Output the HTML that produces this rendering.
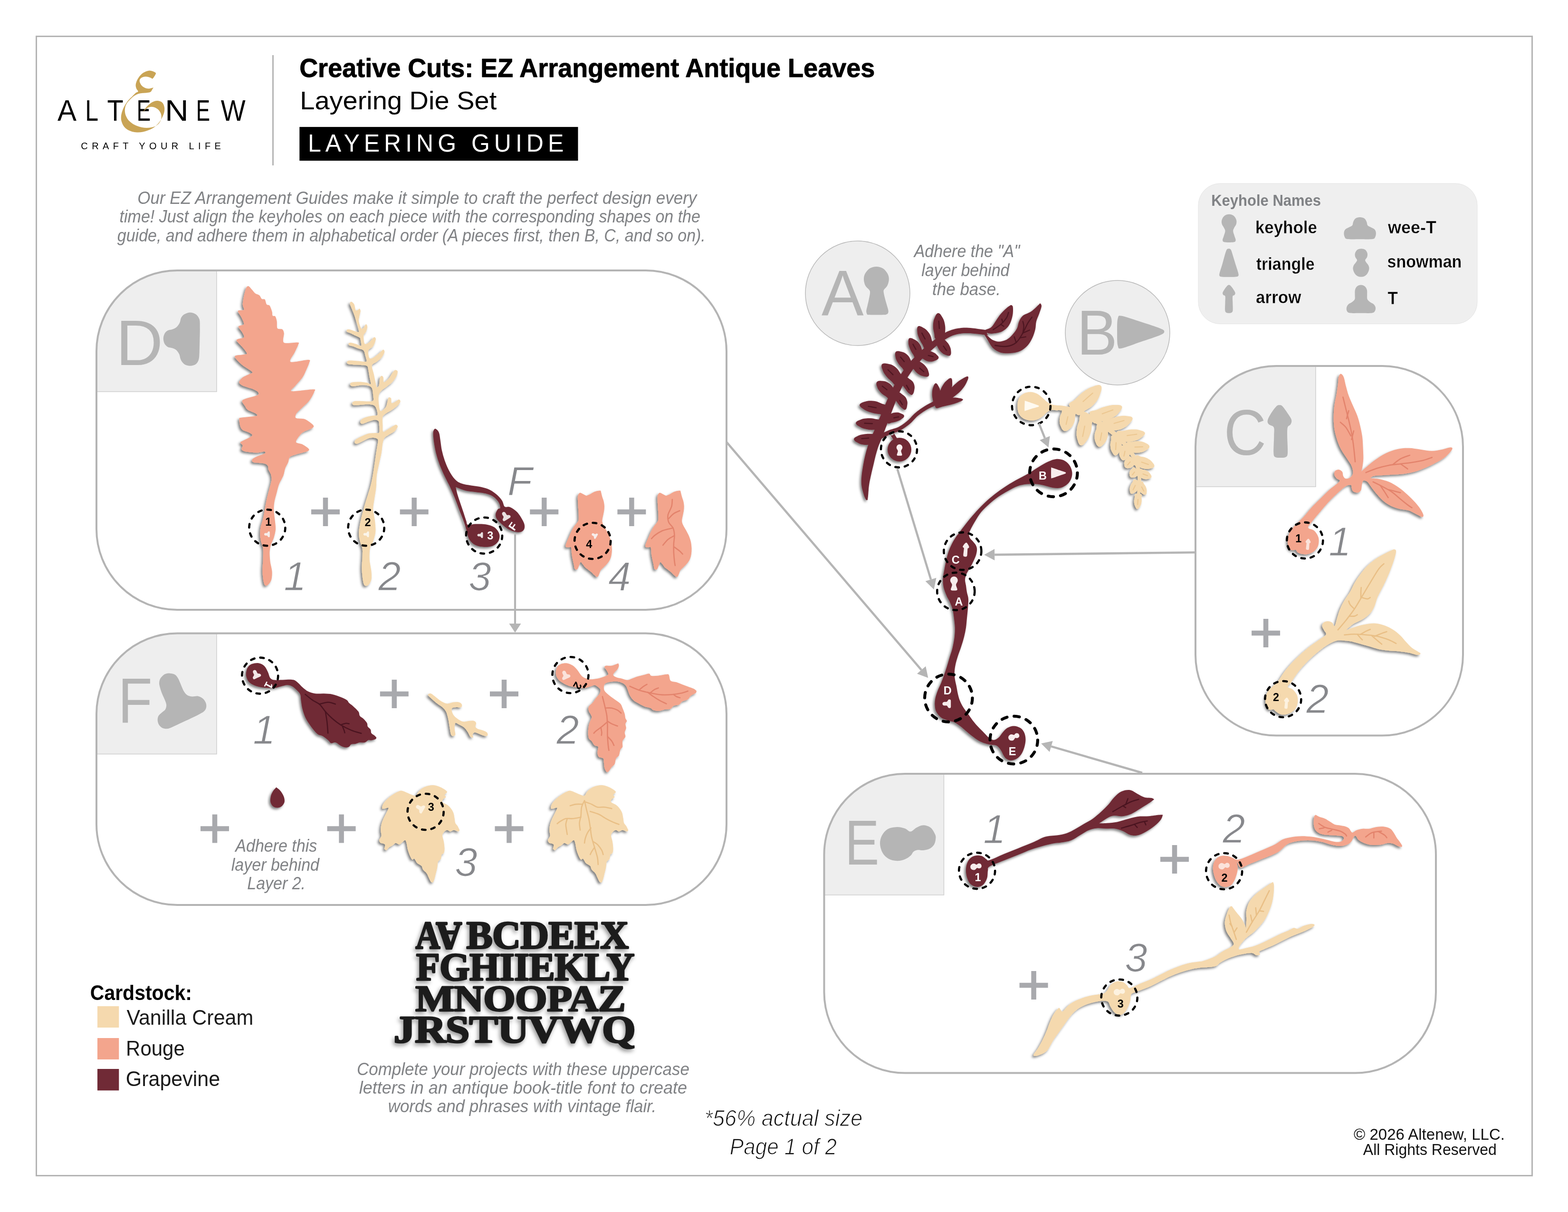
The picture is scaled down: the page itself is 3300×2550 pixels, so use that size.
<!DOCTYPE html>
<html lang="en"><head><meta charset="utf-8"><title>Creative Cuts: EZ Arrangement Antique Leaves - Layering Guide</title>
<style>
html,body{margin:0;padding:0;background:#fff;}
body{width:3300px;height:2550px;overflow:hidden;font-family:"Liberation Sans",sans-serif;}
svg{display:block;position:absolute;left:0;top:0;will-change:transform;}
text{font-family:"Liberation Sans",sans-serif;}
.ss{font-family:"Liberation Sans",sans-serif;}
.sf{font-family:"Liberation Serif",serif;}
.it{font-style:italic;}
.b{font-weight:bold;}
.gv{fill:#702a36;}
.rg{fill:#f3a58d;}
.vc{fill:#f5d9ae;}
.sh{filter:url(#ds);}
.dash{fill:none;stroke:#000;stroke-width:4.6;stroke-dasharray:7.6 12.3;stroke-linecap:round;}
.plus{stroke:#a9aaae;stroke-width:9;fill:none;}
.num{fill:#8b8c90;font-style:italic;font-size:100px;}
.note{fill:#808285;font-style:italic;}
.arr{stroke:#b5b5b5;stroke-width:3.5;fill:none;}
.arh{fill:#b5b5b5;}
.vr{fill:none;stroke:#e3836c;stroke-width:2.6;stroke-linecap:round;stroke-linejoin:round;}
.vv{fill:none;stroke:#e9bf86;stroke-width:2.6;stroke-linecap:round;stroke-linejoin:round;}
.vg{fill:none;stroke:#4a1420;stroke-width:2.5;stroke-linecap:round;stroke-linejoin:round;}
.kh{fill:#b5b5b5;}
</style></head><body>
<svg width="3300" height="2550" viewBox="0 0 3300 2550">
<defs>
<filter id="ds" x="-20%" y="-20%" width="140%" height="140%"><feDropShadow dx="-3.2" dy="3.4" stdDeviation="2.8" flood-color="#000" flood-opacity="0.5"/></filter>
<filter id="ds2" x="-20%" y="-20%" width="140%" height="140%"><feDropShadow dx="-3" dy="5" stdDeviation="4" flood-color="#000" flood-opacity="0.4"/></filter>
</defs>
<!-- page frame -->
<rect x="76.5" y="76.5" width="3148" height="2397" fill="none" stroke="#b4b4b4" stroke-width="3"/>
<line x1="574.5" y1="116" x2="574.5" y2="348" stroke="#b4b4b4" stroke-width="3"/>
<!-- panels -->
<clipPath id="cpD"><rect x="203" y="569" width="1326" height="714" rx="170" ry="170"/></clipPath>
<clipPath id="cpF"><rect x="203" y="1332.5" width="1326" height="571.5" rx="170" ry="170"/></clipPath>
<clipPath id="cpC"><rect x="2516" y="770" width="563" height="777.5" rx="170" ry="170"/></clipPath>
<clipPath id="cpE"><rect x="1734.5" y="1628" width="1287.5" height="629.5" rx="170" ry="170"/></clipPath>
<g fill="#eeeeee" stroke="#cfcfcf" stroke-width="1.5">
<rect x="203" y="569" width="253" height="255" clip-path="url(#cpD)"/>
<rect x="203" y="1332.5" width="253" height="254" clip-path="url(#cpF)"/>
<rect x="2516" y="770" width="253" height="254" clip-path="url(#cpC)"/>
<rect x="1734.5" y="1628" width="252" height="255" clip-path="url(#cpE)"/>
</g>
<g fill="none" stroke="#b4b4b4" stroke-width="4">
<rect x="203" y="569" width="1326" height="714" rx="170" ry="170"/>
<rect x="203" y="1332.5" width="1326" height="571.5" rx="170" ry="170"/>
<rect x="2516" y="770" width="563" height="777.5" rx="170" ry="170"/>
<rect x="1734.5" y="1628" width="1287.5" height="629.5" rx="170" ry="170"/>
</g>
<!-- letter circles -->
<circle cx="1805" cy="617" r="110" fill="#eeeeee" stroke="#b9b9b9" stroke-width="1.5"/>
<circle cx="2352" cy="700" r="110" fill="#eeeeee" stroke="#b9b9b9" stroke-width="1.5"/>
<!-- legend box -->
<rect x="2522" y="386" width="587" height="295.5" rx="46" ry="46" fill="#efefef" stroke="#e4e4e4" stroke-width="1"/>
<!-- header / logo / body text -->
<g aria-label="ALTENEW"><title>ALTENEW</title>
<text class="ss" transform="translate(120.9 253.9) scale(0.6 0.63)" font-size="100" font-weight="normal" font-style="normal" fill="#000">A</text>
<text class="ss" transform="translate(179.36 253.9) scale(0.5 0.63)" font-size="100" font-weight="normal" font-style="normal" fill="#000">L</text>
<text class="ss" transform="translate(225.48 253.9) scale(0.56 0.63)" font-size="100" font-weight="normal" font-style="normal" fill="#000">T</text>
<text class="ss" transform="translate(287.87 253.9) scale(0.44 0.63)" font-size="100" font-weight="normal" font-style="normal" fill="#000">E</text>
<text class="ss" transform="translate(347.11 253.9) scale(0.69 0.63)" font-size="100" font-weight="normal" font-style="normal" fill="#000">N</text>
<text class="ss" transform="translate(412.74 253.9) scale(0.44 0.63)" font-size="100" font-weight="normal" font-style="normal" fill="#000">E</text>
<text class="ss" transform="translate(464.85 253.9) scale(0.55 0.63)" font-size="100" font-weight="normal" font-style="normal" fill="#000">W</text>
</g>
<path d="M327.9 153.7C327.3 152.6 325.1 151.5 322.9 150.6C320.7 149.8 317.5 148.6 314.8 148.6C312.1 148.6 309.5 149.6 306.8 150.6C304.1 151.7 301.2 153.1 298.7 155.2C296.2 157.3 293.6 160.4 291.7 163.2C289.7 166.1 288.1 169.4 287.1 172.3C286.1 175.2 285.5 177.8 285.6 180.4C285.7 182.9 286.8 185.4 287.6 187.4C288.5 189.4 291 191.1 290.7 192.4C290.3 193.8 287.6 193.8 285.6 195.5C283.6 197.1 281.1 200 278.6 202.5C276.1 205 273 207.5 270.5 210.6C268 213.6 265.5 217.3 263.5 220.6C261.4 224 259.8 227.4 258.4 230.7C257.1 234.1 256 237.4 255.4 240.8C254.8 244.1 254.6 247.7 254.9 250.9C255.2 254 256.2 257.1 257.4 259.9C258.7 262.8 260.3 265.6 262.5 268C264.6 270.3 267.5 272.4 270.5 274C273.5 275.6 277.2 276.8 280.6 277.5C283.9 278.3 287.3 278.5 290.7 278.5C294 278.5 297.4 278.2 300.7 277.5C304.1 276.9 307.4 275.8 310.8 274.5C314.2 273.3 317.9 271.8 320.9 270C323.9 268.2 326.4 266.3 328.9 263.9C331.5 261.6 333.8 258.9 336 255.9C338.2 252.9 340.4 249.2 342 245.8C343.6 242.5 344.9 238.9 345.6 235.7C346.2 232.6 346.4 229.5 346.1 226.7C345.7 223.8 344.7 220.7 343.5 218.6C342.4 216.5 340.9 215.2 339 214.1C337.1 213 334.3 212.2 332 212.1C329.6 211.9 327.3 212.3 324.9 213.1C322.6 213.8 320 215.2 317.9 216.6C315.7 218 313.7 220 311.8 221.6C310 223.3 308.3 224.8 306.8 226.7C305.3 228.5 303.9 231 302.7 232.7C301.6 234.5 299.7 237.3 299.7 237.3C299.7 237.3 302.9 233.5 304.8 231.7C306.6 230 308.6 227.9 310.8 226.7C313 225.5 315.5 224.8 317.9 224.7C320.2 224.5 322.6 224.8 324.9 225.7C327.3 226.5 329.9 228 332 229.7C334 231.4 335.7 233.6 337 235.7C338.3 237.9 339.2 240.3 339.5 242.8C339.9 245.3 339.8 248.2 339 250.9C338.3 253.5 336.8 256.6 335 258.9C333.1 261.3 330.6 263.4 327.9 265C325.2 266.5 322.1 267.3 318.9 268C315.7 268.6 312.1 269 308.8 269C305.4 269 302.1 268.6 298.7 268C295.4 267.3 292 266.3 288.6 265C285.3 263.6 281.6 261.9 278.6 259.9C275.5 257.9 272.7 255.4 270.5 252.9C268.3 250.3 266.7 247.7 265.5 244.8C264.2 242 263.3 238.9 263 235.7C262.6 232.6 262.7 228.9 263.5 225.7C264.2 222.5 265.6 219.5 267.5 216.6C269.3 213.8 272 211.1 274.5 208.6C277.1 206 279.9 203.4 282.6 201.5C285.3 199.7 288 198.4 290.7 197.5C293.3 196.6 296 196.3 298.7 196C301.4 195.6 304.3 195.7 306.8 195.5C309.3 195.2 312 195 313.8 194.5C315.7 194 316.7 193.6 317.9 192.4C319 191.3 320 188.8 320.9 187.4C321.8 186 323.1 184.2 323.1 184.2C323.1 184.2 321.4 184.5 319.9 184.9C318.3 185.3 316 186.3 313.8 186.4C311.6 186.5 309.1 186.2 306.8 185.4C304.4 184.6 301.6 182.9 299.7 181.4C297.9 179.9 296.7 178.2 295.7 176.3C294.7 174.5 293.7 172.1 293.7 170.3C293.7 168.4 294.5 166.6 295.7 165.2C296.9 163.9 298.7 162.9 300.7 162.2C302.7 161.6 305.4 161.1 307.8 161.2C310.1 161.3 312.7 162 314.8 162.7C317 163.5 320.9 165.8 320.9 165.8C320.9 165.8 322.9 163.7 323.9 162.2C324.9 160.8 326.3 158.6 326.9 157.2C327.6 155.8 328.6 154.8 327.9 153.7Z" fill="#c9a455"/>
<text class="ss" transform="translate(170.32 313.8) scale(0.2 0.21)" font-size="100" font-weight="normal" font-style="normal" fill="#000" letter-spacing="42">CRAFT YOUR LIFE</text>
<text class="ss" transform="translate(630.13 162) scale(0.54 0.56)" font-size="100" font-weight="bold" font-style="normal" fill="#000" stroke="#000" stroke-width="1.6" stroke-linejoin="round">Creative Cuts: EZ Arrangement Antique Leaves</text>
<text class="ss" transform="translate(631.24 229.9) scale(0.56 0.54)" font-size="100" font-weight="normal" font-style="normal" fill="#000">Layering Die Set</text>
<rect x="630.3" y="267.1" width="586.2" height="71" fill="#000"/>
<text class="ss" transform="translate(647.96 318.8) scale(0.5 0.51)" font-size="100" font-weight="normal" font-style="normal" fill="#fff" letter-spacing="18">LAYERING GUIDE</text>
<text class="ss" transform="translate(289.27 429) scale(0.35 0.37)" font-size="100" font-weight="normal" font-style="italic" fill="#808285">Our EZ Arrangement Guides make it simple to craft the perfect design every</text>
<text class="ss" transform="translate(251.58 468.3) scale(0.34 0.37)" font-size="100" font-weight="normal" font-style="italic" fill="#808285">time! Just align the keyholes on each piece with the corresponding shapes on the</text>
<text class="ss" transform="translate(246.8 507.7) scale(0.34 0.37)" font-size="100" font-weight="normal" font-style="italic" fill="#808285">guide, and adhere them in alphabetical order (A pieces first, then B, C, and so on).</text>
<text class="ss" transform="translate(1923.7 541.4) scale(0.34 0.37)" font-size="100" font-weight="normal" font-style="italic" fill="#808285">Adhere the &quot;A&quot;</text>
<text class="ss" transform="translate(1939.31 580.7) scale(0.34 0.37)" font-size="100" font-weight="normal" font-style="italic" fill="#808285">layer behind</text>
<text class="ss" transform="translate(1962.04 620.5) scale(0.35 0.37)" font-size="100" font-weight="normal" font-style="italic" fill="#808285">the base.</text>
<text class="ss" transform="translate(495.32 1792.2) scale(0.34 0.37)" font-size="100" font-weight="normal" font-style="italic" fill="#808285">Adhere this</text>
<text class="ss" transform="translate(486.81 1832) scale(0.34 0.37)" font-size="100" font-weight="normal" font-style="italic" fill="#808285">layer behind</text>
<text class="ss" transform="translate(520.27 1871.2) scale(0.34 0.37)" font-size="100" font-weight="normal" font-style="italic" fill="#808285">Layer 2.</text>
<text class="ss" transform="translate(750.93 2262) scale(0.35 0.37)" font-size="100" font-weight="normal" font-style="italic" fill="#808285">Complete your projects with these uppercase</text>
<text class="ss" transform="translate(755.79 2300.5) scale(0.36 0.37)" font-size="100" font-weight="normal" font-style="italic" fill="#808285">letters in an antique book-title font to create</text>
<text class="ss" transform="translate(816.65 2339.5) scale(0.35 0.37)" font-size="100" font-weight="normal" font-style="italic" fill="#808285">words and phrases with vintage flair.</text>
<text class="ss" transform="translate(1482.58 2368.9) scale(0.45 0.48)" font-size="100" font-weight="normal" font-style="italic" fill="#111" stroke="#fff" stroke-width="2.6">*56% actual size</text>
<text class="ss" transform="translate(1535.87 2429.3) scale(0.44 0.48)" font-size="100" font-weight="normal" font-style="italic" fill="#111" stroke="#fff" stroke-width="2.6">Page 1 of 2</text>
<text class="ss" transform="translate(2849.03 2397.6) scale(0.33 0.33)" font-size="100" font-weight="normal" font-style="normal" fill="#111">© 2026 Altenew, LLC.</text>
<text class="ss" transform="translate(2868.8 2430.3) scale(0.32 0.33)" font-size="100" font-weight="normal" font-style="normal" fill="#111">All Rights Reserved</text>
<text class="ss" transform="translate(189.78 2103.9) scale(0.41 0.45)" font-size="100" font-weight="bold" font-style="normal" fill="#000">Cardstock:</text>
<text class="ss" transform="translate(266.47 2155.8) scale(0.43 0.45)" font-size="100" font-weight="normal" font-style="normal" fill="#1a1a1a">Vanilla Cream</text>
<text class="ss" transform="translate(265.06 2221.3) scale(0.42 0.45)" font-size="100" font-weight="normal" font-style="normal" fill="#1a1a1a">Rouge</text>
<text class="ss" transform="translate(264.73 2285.2) scale(0.43 0.45)" font-size="100" font-weight="normal" font-style="normal" fill="#1a1a1a">Grapevine</text>
<rect x="205" y="2117" width="45.3" height="45" class="vc"/><rect x="205" y="2184" width="45.3" height="45" class="rg"/><rect x="205" y="2249" width="45.3" height="45.3" class="gv"/>
<g filter="url(#ds2)"><text class="sf" transform="translate(874.55 1995.42) scale(0.72 0.82)" font-size="100" font-weight="bold" font-style="normal" fill="#1e1e1e" letter-spacing="-1" stroke="#1e1e1e" stroke-width="4" stroke-linejoin="round" >A</text><g transform="rotate(180 945 1968.9)"><text class="sf" transform="translate(918.04 1995.42) scale(0.75 0.82)" font-size="100" font-weight="bold" font-style="normal" fill="#1e1e1e" stroke="#1e1e1e" stroke-width="5" stroke-linejoin="round">A</text></g><text class="sf" transform="translate(981.5 1995.42) scale(0.83 0.82)" font-size="100" font-weight="bold" font-style="normal" fill="#1e1e1e" letter-spacing="-1" stroke="#1e1e1e" stroke-width="4" stroke-linejoin="round" >BCDEEX</text><text class="sf" transform="translate(875.75 2061.89) scale(0.82 0.82)" font-size="100" font-weight="bold" font-style="normal" fill="#1e1e1e" letter-spacing="-1" stroke="#1e1e1e" stroke-width="4" stroke-linejoin="round" >FGHIIEKLY</text><text class="sf" transform="translate(874.14 2126.85) scale(0.87 0.79)" font-size="100" font-weight="bold" font-style="normal" fill="#1e1e1e" letter-spacing="-1" stroke="#1e1e1e" stroke-width="4" stroke-linejoin="round" >MNOOPAZ</text><text class="sf" transform="translate(828.44 2193.32) scale(0.91 0.81)" font-size="100" font-weight="bold" font-style="normal" fill="#1e1e1e" letter-spacing="-1" stroke="#1e1e1e" stroke-width="4" stroke-linejoin="round" >JRSTUVWQ</text></g>
<!-- panel D pieces -->
<path class="rg sh" d="M523.4 602.2C525.3 602.9 528.9 607.9 531 610.2C533 612.5 535 615.6 537.2 617.3C539.5 619 544 619.8 546.1 621.5C548.1 623.3 549.4 627.9 551.1 629.1C552.8 630.3 555.9 628.2 557.4 629.9C558.9 631.6 559.7 638.5 561.2 640.4C562.7 642.4 565.8 640.7 567.5 642.9C569.2 645.2 571.6 652.3 572.5 655.5C573.4 658.7 572.7 662.8 573.8 664.3C574.8 665.9 578 663.9 579.3 665.6C580.6 667.3 581.9 671.9 582.6 675.7C583.3 679.5 582.1 688.2 583.8 690.8C585.5 693.4 591.8 691.3 593.9 692.8C596 694.3 597.1 696.6 597.7 700.9C598.3 705.1 593.3 718 597.7 721C602 723.9 622.1 719.9 626.6 720.5C631.2 721.1 628.9 721.7 627.9 724.8C627 727.9 622.8 735.7 620.4 741.1C617.9 746.6 607.2 758.9 611.5 761.3C615.9 763.7 643.5 756.6 649.3 757C655.2 757.4 651.3 760.5 650.6 763.8C649.8 767.1 646.4 774.4 644.3 778.9C642.2 783.4 640.1 789.1 636.7 794C633.3 798.9 625 807.3 621.6 811.6C618.2 816 608.4 821.8 614.1 823C619.7 824.1 652.3 819 659.4 819.2C666.5 819.4 662.5 820.8 661.4 824.2C660.3 827.6 655.5 836.9 651.8 841.8C648.1 846.8 640.9 852.8 636.7 857C632.6 861.1 626.2 866.1 624.1 869.5C622.1 872.9 620.2 877.7 622.9 879.6C625.5 881.5 636.3 879.9 641.8 882.1C647.2 884.4 657.1 891.9 659.4 894.7C661.7 897.6 659.5 899.1 656.9 901C654.2 902.9 645.5 905.2 641.8 907.3C638 909.4 634.5 911.5 631.7 914.9C628.9 918.3 622.1 926.9 622.9 930C623.6 933 632.8 932.9 636.7 935C640.7 937.1 647.6 941.7 649.3 943.8C651 945.9 651.5 947.2 648.1 948.9C644.7 950.6 632.3 953.3 626.6 955.1C621 957 613.3 958.8 610.3 961.4C607.3 964.1 608 969.2 606.5 972.8C605 976.4 601.7 981.2 600.2 985.4C598.7 989.5 598.3 995.6 596.4 1000.5C594.5 1005.4 589.7 1012.8 587.6 1018.1C585.5 1023.4 584.1 1030.1 582.6 1035.7C581.1 1041.4 578.5 1050.2 577.5 1055.9C576.6 1061.5 576.1 1067.4 576.3 1073.5C576.5 1079.5 578.2 1090.1 578.8 1096.1C579.4 1102.2 580.4 1108.5 580.1 1113.8C579.7 1119.1 577.8 1126.5 576.3 1131.4C574.8 1136.3 571.3 1142 570 1146.5C568.7 1151 567.7 1156.3 567.5 1161.6C567.3 1166.9 568 1175.7 568.7 1181.7C569.5 1187.8 572.1 1196.2 572.5 1201.9C572.9 1207.6 572.4 1215.4 571.2 1219.5C570.1 1223.7 566.8 1227.7 564.9 1229.6C563.1 1231.5 560.2 1232.9 558.7 1232.1C557.1 1231.3 555.8 1229.1 554.9 1224.5C553.9 1220 552.5 1209.1 552.4 1201.9C552.2 1194.7 553.4 1183.9 553.6 1176.7C553.8 1169.5 554.2 1159.3 553.6 1154.1C553.1 1148.8 550.8 1145.6 549.8 1141.5C548.9 1137.3 547.5 1131.3 547.3 1126.4C547.1 1121.4 547.6 1114 548.6 1108.7C549.5 1103.4 552.3 1096.8 553.6 1091.1C554.9 1085.4 556.3 1077 557.4 1071C558.5 1064.9 559.9 1056.9 561.2 1050.8C562.5 1044.8 564.7 1036.7 566.2 1030.7C567.7 1024.6 570.7 1015.4 571.2 1010.5C571.8 1005.6 570.9 1001.3 570 998C569 994.6 565.9 990.5 564.9 987.9C564 985.2 565 982.2 563.7 980.3C562.4 978.4 560.7 976.4 556.1 975.3C551.6 974.2 537.2 974.1 533.5 972.8C529.7 971.5 529.8 968.4 531 966.5C532.1 964.6 537.1 962.1 541 960.2C545 958.3 555.1 955.4 557.4 953.9C559.7 952.4 558.6 950.3 556.1 950.1C553.7 949.9 547.1 952.6 541 952.6C535 952.6 520.8 951.2 515.8 950.1C510.9 949 509 947 508.3 945.1C507.5 943.2 511.2 939.6 510.8 937.5C510.4 935.4 506.1 932.6 505.8 931.2C505.4 929.9 505.3 930.4 508.3 928.7C511.3 927 522.5 922 525.9 919.9C529.3 917.8 531.3 916.4 531 914.9C530.6 913.4 526.4 911.3 523.4 909.8C520.4 908.3 513.5 906.7 510.8 904.8C508.2 902.9 506.9 900.6 505.8 897.2C504.6 893.8 503.3 884.9 503.3 882.1C503.3 879.4 502.7 879.9 505.8 879.1C508.8 878.4 518.1 877.8 523.4 877.1C528.7 876.4 538.9 875.7 541 874.6C543.1 873.4 540.3 871.4 537.2 869.5C534.2 867.7 524.1 864.3 520.9 862C517.7 859.7 517.5 857.1 515.8 854.4C514.1 851.8 509.5 846.6 509.5 844.4C509.5 842.1 511.1 841.2 515.8 839.3C520.6 837.4 536.9 833.9 541 831.8C545.2 829.7 544.7 827.4 543.5 825.5C542.4 823.6 538.4 821.3 533.5 819.2C528.6 817.1 515.3 813.9 510.8 811.6C506.3 809.4 503.3 806.7 503.3 804.1C503.3 801.4 507.8 796.5 510.8 794C513.8 791.6 520.4 789.4 523.4 787.7C526.4 786 532.8 785.5 531 782.7C529.1 779.8 516.1 773.2 510.8 768.8C505.5 764.5 498 756.8 495.7 753.7C493.4 750.6 493.4 749.3 495.7 748.2C498 747.1 507.2 746.9 510.8 746.2C514.4 745.5 519.6 745.9 519.6 743.7C519.6 741.4 514 735 510.8 731.1C507.6 727.1 499.7 719.9 498.2 717.2C496.7 714.6 498.5 714.6 500.7 713.4C503 712.3 511.8 711.6 513.3 709.7C514.8 707.8 512.5 704.1 510.8 700.9C509.1 697.6 502.9 690.6 502 688.3C501 685.9 502.8 686.2 504.5 685.2C506.2 684.3 512.8 684.5 513.3 682C513.9 679.4 510.2 672.1 508.3 668.1C506.4 664.2 501.5 657.8 500.7 655.5C500 653.3 501.4 653.6 503.3 653C505.1 652.4 512.2 653.6 513.3 651.8C514.5 649.9 510.8 644.8 510.8 640.4C510.8 636.1 512.2 628.1 513.3 622.8C514.5 617.5 516.8 608.3 518.4 605.2C519.9 602.1 521.5 601.4 523.4 602.2Z"/>
<path class="vc sh" d="M740 634.9C741.4 635.3 744.2 637.7 745.5 640.4C746.8 643.1 747.5 651.3 748.8 653C750 654.7 752.7 652.3 753.8 651.8C755 651.2 755.6 648.9 756.3 649.2C757.1 649.6 758.9 651.8 758.9 654.3C758.9 656.7 756.9 662.4 756.3 665.6C755.8 668.8 754.5 671.9 755.1 675.7C755.6 679.5 758.6 688.7 760.1 690.8C761.6 692.9 763.8 690.7 765.2 689.5C766.5 688.4 768 684.2 768.9 683.2C769.9 682.2 770.8 682 771.5 682.7C772.1 683.5 773.4 685.9 773.2 688.3C773 690.6 771.4 695.7 770.2 698.3C769 701 765.5 702.1 765.2 705.9C764.8 709.7 765.8 721.4 767.7 723.5C769.6 725.6 775.1 721.6 777.7 719.7C780.4 717.8 783.6 712.4 785.3 710.9C787 709.4 788.2 709.1 789.1 709.7C789.9 710.2 791.4 711.9 790.8 714.7C790.3 717.5 787.6 725.1 785.3 728.5C783 731.9 776.4 733.6 775.2 737.4C774.1 741.1 775.9 751.6 777.7 753.7C779.6 755.8 784.4 753.1 787.8 751.2C791.2 749.3 797.6 743.5 800.4 741.1C803.2 738.8 805.4 735.6 806.7 735.6C808 735.6 809.8 738.6 809.2 741.1C808.7 743.7 805.4 749.4 802.9 752.5C800.5 755.5 795.9 758.8 792.9 761.3C789.8 763.7 783.7 765.1 782.8 768.8C781.8 772.6 785.5 781.5 786.6 786.5C787.6 791.4 788.9 797.4 789.8 801.6C790.8 805.7 791.7 812.6 792.9 814.2C794 815.7 796.4 814.3 797.4 811.6C798.3 809 798.5 799.5 799.2 796.5C799.8 793.5 800.9 792.3 801.7 791.5C802.4 790.7 803.4 790.6 804.2 791C804.9 791.4 806.1 792 806.7 794C807.3 796 806.3 803.7 808 804.1C809.7 804.5 815 799.9 818 796.5C821.1 793.1 825.9 784.1 828.1 781.4C830.3 778.7 831.3 778.4 832.6 778.4C834 778.4 836.7 779.5 836.9 781.4C837.2 783.4 836.1 788.1 834.4 791.5C832.7 794.9 828.8 800.7 825.6 804.1C822.4 807.5 816.4 811.5 813 814.2C809.6 816.8 805.2 819.4 802.9 821.7C800.7 824 798.8 826.2 797.9 829.3C796.9 832.3 796.3 836.6 796.6 841.8C797 847.1 798.1 862.2 800.4 864.5C802.7 866.8 809.5 860 811.7 857C814 853.9 814.6 847.5 815.5 844.4C816.5 841.3 816.9 837.3 818 836.3C819.2 835.4 822.1 836.3 823.1 838.1C824 839.8 822.8 847.2 824.3 848.1C825.8 849.1 830.9 845.5 833.2 844.4C835.4 843.2 838 840.6 839.4 840.6C840.9 840.6 842.9 842.7 842.7 844.4C842.5 846.1 840.8 849.3 838.2 851.9C835.6 854.6 829.4 859.3 825.6 862C821.8 864.6 816 867.3 813 869.5C810 871.8 806.6 873.3 805.4 877.1C804.3 880.9 805.3 890 805.4 894.7C805.6 899.4 804.8 907.4 806.7 908.6C808.6 909.7 814.8 904.2 818 902.3C821.3 900.4 825.8 897.3 828.1 896C830.5 894.7 832.3 893.2 833.7 893.5C835 893.7 837.4 895.7 836.9 897.7C836.5 899.8 833.5 904.7 830.6 907.3C827.8 909.9 821.3 912.8 818 914.9C814.8 916.9 811.1 918.5 809.2 921.2C807.3 923.8 806.4 927.8 805.4 932.5C804.5 937.2 804.1 946.2 802.9 952.6C801.8 959.1 799.4 968.1 797.9 975.3C796.4 982.5 793.8 992.9 792.9 1000.5C791.9 1008 792.4 1018.1 791.6 1025.6C790.8 1033.2 788.8 1044 787.8 1050.8C786.9 1057.6 785.1 1064.2 785.3 1071C785.5 1077.8 788.3 1089 789.1 1096.1C789.8 1103.3 790.9 1112.4 790.3 1118.8C789.8 1125.2 787 1134 785.3 1138.9C783.6 1143.9 780.1 1145.9 779 1151.5C777.9 1157.2 777.4 1169.2 777.7 1176.7C778.1 1184.3 781 1195.5 781.5 1201.9C782.1 1208.3 782.5 1215.2 781.5 1219.5C780.6 1223.9 777.3 1229 775.2 1230.8C773.2 1232.7 769.4 1233.4 767.7 1232.1C766 1230.8 764.8 1227.3 763.9 1222C763 1216.7 761.6 1204.4 761.4 1196.9C761.2 1189.3 762.4 1178.1 762.6 1171.7C762.8 1165.3 763.4 1159 762.6 1154.1C761.9 1149.1 758.7 1143.9 757.6 1138.9C756.5 1134 754.9 1127.7 755.1 1121.3C755.3 1114.9 757.3 1103.7 758.9 1096.1C760.4 1088.6 763.1 1078.5 765.2 1071C767.2 1063.4 770.4 1053.3 772.7 1045.8C775 1038.2 778.4 1028.2 780.3 1020.6C782.2 1013.1 784 1003 785.3 995.4C786.6 987.9 788.1 976.7 789.1 970.3C790 963.8 790.8 957.5 791.6 952.6C792.4 947.7 793.5 941.7 794.1 937.5C794.7 933.4 796.3 927.4 795.4 924.9C794.4 922.5 790.8 921.5 787.8 921.2C784.8 920.8 779 921.3 775.2 922.4C771.5 923.6 766.2 927 762.6 928.7C759 930.4 753.8 933.4 751.3 933.7C748.8 934.1 746.6 932.6 746.3 931.2C745.9 929.9 746.7 926.8 748.8 924.9C750.9 923 756.2 920.5 760.1 918.6C764.1 916.8 770.7 913.5 775.2 912.3C779.8 911.2 786.9 911.5 790.3 911.1C793.7 910.7 796.8 912.3 797.9 909.8C799 907.4 798.1 898.3 797.9 894.7C797.7 891.1 798.1 887.6 796.6 885.9C795.1 884.2 791 883.2 787.8 883.4C784.6 883.6 779 885.9 775.2 887.2C771.5 888.4 765.2 891.5 762.6 891.7C760.1 891.9 758.3 889.9 758.1 888.4C757.9 887 759.2 883.8 761.4 882.1C763.6 880.4 769.1 878.2 772.7 877.1C776.3 876 782.1 875.1 785.3 874.6C788.5 874 793 875.2 794.1 873.3C795.2 871.4 793.8 865 792.9 862C791.9 859 790.5 854.9 787.8 853.2C785.2 851.5 779.8 850.8 775.2 850.7C770.7 850.5 762.1 851.7 757.6 851.9C753.1 852.2 747.5 852.9 745 852.4C742.6 852 741.2 850.1 741.2 848.9C741.2 847.7 742.2 845.1 745 844.4C747.8 843.6 755.6 843.9 760.1 843.9C764.7 843.9 771.5 844.5 775.2 844.4C779 844.3 783.8 845 785.3 843.1C786.8 841.2 785.7 835.7 785.3 831.8C784.9 827.8 784.3 819.7 782.8 816.7C781.3 813.6 778.6 812.6 775.2 811.6C771.8 810.7 765 810.2 760.1 810.4C755.2 810.6 746 813 742.5 812.9C739 812.8 737.3 810.8 737 809.6C736.6 808.4 736.9 805.7 740 804.8C743.1 803.9 752.7 803.5 757.6 803.6C762.5 803.7 769.3 804.7 772.7 805.3C776.1 806 779.5 809.6 780.3 807.9C781 806.2 778.5 798.4 777.7 794C777 789.7 776 782.5 775.2 778.9C774.5 775.3 774.6 771.7 772.7 770.1C770.8 768.5 766.4 768.7 762.6 768.3C758.9 768 751.9 767.9 747.5 767.6C743.2 767.3 736.3 767.1 733.7 766.3C731 765.6 729.9 763.7 729.9 762.5C729.9 761.4 730.7 759.3 733.7 758.8C736.7 758.3 745.3 759 750 759.3C754.8 759.6 761.9 760.7 765.2 760.8C768.4 760.9 770.9 761.8 771.5 760C772 758.2 769.9 752.1 768.9 748.7C768 745.3 767.2 739.6 765.2 737.4C763.1 735.1 758.5 734.9 755.1 733.6C751.7 732.3 745.5 729.6 742.5 728.5C739.5 727.5 736.3 727.5 734.9 726.5C733.6 725.6 733.1 723.1 733.7 722.3C734.2 721.4 736.3 720.7 738.7 721C741.2 721.3 746.8 723.1 750 724C753.3 725 758.8 728.5 760.1 727.3C761.4 726.1 759.2 718.4 758.9 716C758.5 713.5 758.9 712.2 757.6 710.9C756.3 709.6 753.1 708.7 750 707.1C747 705.6 740.4 702.2 737.5 700.9C734.5 699.5 731.5 699.4 730.4 698.3C729.3 697.3 729 694.6 729.9 693.8C730.8 693 733.6 692.8 736.2 693.3C738.8 693.8 744.7 696.3 747.5 697.1C750.4 697.8 754.3 700 755.1 698.3C755.8 696.6 753.5 689.5 752.6 685.7C751.6 682 750.1 677.3 748.8 673.2C747.5 669 745.3 662.2 743.8 658.1C742.2 653.9 739.8 648.5 738.7 645.5C737.6 642.4 736 639.5 736.2 637.9C736.4 636.3 738.6 634.5 740 634.9Z"/>

<path class="gv sh" d="M916.9 902.3C918.6 903.2 922.2 905.8 923.8 909.9C925.5 913.9 925.8 920.2 926.8 926.5C927.8 932.8 928.4 940.6 929.9 947.6C931.4 954.7 933.4 961.7 935.9 968.8C938.4 975.8 941.4 983.4 945 989.9C948.5 996.5 952.8 1003.5 957.1 1008C961.3 1012.6 964.9 1014.8 970.7 1017.1C976.5 1019.4 984.8 1020.4 991.8 1021.6C998.9 1022.9 1006.4 1023.2 1013 1024.7C1019.5 1026.2 1025.6 1027.9 1031.1 1030.7C1036.6 1033.5 1041.9 1037.5 1046.2 1041.3C1050.5 1045.1 1054.1 1049.2 1056.8 1053.4C1059.5 1057.5 1059.5 1063.8 1062.2 1066.1C1065 1068.3 1069 1065 1073.4 1067C1077.8 1068.9 1084 1072.8 1088.5 1077.5C1093 1082.3 1098 1090.6 1100.6 1095.7C1103.2 1100.7 1104.2 1104.2 1104.2 1107.7C1104.2 1111.3 1103 1114.8 1100.6 1116.8C1098.2 1118.8 1094.6 1120.1 1090 1119.8C1085.5 1119.6 1078.7 1117.8 1073.4 1115.3C1068.1 1112.8 1062.8 1108.5 1058.3 1104.7C1053.8 1101 1048.7 1096.4 1046.2 1092.6C1043.7 1088.9 1042.9 1085.6 1043.2 1082.1C1043.4 1078.5 1046.1 1073.8 1047.7 1071.5C1049.3 1069.2 1052.6 1071 1052.9 1068.5C1053.1 1066 1051.8 1060.4 1049.2 1056.4C1046.6 1052.4 1041.7 1047.3 1037.1 1044.3C1032.6 1041.3 1028.1 1039.8 1022 1038.3C1016 1036.7 1007.9 1036.2 1000.9 1035.2C993.8 1034.2 986 1033.7 979.7 1032.2C973.4 1030.7 966.5 1027.4 963.1 1026.2C959.7 1024.9 959.2 1024.7 959.2 1024.7C959.2 1024.7 961.4 1035.5 963.1 1041.3C964.8 1047.1 967.1 1053.4 969.1 1059.4C971.2 1065.5 973.2 1071.5 975.2 1077.5C977.2 1083.6 979.6 1091.2 981.2 1095.7C982.8 1100.1 981.6 1103 984.9 1104.1C988.1 1105.3 994.7 1102.8 1000.9 1102.6C1007.1 1102.5 1015.5 1102.1 1022 1103.2C1028.6 1104.3 1035.4 1106 1040.2 1109.3C1044.9 1112.5 1049.2 1118.1 1050.7 1122.9C1052.3 1127.6 1051.5 1133.7 1049.2 1138C1047 1142.2 1042.2 1146.4 1037.1 1148.5C1032.1 1150.7 1025.1 1150.9 1019 1150.7C1013 1150.4 1005.9 1149.4 1000.9 1147C995.8 1144.7 991.7 1140.5 988.8 1136.5C985.9 1132.4 984.6 1126.7 983.4 1122.9C982.1 1119 982.7 1118.2 981.2 1113.2C979.7 1108.2 976.8 1099.6 974.3 1092.6C971.8 1085.7 969 1079 966.1 1071.5C963.3 1063.9 960.1 1054.9 957.1 1047.3C954 1039.8 951.5 1033.7 948 1026.2C944.5 1018.6 939.7 1010.1 935.9 1002C932.1 993.9 928.4 985.9 925.3 977.8C922.3 969.8 919.8 961.7 917.8 953.7C915.8 945.6 914.2 936.5 913.2 929.5C912.2 922.4 911.7 915.5 911.7 911.4C911.7 907.2 912.4 905.9 913.2 904.4C914.1 902.9 915.1 901.4 916.9 902.3Z"/>
<path transform="translate(1010.5 1125.9) rotate(-90) scale(0.2)" fill="#e9e1e1" d="M-0.3 -29.6C2.4 -29.6 5.7 -28.4 7.9 -26.6C10 -24.8 11.6 -22.1 12.4 -19C13.2 -16 12.5 -11.7 12.7 -8.5C12.8 -5.2 12.2 -1.9 13.3 0.6C14.4 3.1 17.1 4.9 19.3 6.6C21.6 8.4 25 9.3 26.9 11.2C28.8 13.1 30.2 15.8 30.5 18.1C30.9 20.5 30.3 23.5 29 25.4C27.8 27.2 27.9 28.6 23 29.3C18.1 30 7.5 29.6 -0.3 29.6C-8.1 29.6 -18.7 30 -23.6 29.3C-28.5 28.6 -28.5 27.2 -29.6 25.4C-30.8 23.5 -31 20.5 -30.5 18.1C-30.1 15.8 -28.8 13.1 -26.9 11.2C-25 9.3 -21.6 8.4 -19.3 6.6C-17.1 4.9 -14.4 3.1 -13.3 0.6C-12.2 -1.9 -13.1 -5.2 -13 -8.5C-12.9 -11.7 -13.4 -16 -12.7 -19C-11.9 -22.1 -10.5 -24.8 -8.5 -26.6C-6.4 -28.4 -3 -29.6 -0.3 -29.6Z"/>
<path transform="translate(1063.1 1085.1) rotate(-32) scale(0.3)" fill="#e9e1e1" d="M-0.3 -29.6C2.4 -29.6 5.7 -28.4 7.9 -26.6C10 -24.8 11.6 -22.1 12.4 -19C13.2 -16 12.5 -11.7 12.7 -8.5C12.8 -5.2 12.2 -1.9 13.3 0.6C14.4 3.1 17.1 4.9 19.3 6.6C21.6 8.4 25 9.3 26.9 11.2C28.8 13.1 30.2 15.8 30.5 18.1C30.9 20.5 30.3 23.5 29 25.4C27.8 27.2 27.9 28.6 23 29.3C18.1 30 7.5 29.6 -0.3 29.6C-8.1 29.6 -18.7 30 -23.6 29.3C-28.5 28.6 -28.5 27.2 -29.6 25.4C-30.8 23.5 -31 20.5 -30.5 18.1C-30.1 15.8 -28.8 13.1 -26.9 11.2C-25 9.3 -21.6 8.4 -19.3 6.6C-17.1 4.9 -14.4 3.1 -13.3 0.6C-12.2 -1.9 -13.1 -5.2 -13 -8.5C-12.9 -11.7 -13.4 -16 -12.7 -19C-11.9 -22.1 -10.5 -24.8 -8.5 -26.6C-6.4 -28.4 -3 -29.6 -0.3 -29.6Z"/>
<text x="1031.7" y="1135.2" font-size="23.5" font-weight="bold" fill="#fff" text-anchor="middle">3</text>
<text x="1086.4" y="1112.2" font-size="23.5" font-weight="bold" fill="#fff" text-anchor="middle" transform="rotate(-55 1086.4 1112.2)">F</text>
<circle class="dash" cx="1019" cy="1126.8" r="38" stroke-width="4.6"/>
<path class="rg sh" d="M1219.1 1037.8C1220.1 1036.6 1220.6 1036.6 1222.1 1037C1223.6 1037.4 1226.1 1039 1228.2 1040C1230.2 1041 1234.2 1043.1 1234.2 1043.1C1234.2 1043.1 1239 1041.4 1241.8 1040C1244.5 1038.6 1247.8 1036 1250.8 1034.7C1253.8 1033.5 1257.6 1032.9 1259.9 1032.5C1262.2 1032.1 1264.4 1032.5 1264.4 1032.5C1264.4 1032.5 1264.7 1034.1 1265.2 1036.3C1265.7 1038.4 1266.6 1042.3 1267.4 1045.3C1268.3 1048.3 1269.7 1051.1 1270.5 1054.4C1271.2 1057.7 1271.9 1061.4 1272 1065C1272.1 1068.5 1271.7 1072 1271.2 1075.5C1270.7 1079.1 1269.6 1082.6 1269 1086.1C1268.3 1089.6 1267.2 1093.4 1267.4 1096.7C1267.7 1100 1269 1102.5 1270.5 1105.7C1272 1109 1274.5 1112.5 1276.5 1116.3C1278.5 1120.1 1280.9 1124.4 1282.6 1128.4C1284.2 1132.4 1285.5 1136.2 1286.3 1140.5C1287.2 1144.8 1287.7 1149.8 1287.8 1154.1C1288 1158.4 1287.7 1162.4 1287.1 1166.2C1286.5 1169.9 1285.6 1173.5 1284.1 1176.7C1282.6 1180 1280.3 1183 1278 1185.8C1275.8 1188.6 1272.7 1191.1 1270.5 1193.4C1268.2 1195.6 1265.9 1197.1 1264.4 1199.4C1262.9 1201.7 1262.4 1204.7 1261.4 1207C1260.4 1209.2 1259.4 1211.9 1258.4 1213C1257.4 1214.1 1255.4 1213.8 1255.4 1213.8C1255.4 1213.8 1252.6 1211.6 1250.8 1210C1249.1 1208.3 1247 1206 1244.8 1203.9C1242.5 1201.9 1239.5 1199.7 1237.2 1197.9C1235 1196.1 1232.9 1195.1 1231.2 1193.4C1229.4 1191.6 1228.2 1189.1 1226.6 1187.3C1225.1 1185.6 1223.4 1182.5 1222.1 1182.8C1220.9 1183 1220.1 1186.6 1219.1 1188.8C1218.1 1191.1 1217.1 1194.7 1216.1 1196.4C1215.1 1198 1213 1198.7 1213 1198.7C1213 1198.7 1210.2 1198 1209.3 1196.4C1208.4 1194.7 1208.4 1191.9 1207.8 1188.8C1207.1 1185.8 1206.2 1182 1205.5 1178.3C1204.7 1174.5 1203.7 1169.9 1203.2 1166.2C1202.7 1162.4 1202.9 1158.1 1202.5 1155.6C1202.1 1153.1 1202.2 1151.7 1201 1151.1C1199.7 1150.4 1196.6 1151.8 1194.9 1151.8C1193.3 1151.8 1191.1 1151.1 1191.1 1151.1C1191.1 1151.1 1190 1149.3 1190.4 1147.3C1190.8 1145.3 1192.1 1142.1 1193.4 1139C1194.7 1135.8 1196.4 1131.9 1197.9 1128.4C1199.5 1124.9 1200.7 1121.4 1202.5 1117.8C1204.2 1114.3 1206.5 1110.3 1208.5 1107.3C1210.5 1104.2 1213 1102 1214.6 1099.7C1216.1 1097.4 1217.1 1096.7 1217.6 1093.7C1218.1 1090.6 1217.7 1085.9 1217.6 1081.6C1217.5 1077.3 1217.1 1072.5 1216.8 1068C1216.6 1063.4 1216.2 1058.4 1216.1 1054.4C1215.9 1050.4 1215.6 1046.6 1216.1 1043.8C1216.6 1041 1218.1 1038.9 1219.1 1037.8Z"/>
<path class="rg sh" d="M1386.8 1037.8C1387.8 1036.6 1388.3 1036.6 1389.8 1037C1391.3 1037.4 1393.9 1039 1395.9 1040C1397.9 1041 1401.9 1043.1 1401.9 1043.1C1401.9 1043.1 1406.7 1041.4 1409.5 1040C1412.2 1038.6 1415.5 1036 1418.5 1034.7C1421.6 1033.5 1425.3 1032.9 1427.6 1032.5C1429.9 1032.1 1432.1 1032.5 1432.1 1032.5C1432.1 1032.5 1432.4 1034.1 1432.9 1036.3C1433.4 1038.4 1434.3 1042.3 1435.2 1045.3C1436 1048.3 1437.4 1051.1 1438.2 1054.4C1438.9 1057.7 1439.6 1061.4 1439.7 1065C1439.8 1068.5 1439.4 1072 1438.9 1075.5C1438.4 1079.1 1437.3 1082.6 1436.7 1086.1C1436 1089.6 1434.9 1093.4 1435.2 1096.7C1435.4 1100 1436.7 1102.5 1438.2 1105.7C1439.7 1109 1442.2 1112.5 1444.2 1116.3C1446.2 1120.1 1448.6 1124.4 1450.3 1128.4C1451.9 1132.4 1453.2 1136.2 1454.1 1140.5C1454.9 1144.8 1455.4 1149.8 1455.6 1154.1C1455.7 1158.4 1455.4 1162.4 1454.8 1166.2C1454.2 1169.9 1453.3 1173.5 1451.8 1176.7C1450.3 1180 1448 1183 1445.7 1185.8C1443.5 1188.6 1440.5 1191.1 1438.2 1193.4C1435.9 1195.6 1433.7 1197.1 1432.1 1199.4C1430.6 1201.7 1430.1 1204.7 1429.1 1207C1428.1 1209.2 1427.1 1211.9 1426.1 1213C1425.1 1214.1 1423.1 1213.8 1423.1 1213.8C1423.1 1213.8 1420.3 1211.6 1418.5 1210C1416.8 1208.3 1414.8 1206 1412.5 1203.9C1410.2 1201.9 1407.2 1199.7 1404.9 1197.9C1402.7 1196.1 1400.7 1195.1 1398.9 1193.4C1397.1 1191.6 1395.9 1189.1 1394.4 1187.3C1392.9 1185.6 1391.1 1182.5 1389.8 1182.8C1388.6 1183 1387.8 1186.6 1386.8 1188.8C1385.8 1191.1 1384.8 1194.7 1383.8 1196.4C1382.8 1198 1380.8 1198.7 1380.8 1198.7C1380.8 1198.7 1377.9 1198 1377 1196.4C1376.1 1194.7 1376.1 1191.9 1375.5 1188.8C1374.9 1185.8 1374 1182 1373.2 1178.3C1372.5 1174.5 1371.5 1169.9 1370.9 1166.2C1370.4 1162.4 1370.6 1158.1 1370.2 1155.6C1369.8 1153.1 1369.9 1151.7 1368.7 1151.1C1367.4 1150.4 1364.3 1151.8 1362.6 1151.8C1361 1151.8 1358.9 1151.1 1358.9 1151.1C1358.9 1151.1 1357.7 1149.3 1358.1 1147.3C1358.5 1145.3 1359.9 1142.1 1361.1 1139C1362.4 1135.8 1364.1 1131.9 1365.7 1128.4C1367.2 1124.9 1368.4 1121.4 1370.2 1117.8C1372 1114.3 1374.2 1110.3 1376.2 1107.3C1378.3 1104.2 1380.8 1102 1382.3 1099.7C1383.8 1097.4 1384.8 1096.7 1385.3 1093.7C1385.8 1090.6 1385.4 1085.9 1385.3 1081.6C1385.2 1077.3 1384.8 1072.5 1384.5 1068C1384.3 1063.4 1383.9 1058.4 1383.8 1054.4C1383.7 1050.4 1383.3 1046.6 1383.8 1043.8C1384.3 1041 1385.8 1038.9 1386.8 1037.8Z"/>
<path transform="translate(1250.8 1126.1) rotate(-60) scale(0.2)" fill="#f7eeeb" d="M-0.3 -29.6C2.4 -29.6 5.7 -28.4 7.9 -26.6C10 -24.8 11.6 -22.1 12.4 -19C13.2 -16 12.5 -11.7 12.7 -8.5C12.8 -5.2 12.2 -1.9 13.3 0.6C14.4 3.1 17.1 4.9 19.3 6.6C21.6 8.4 25 9.3 26.9 11.2C28.8 13.1 30.2 15.8 30.5 18.1C30.9 20.5 30.3 23.5 29 25.4C27.8 27.2 27.9 28.6 23 29.3C18.1 30 7.5 29.6 -0.3 29.6C-8.1 29.6 -18.7 30 -23.6 29.3C-28.5 28.6 -28.5 27.2 -29.6 25.4C-30.8 23.5 -31 20.5 -30.5 18.1C-30.1 15.8 -28.8 13.1 -26.9 11.2C-25 9.3 -21.6 8.4 -19.3 6.6C-17.1 4.9 -14.4 3.1 -13.3 0.6C-12.2 -1.9 -13.1 -5.2 -13 -8.5C-12.9 -11.7 -13.4 -16 -12.7 -19C-11.9 -22.1 -10.5 -24.8 -8.5 -26.6C-6.4 -28.4 -3 -29.6 -0.3 -29.6Z"/>
<text x="1239.9" y="1153.4" font-size="23.5" font-weight="bold" fill="#000" text-anchor="middle">4</text>
<circle class="dash" cx="1247.2" cy="1138" r="38" stroke-width="4.6"/>
<path class="vr" d="M1414.9 1050.9C1414.6 1053.4 1414.9 1060 1413.4 1065.5C1411.9 1070.9 1406.8 1078 1405.8 1083.6C1404.8 1089.1 1405.6 1094.2 1407.3 1098.7C1409.1 1103.2 1414.4 1106.2 1416.4 1110.8C1418.4 1115.3 1419.2 1120.3 1419.4 1125.9C1419.7 1131.4 1418.2 1138 1417.9 1144C1417.7 1150 1417.7 1156.1 1417.9 1162.1C1418.2 1168.2 1418.9 1175.6 1419.4 1180.3C1419.9 1184.9 1420.7 1188.3 1420.9 1189.9"/>
<path class="vr" d="M1407.3 1091.1C1409.1 1089.4 1414 1083.3 1417.9 1080.6C1421.8 1077.8 1428.5 1075.5 1430.6 1074.5"/>
<path class="vr" d="M1416.4 1110.8C1414.6 1111.2 1409.6 1112.2 1405.8 1113.2C1402 1114.2 1398.3 1114.7 1393.7 1116.8C1389.2 1118.9 1382.4 1123.1 1378.6 1125.9C1374.8 1128.6 1372.3 1132.2 1371.1 1133.4"/>
<path class="vr" d="M1418.5 1127.4C1416.4 1128.6 1409.7 1131.7 1405.8 1134.9C1401.9 1138.2 1397 1145 1395.2 1147"/>
<path class="vr" d="M1418.8 1150.7C1420.7 1152.1 1427 1156.6 1430 1159.1C1433 1161.6 1435.5 1164.7 1436.6 1165.8"/>
<path d="M655 1077H715M685 1047V1107" stroke="#a8a9ad" stroke-width="10.5" fill="none"/>
<path d="M841.7 1077H901.7M871.7 1047V1107" stroke="#a8a9ad" stroke-width="10.5" fill="none"/>
<path d="M1115.3 1077H1175.3M1145.3 1047V1107" stroke="#a8a9ad" stroke-width="10.5" fill="none"/>
<path d="M1299.4 1077H1359.4M1329.4 1047V1107" stroke="#a8a9ad" stroke-width="10.5" fill="none"/>
<text x="621" y="1241.5" font-size="85" font-style="italic" fill="#87888c" text-anchor="middle" stroke="#fff" stroke-width="1.2">1</text>
<text x="820" y="1241.5" font-size="85" font-style="italic" fill="#87888c" text-anchor="middle" stroke="#fff" stroke-width="1.2">2</text>
<text x="1010" y="1241.5" font-size="85" font-style="italic" fill="#87888c" text-anchor="middle" stroke="#fff" stroke-width="1.2">3</text>
<text x="1304" y="1241.5" font-size="85" font-style="italic" fill="#87888c" text-anchor="middle" stroke="#fff" stroke-width="1.2">4</text>
<text x="1094" y="1041.5" font-size="85" font-style="italic" fill="#87888c" text-anchor="middle" stroke="#fff" stroke-width="1.2">F</text>
<line x1="1084" y1="1124" x2="1084" y2="1312" stroke="#b5b5b5" stroke-width="4.2"/><path d="M1084 1331L1096.5 1312L1071.5 1312Z" fill="#b5b5b5"/>
<path transform="translate(561.9 1124.1) rotate(-90) scale(0.2)" fill="#f7eeeb" d="M-0.3 -29.6C2.4 -29.6 5.7 -28.4 7.9 -26.6C10 -24.8 11.6 -22.1 12.4 -19C13.2 -16 12.5 -11.7 12.7 -8.5C12.8 -5.2 12.2 -1.9 13.3 0.6C14.4 3.1 17.1 4.9 19.3 6.6C21.6 8.4 25 9.3 26.9 11.2C28.8 13.1 30.2 15.8 30.5 18.1C30.9 20.5 30.3 23.5 29 25.4C27.8 27.2 27.9 28.6 23 29.3C18.1 30 7.5 29.6 -0.3 29.6C-8.1 29.6 -18.7 30 -23.6 29.3C-28.5 28.6 -28.5 27.2 -29.6 25.4C-30.8 23.5 -31 20.5 -30.5 18.1C-30.1 15.8 -28.8 13.1 -26.9 11.2C-25 9.3 -21.6 8.4 -19.3 6.6C-17.1 4.9 -14.4 3.1 -13.3 0.6C-12.2 -1.9 -13.1 -5.2 -13 -8.5C-12.9 -11.7 -13.4 -16 -12.7 -19C-11.9 -22.1 -10.5 -24.8 -8.5 -26.6C-6.4 -28.4 -3 -29.6 -0.3 -29.6Z"/>
<path transform="translate(770.7 1124.1) rotate(-90) scale(0.2)" fill="#fbf5ea" d="M-0.3 -29.6C2.4 -29.6 5.7 -28.4 7.9 -26.6C10 -24.8 11.6 -22.1 12.4 -19C13.2 -16 12.5 -11.7 12.7 -8.5C12.8 -5.2 12.2 -1.9 13.3 0.6C14.4 3.1 17.1 4.9 19.3 6.6C21.6 8.4 25 9.3 26.9 11.2C28.8 13.1 30.2 15.8 30.5 18.1C30.9 20.5 30.3 23.5 29 25.4C27.8 27.2 27.9 28.6 23 29.3C18.1 30 7.5 29.6 -0.3 29.6C-8.1 29.6 -18.7 30 -23.6 29.3C-28.5 28.6 -28.5 27.2 -29.6 25.4C-30.8 23.5 -31 20.5 -30.5 18.1C-30.1 15.8 -28.8 13.1 -26.9 11.2C-25 9.3 -21.6 8.4 -19.3 6.6C-17.1 4.9 -14.4 3.1 -13.3 0.6C-12.2 -1.9 -13.1 -5.2 -13 -8.5C-12.9 -11.7 -13.4 -16 -12.7 -19C-11.9 -22.1 -10.5 -24.8 -8.5 -26.6C-6.4 -28.4 -3 -29.6 -0.3 -29.6Z"/>
<text x="564.9" y="1106.1" font-size="23.5" font-weight="bold" fill="#000" text-anchor="middle">1</text>
<text x="774" y="1107.4" font-size="23.5" font-weight="bold" fill="#000" text-anchor="middle">2</text>
<circle class="dash" cx="562.4" cy="1110.2" r="38" stroke-width="4.6"/>
<circle class="dash" cx="770.7" cy="1110.2" r="38" stroke-width="4.6"/>
<!-- panel F pieces -->
<path class="gv sh" d="M518 1421.6C517.3 1417.5 518.3 1412.8 519.2 1409.5C520 1406.2 521.2 1404.1 523.1 1401.9C525 1399.8 527.1 1397.9 530.7 1396.8C534.2 1395.7 540 1394.5 544.3 1395.3C548.5 1396 553.1 1398.2 556.3 1401.3C559.6 1404.5 561.9 1409.9 563.9 1414C565.9 1418.2 566.4 1423.3 568.4 1426.1C570.4 1428.9 572.2 1429.9 576 1430.6C579.8 1431.4 586.1 1430.8 591.1 1430.6C596.1 1430.5 601.7 1429.7 606.2 1429.7C610.7 1429.7 614.8 1429.5 618.3 1430.6C621.8 1431.8 624.3 1434.2 627.4 1436.7C630.4 1439.2 632.9 1442.7 636.4 1445.7C640 1448.8 644 1452.5 648.5 1454.8C653 1457.1 658.1 1458.6 663.6 1459.3C669.2 1460.1 675.7 1459.1 681.8 1459.3C687.8 1459.6 693.8 1459.6 699.9 1460.9C705.9 1462.1 713 1464.9 718 1466.9C723.1 1468.9 727.3 1470.9 730.1 1472.9C732.9 1475 732.6 1477 734.6 1479C736.7 1481 738.9 1482 742.2 1485C745.5 1488 751.8 1493.6 754.3 1497.1C756.8 1500.6 755.5 1503.7 757.3 1506.2C759.1 1508.7 762.3 1509.7 764.9 1512.2C767.4 1514.7 770.9 1518.5 772.4 1521.3C773.9 1524 772.7 1526.6 773.9 1528.8C775.2 1531.1 778.7 1532.6 780 1534.9C781.2 1537.1 780.2 1540.4 781.5 1542.4C782.7 1544.4 785.8 1545.5 787.5 1547C789.3 1548.5 792.1 1551.5 792.1 1551.5C792.1 1551.5 792.3 1554.1 790.5 1555.1C788.8 1556.1 784 1557.2 781.5 1557.5C779 1557.8 777.7 1556.2 775.4 1556.9C773.2 1557.7 770.9 1561.2 767.9 1562.1C764.9 1562.9 760.6 1561.6 757.3 1562.1C754 1562.6 751.3 1564.4 748.2 1565.1C745.2 1565.7 741.4 1565 739.2 1566C736.9 1567 736.7 1570 734.6 1571.1C732.6 1572.2 729.9 1572.9 727.1 1572.6C724.3 1572.4 721.5 1571.4 718 1569.6C714.5 1567.9 709.5 1563.1 705.9 1562.1C702.4 1561.1 699.4 1564.3 696.9 1563.6C694.3 1562.8 693.8 1560.1 690.8 1557.5C687.8 1555 682.3 1550.5 678.7 1548.5C675.2 1546.5 672.7 1547.5 669.7 1545.5C666.6 1543.4 663.6 1539.9 660.6 1536.4C657.6 1532.9 654.6 1528.8 651.5 1524.3C648.5 1519.8 645 1514.7 642.5 1509.2C640 1503.7 637.9 1497.1 636.4 1491.1C634.9 1485 634.2 1478 633.4 1472.9C632.7 1467.9 633.4 1464.4 631.9 1460.9C630.4 1457.3 627.1 1454.6 624.3 1451.8C621.6 1449 618.5 1446 615.3 1444.2C612 1442.5 608.7 1441.2 604.7 1441.2C600.7 1441.2 595.4 1443.2 591.1 1444.2C586.8 1445.2 583.5 1446.8 579 1447.3C574.5 1447.8 568.9 1447.5 563.9 1447.3C558.9 1447 553.8 1446.8 548.8 1445.7C543.8 1444.7 538 1443.2 533.7 1441.2C529.4 1439.2 525.7 1436.9 523.1 1433.7C520.5 1430.4 518.6 1425.6 518 1421.6Z"/>
<path class="vg" d="M642.5 1460.9C645 1462.9 652.5 1469.4 657.6 1472.9C662.6 1476.5 668.2 1478 672.7 1482C677.2 1486 680.2 1492.1 684.8 1497.1C689.3 1502.1 694.3 1507.4 699.9 1512.2C705.4 1517 711.5 1521.8 718 1525.8C724.6 1529.8 732.1 1533.5 739.2 1536.4C746.2 1539.3 756.8 1541.9 760.3 1543"/>
<path class="vg" d="M672.7 1481.4C675.7 1480.7 685.3 1477.5 690.8 1477.5C696.4 1477.5 703.4 1480.7 705.9 1481.4"/>
<path class="vg" d="M684.8 1497.1C685.3 1500.1 687 1509.7 687.8 1515.2C688.6 1520.8 688.9 1525.8 689.3 1530.3C689.7 1534.9 690.1 1540.4 690.2 1542.4"/>
<path class="vg" d="M718 1524.9C719.5 1524.4 724.3 1522.2 727.1 1521.9C729.9 1521.5 733.4 1522.6 734.6 1522.8"/>
<path class="vg" d="M721 1528.8C721.5 1530.1 723.3 1534.2 724.1 1536.4C724.8 1538.6 725.3 1540.9 725.6 1541.8"/>
<path transform="translate(538.2 1418) rotate(-25) scale(0.3)" fill="#f3e6e6" d="M-0.3 -29.6C2.4 -29.6 5.7 -28.4 7.9 -26.6C10 -24.8 11.6 -22.1 12.4 -19C13.2 -16 12.5 -11.7 12.7 -8.5C12.8 -5.2 12.2 -1.9 13.3 0.6C14.4 3.1 17.1 4.9 19.3 6.6C21.6 8.4 25 9.3 26.9 11.2C28.8 13.1 30.2 15.8 30.5 18.1C30.9 20.5 30.3 23.5 29 25.4C27.8 27.2 27.9 28.6 23 29.3C18.1 30 7.5 29.6 -0.3 29.6C-8.1 29.6 -18.7 30 -23.6 29.3C-28.5 28.6 -28.5 27.2 -29.6 25.4C-30.8 23.5 -31 20.5 -30.5 18.1C-30.1 15.8 -28.8 13.1 -26.9 11.2C-25 9.3 -21.6 8.4 -19.3 6.6C-17.1 4.9 -14.4 3.1 -13.3 0.6C-12.2 -1.9 -13.1 -5.2 -13 -8.5C-12.9 -11.7 -13.4 -16 -12.7 -19C-11.9 -22.1 -10.5 -24.8 -8.5 -26.6C-6.4 -28.4 -3 -29.6 -0.3 -29.6Z"/>
<text x="558.5" y="1438.4" font-size="23.5" font-weight="bold" fill="#fff" text-anchor="middle" transform="rotate(118 558.5 1438.4)">1</text>
<circle class="dash" cx="547.3" cy="1421.6" r="38" stroke-width="4.6"/>
<path class="vc sh" d="M900.9 1460.9C901.6 1460 904.1 1458.3 906.9 1459.3C909.7 1460.3 913.7 1464.1 917.5 1466.9C921.2 1469.7 925.5 1473.7 929.6 1476C933.6 1478.2 937.6 1480.2 941.6 1480.5C945.7 1480.7 949.7 1478 953.7 1477.5C957.8 1477 962.8 1476.7 965.8 1477.5C968.8 1478.2 971.1 1480.2 971.9 1482C972.6 1483.8 972.4 1487 970.4 1488C968.3 1489.1 963.1 1487.5 959.8 1488C956.5 1488.5 951.7 1488.5 950.7 1491.1C949.7 1493.6 951.7 1499.6 953.7 1503.2C955.8 1506.7 959.3 1509.7 962.8 1512.2C966.3 1514.7 970.9 1517.5 974.9 1518.3C978.9 1519 983.2 1517 987 1516.7C990.8 1516.5 995 1516 997.6 1516.7C1000.1 1517.5 1001.6 1519.3 1002.1 1521.3C1002.6 1523.3 1000.1 1526.8 1000.6 1528.8C1001.1 1530.8 1002.6 1532.1 1005.1 1533.4C1007.6 1534.6 1012.4 1535.1 1015.7 1536.4C1019 1537.6 1023 1539.2 1024.8 1540.9C1026.5 1542.7 1027 1545.7 1026.3 1547C1025.5 1548.2 1023.2 1549 1020.2 1548.5C1017.2 1548 1011.7 1545.2 1008.1 1543.9C1004.6 1542.7 1001.3 1540.7 999.1 1540.9C996.8 1541.2 995 1543.7 994.5 1545.5C994 1547.2 996.8 1550.7 996 1551.5C995.3 1552.2 992 1552 990 1550C988 1548 986.2 1542.7 984 1539.4C981.7 1536.1 979.4 1532.9 976.4 1530.3C973.4 1527.8 968.8 1525.8 965.8 1524.3C962.8 1522.8 959.8 1519.8 958.3 1521.3C956.8 1522.8 956.8 1529.3 956.8 1533.4C956.8 1537.4 958.8 1542.9 958.3 1545.5C957.8 1548 955.2 1548.5 953.7 1548.5C952.2 1548.5 950.5 1548.5 949.2 1545.5C947.9 1542.4 947.2 1535.9 946.2 1530.3C945.2 1524.8 944.4 1517.8 943.2 1512.2C941.9 1506.7 940.6 1501.1 938.6 1497.1C936.6 1493.1 934.1 1490.8 931.1 1488C928 1485.3 924 1483.3 920.5 1480.5C917 1477.7 912.9 1474.1 909.9 1471.4C906.9 1468.8 903.9 1466.2 902.4 1464.5C900.9 1462.7 900.1 1461.7 900.9 1460.9Z"/>
<path class="gv sh" d="M581.4 1656.6C581.4 1656.6 587 1660.2 589.6 1663.3C592.2 1666.4 595.6 1671.3 597.1 1675.4C598.7 1679.4 599.4 1683.9 598.7 1687.5C597.9 1691 595.1 1694.5 592.6 1696.5C590.1 1698.5 586.6 1699.5 583.5 1699.5C580.5 1699.5 576.8 1698.5 574.5 1696.5C572.1 1694.5 570.1 1691 569.3 1687.5C568.6 1683.9 569.1 1679.1 569.9 1675.4C570.8 1671.6 572.6 1667.9 574.5 1664.8C576.4 1661.7 581.4 1656.6 581.4 1656.6Z"/>
<path class="vc sh" d="M804.1 1698.2C804.5 1696.3 805.4 1693.4 807.1 1690.6C808.9 1687.9 811.9 1684.3 814.7 1681.6C817.4 1678.8 820.2 1676.5 823.7 1674C827.3 1671.5 832.3 1668.2 835.8 1666.5C839.4 1664.7 841.4 1663.2 844.9 1663.4C848.4 1663.7 853.2 1666.5 857 1668C860.8 1669.5 864.5 1671.5 867.6 1672.5C870.6 1673.5 872.9 1675.3 875.1 1674C877.4 1672.7 878.6 1667.7 881.2 1664.9C883.7 1662.2 886.7 1659.4 890.2 1657.4C893.8 1655.4 898.3 1653.7 902.3 1652.9C906.3 1652 910.4 1651.7 914.4 1652.3C918.4 1652.8 922.7 1654.3 926.5 1655.9C930.3 1657.5 934.7 1660.2 937.1 1661.9C939.5 1663.7 941.2 1664.7 941 1666.5C940.7 1668.2 936 1670.7 935.6 1672.5C935.2 1674.3 939.1 1675.5 938.6 1677C938.1 1678.5 933.8 1679.8 932.5 1681.6C931.3 1683.3 929.5 1685.6 931 1687.6C932.5 1689.6 938.6 1691.4 941.6 1693.6C944.6 1695.9 947 1698.4 949.2 1701.2C951.3 1704 953 1706.7 954.3 1710.3C955.6 1713.8 956.1 1718.8 956.7 1722.3C957.4 1725.9 957.2 1728.9 958.2 1731.4C959.2 1733.9 961.2 1734.9 962.8 1737.5C964.3 1740 967.3 1746.5 967.3 1746.5C967.3 1746.5 966.3 1749.5 964.3 1749.5C962.3 1749.5 958 1746.5 955.2 1746.5C952.4 1746.5 949.9 1749.5 947.6 1749.5C945.4 1749.5 943.6 1746.5 941.6 1746.5C939.6 1746.5 937.3 1747.8 935.6 1749.5C933.8 1751.3 931.3 1753.6 931 1757.1C930.8 1760.6 933.3 1765.9 934 1770.7C934.8 1775.5 935.6 1781.8 935.6 1785.8C935.6 1789.8 935.1 1792.8 934 1794.9C933 1796.9 930.5 1795.9 929.5 1797.9C928.5 1799.9 929.3 1804.4 928 1806.9C926.7 1809.5 923.2 1810 922 1813C920.7 1816 921.2 1821 920.4 1825.1C919.7 1829.1 918.4 1833.1 917.4 1837.2C916.4 1841.2 915.4 1846 914.4 1849.2C913.4 1852.5 911.4 1856.8 911.4 1856.8C911.4 1856.8 908.4 1857 906.8 1855.3C905.3 1853.5 903.8 1849.2 902.3 1846.2C900.8 1843.2 899.8 1839.9 897.8 1837.2C895.8 1834.4 892 1832.1 890.2 1829.6C888.5 1827.1 889.2 1824.3 887.2 1822C885.2 1819.8 880.7 1818.5 878.1 1816C875.6 1813.5 873.9 1808.2 872.1 1806.9C870.3 1805.7 869.1 1809.5 867.6 1808.5C866.1 1807.4 864.5 1804.2 863 1800.9C861.5 1797.6 859.8 1793.3 858.5 1788.8C857.2 1784.3 856.5 1777.2 855.5 1773.7C854.5 1770.2 854 1767.9 852.5 1767.7C850.9 1767.4 848.4 1770.7 846.4 1772.2C844.4 1773.7 842.6 1776.5 840.4 1776.7C838.1 1777 835.1 1773.5 832.8 1773.7C830.5 1774 829 1776.7 826.8 1778.2C824.5 1779.8 821.5 1781 819.2 1782.8C816.9 1784.5 814.9 1788.3 813.2 1788.8C811.4 1789.3 808.6 1785.8 808.6 1785.8C808.6 1785.8 811.4 1778.7 810.1 1776.7C808.9 1774.7 801.1 1773.7 801.1 1773.7C801.1 1773.7 797.8 1770.2 798.1 1767.7C798.3 1765.1 802.1 1762.1 802.6 1758.6C803.1 1755.1 801.1 1750.5 801.1 1746.5C801.1 1742.5 801.6 1738.5 802.6 1734.4C803.6 1730.4 805.4 1726.4 807.1 1722.3C808.9 1718.3 811.4 1714 813.2 1710.3C814.9 1706.5 818.2 1701.2 817.7 1699.7C817.2 1698.2 812.3 1700.8 810.1 1701.2C808 1701.5 805 1701.8 805 1701.8C805 1701.8 803.7 1700 804.1 1698.2Z"/>
<path class="vc sh" d="M1159.1 1698.2C1159.4 1696.3 1160.4 1693.4 1162.1 1690.6C1163.9 1687.9 1166.9 1684.3 1169.7 1681.6C1172.4 1678.8 1175.2 1676.5 1178.7 1674C1182.3 1671.5 1187.3 1668.2 1190.8 1666.5C1194.3 1664.7 1196.4 1663.2 1199.9 1663.4C1203.4 1663.7 1208.2 1666.5 1212 1668C1215.8 1669.5 1219.5 1671.5 1222.6 1672.5C1225.6 1673.5 1227.8 1675.3 1230.1 1674C1232.4 1672.7 1233.6 1667.7 1236.2 1664.9C1238.7 1662.2 1241.7 1659.4 1245.2 1657.4C1248.7 1655.4 1253.3 1653.7 1257.3 1652.9C1261.3 1652 1265.4 1651.7 1269.4 1652.3C1273.4 1652.8 1277.7 1654.3 1281.5 1655.9C1285.3 1657.5 1289.6 1660.2 1292.1 1661.9C1294.5 1663.7 1296.2 1664.7 1296 1666.5C1295.7 1668.2 1291 1670.7 1290.5 1672.5C1290.1 1674.3 1294.1 1675.5 1293.6 1677C1293.1 1678.5 1288.8 1679.8 1287.5 1681.6C1286.3 1683.3 1284.5 1685.6 1286 1687.6C1287.5 1689.6 1293.6 1691.4 1296.6 1693.6C1299.6 1695.9 1302 1698.4 1304.1 1701.2C1306.3 1704 1308 1706.7 1309.3 1710.3C1310.5 1713.8 1311 1718.8 1311.7 1722.3C1312.4 1725.9 1312.2 1728.9 1313.2 1731.4C1314.2 1733.9 1316.2 1734.9 1317.7 1737.5C1319.3 1740 1322.3 1746.5 1322.3 1746.5C1322.3 1746.5 1321.3 1749.5 1319.3 1749.5C1317.2 1749.5 1313 1746.5 1310.2 1746.5C1307.4 1746.5 1304.9 1749.5 1302.6 1749.5C1300.4 1749.5 1298.6 1746.5 1296.6 1746.5C1294.6 1746.5 1292.3 1747.8 1290.5 1749.5C1288.8 1751.3 1286.3 1753.6 1286 1757.1C1285.8 1760.6 1288.3 1765.9 1289 1770.7C1289.8 1775.5 1290.5 1781.8 1290.5 1785.8C1290.5 1789.8 1290 1792.8 1289 1794.9C1288 1796.9 1285.5 1795.9 1284.5 1797.9C1283.5 1799.9 1284.3 1804.4 1283 1806.9C1281.7 1809.5 1278.2 1810 1277 1813C1275.7 1816 1276.2 1821 1275.4 1825.1C1274.7 1829.1 1273.4 1833.1 1272.4 1837.2C1271.4 1841.2 1270.4 1846 1269.4 1849.2C1268.4 1852.5 1266.4 1856.8 1266.4 1856.8C1266.4 1856.8 1263.4 1857 1261.8 1855.3C1260.3 1853.5 1258.8 1849.2 1257.3 1846.2C1255.8 1843.2 1254.8 1839.9 1252.8 1837.2C1250.8 1834.4 1247 1832.1 1245.2 1829.6C1243.5 1827.1 1244.2 1824.3 1242.2 1822C1240.2 1819.8 1235.7 1818.5 1233.1 1816C1230.6 1813.5 1228.9 1808.2 1227.1 1806.9C1225.3 1805.7 1224.1 1809.5 1222.6 1808.5C1221 1807.4 1219.5 1804.2 1218 1800.9C1216.5 1797.6 1214.7 1793.3 1213.5 1788.8C1212.2 1784.3 1211.5 1777.2 1210.5 1773.7C1209.5 1770.2 1209 1767.9 1207.4 1767.7C1205.9 1767.4 1203.4 1770.7 1201.4 1772.2C1199.4 1773.7 1197.6 1776.5 1195.4 1776.7C1193.1 1777 1190.1 1773.5 1187.8 1773.7C1185.5 1774 1184 1776.7 1181.8 1778.2C1179.5 1779.8 1176.5 1781 1174.2 1782.8C1171.9 1784.5 1169.9 1788.3 1168.2 1788.8C1166.4 1789.3 1163.6 1785.8 1163.6 1785.8C1163.6 1785.8 1166.4 1778.7 1165.1 1776.7C1163.9 1774.7 1156.1 1773.7 1156.1 1773.7C1156.1 1773.7 1152.8 1770.2 1153 1767.7C1153.3 1765.1 1157.1 1762.1 1157.6 1758.6C1158.1 1755.1 1156.1 1750.5 1156.1 1746.5C1156.1 1742.5 1156.6 1738.5 1157.6 1734.4C1158.6 1730.4 1160.4 1726.4 1162.1 1722.3C1163.9 1718.3 1166.4 1714 1168.2 1710.3C1169.9 1706.5 1173.2 1701.2 1172.7 1699.7C1172.2 1698.2 1167.3 1700.8 1165.1 1701.2C1163 1701.5 1160 1701.8 1160 1701.8C1160 1701.8 1158.7 1700 1159.1 1698.2Z"/>
<path class="vv" d="M1230.1 1684.6C1230.9 1687.9 1233.1 1697.9 1234.6 1704.2C1236.2 1710.5 1237.9 1716.3 1239.2 1722.3C1240.4 1728.4 1241.2 1733.9 1242.2 1740.5C1243.2 1747 1243.7 1754.6 1245.2 1761.6C1246.7 1768.7 1249.2 1775.7 1251.3 1782.8C1253.3 1789.8 1256 1797.9 1257.3 1803.9C1258.6 1810 1258.6 1816.5 1258.8 1819"/>
<path class="vv" d="M1230.1 1684.6C1229.1 1686.8 1225.3 1692.9 1224.1 1698.2C1222.8 1703.5 1223.3 1710.8 1222.6 1716.3C1221.8 1721.8 1219.8 1726.4 1219.5 1731.4C1219.3 1736.4 1220.8 1744 1221 1746.5"/>
<path class="vv" d="M1225.6 1692.1C1223.3 1692.1 1216.3 1691.6 1212 1692.1C1207.7 1692.6 1201.9 1694.7 1199.9 1695.2"/>
<path class="vv" d="M1222.6 1719.3C1219.8 1719.8 1211.2 1721.8 1205.9 1722.3C1200.6 1722.8 1195.4 1721.3 1190.8 1722.3C1186.3 1723.4 1181.8 1726.6 1178.7 1728.4C1175.7 1730.2 1173.7 1732.2 1172.7 1732.9"/>
<path class="vv" d="M1193.8 1722.3C1193.3 1724.4 1191.1 1730.4 1190.8 1734.4C1190.6 1738.5 1191.8 1743 1192.3 1746.5C1192.8 1750 1193.6 1754.1 1193.8 1755.6"/>
<path class="vv" d="M1233.1 1687.6C1235.1 1688.4 1241.2 1690.4 1245.2 1692.1C1249.2 1693.9 1252.8 1697.2 1257.3 1698.2C1261.8 1699.2 1267.4 1697.7 1272.4 1698.2C1277.5 1698.7 1285 1700.7 1287.5 1701.2"/>
<path class="vv" d="M1242.2 1707.2C1245.2 1708.2 1254.8 1710.8 1260.3 1713.3C1265.9 1715.8 1270.4 1719.6 1275.4 1722.3C1280.5 1725.1 1286 1727.9 1290.5 1729.9C1295.1 1731.9 1300.6 1733.7 1302.6 1734.4"/>
<path class="vv" d="M1243.7 1742C1242.4 1743.7 1238.2 1748.8 1236.2 1752.6C1234.1 1756.3 1232.6 1761.1 1231.6 1764.6C1230.6 1768.2 1230.4 1772.2 1230.1 1773.7"/>
<path class="vv" d="M1248.2 1770.7C1249.8 1771.7 1254.3 1773.7 1257.3 1776.7C1260.3 1779.8 1264.4 1785.3 1266.4 1788.8C1268.4 1792.3 1268.9 1796.4 1269.4 1797.9"/>
<path class="vv" d="M1251.3 1782.8C1250.3 1784.3 1246.7 1789.3 1245.2 1791.8C1243.7 1794.4 1242.7 1796.9 1242.2 1797.9"/>
<path transform="translate(883.6 1700.1) rotate(-60) scale(0.3)" fill="#fdf2e0" d="M-0.3 -29.6C2.4 -29.6 5.7 -28.4 7.9 -26.6C10 -24.8 11.6 -22.1 12.4 -19C13.2 -16 12.5 -11.7 12.7 -8.5C12.8 -5.2 12.2 -1.9 13.3 0.6C14.4 3.1 17.1 4.9 19.3 6.6C21.6 8.4 25 9.3 26.9 11.2C28.8 13.1 30.2 15.8 30.5 18.1C30.9 20.5 30.3 23.5 29 25.4C27.8 27.2 27.9 28.6 23 29.3C18.1 30 7.5 29.6 -0.3 29.6C-8.1 29.6 -18.7 30 -23.6 29.3C-28.5 28.6 -28.5 27.2 -29.6 25.4C-30.8 23.5 -31 20.5 -30.5 18.1C-30.1 15.8 -28.8 13.1 -26.9 11.2C-25 9.3 -21.6 8.4 -19.3 6.6C-17.1 4.9 -14.4 3.1 -13.3 0.6C-12.2 -1.9 -13.1 -5.2 -13 -8.5C-12.9 -11.7 -13.4 -16 -12.7 -19C-11.9 -22.1 -10.5 -24.8 -8.5 -26.6C-6.4 -28.4 -3 -29.6 -0.3 -29.6Z"/>
<text x="907.2" y="1705.6" font-size="23.5" font-weight="bold" fill="#000" text-anchor="middle">3</text>
<circle class="dash" cx="895.7" cy="1708" r="38" stroke-width="4.6"/>
<path class="rg sh" d="M1169.7 1415.7C1169.7 1411.9 1170.7 1406.8 1172.7 1403.6C1174.7 1400.4 1178.2 1398 1181.8 1396.6C1185.3 1395.3 1189.8 1394.8 1193.8 1395.4C1197.9 1396.1 1202.4 1398.2 1205.9 1400.6C1209.5 1402.9 1212.2 1406.4 1215 1409.6C1217.8 1412.9 1220 1417.4 1222.6 1420.2C1225.1 1423 1226.8 1424.7 1230.1 1426.3C1233.4 1427.8 1237.7 1429 1242.2 1429.3C1246.7 1429.5 1252.3 1428.8 1257.3 1427.8C1262.3 1426.8 1268.6 1424.7 1272.4 1423.2C1276.2 1421.7 1279.2 1420.7 1280 1418.7C1280.7 1416.7 1278.3 1413.7 1277 1411.1C1275.6 1408.6 1271.8 1403.6 1271.8 1403.6C1271.8 1403.6 1272.8 1401.1 1275.4 1400.6C1278.1 1400.1 1283.2 1401.4 1287.5 1400.6C1291.8 1399.7 1301.1 1395.4 1301.1 1395.4C1301.1 1395.4 1302.9 1398.5 1302.6 1400.6C1302.4 1402.7 1301.1 1405.9 1299.6 1408.1C1298.1 1410.4 1295.1 1412.2 1293.6 1414.2C1292.1 1416.2 1290 1418.5 1290.5 1420.2C1291.1 1422 1293.6 1423.5 1296.6 1424.7C1299.6 1426 1304.7 1426.8 1308.7 1427.8C1312.7 1428.8 1317.2 1430.8 1320.8 1430.8C1324.3 1430.8 1326.3 1429 1329.8 1427.8C1333.4 1426.5 1337.9 1424.5 1341.9 1423.2C1346 1422 1350 1421.2 1354 1420.2C1358 1419.2 1363.3 1416.9 1366.1 1417.2C1368.9 1417.4 1367.6 1421 1370.6 1421.7C1373.7 1422.5 1378.9 1422.2 1384.2 1421.7C1389.5 1421.2 1398.4 1419 1402.4 1418.7C1406.3 1418.5 1406.3 1417.9 1407.8 1420.2C1409.3 1422.5 1408.8 1429.8 1411.4 1432.3C1414 1434.8 1419.5 1434.1 1423.5 1435.3C1427.5 1436.6 1431.6 1438.3 1435.6 1439.9C1439.6 1441.4 1443.7 1442.9 1447.7 1444.4C1451.7 1445.9 1456.8 1447.4 1459.8 1448.9C1462.8 1450.4 1465.8 1453.4 1465.8 1453.4C1465.8 1453.4 1466.3 1456.2 1464.3 1458C1462.3 1459.7 1456.5 1461.8 1453.7 1464C1451 1466.3 1450.7 1469.6 1447.7 1471.6C1444.7 1473.6 1438.6 1474.3 1435.6 1476.1C1432.6 1477.9 1432.6 1480.6 1429.6 1482.2C1426.5 1483.7 1420.5 1483.7 1417.5 1485.2C1414.5 1486.7 1414.5 1490 1411.4 1491.2C1408.4 1492.5 1403.4 1492 1399.3 1492.7C1395.3 1493.5 1391.3 1495.5 1387.3 1495.7C1383.2 1496 1378.2 1495.2 1375.2 1494.2C1372.1 1493.2 1372.1 1491 1369.1 1489.7C1366.1 1488.4 1361.1 1488.2 1357 1486.7C1353 1485.2 1349 1482.9 1344.9 1480.6C1340.9 1478.4 1336.1 1476.1 1332.9 1473.1C1329.6 1470.1 1327.3 1466.3 1325.3 1462.5C1323.3 1458.7 1322.3 1454 1320.8 1450.4C1319.3 1446.9 1318.8 1443.9 1316.2 1441.4C1313.7 1438.8 1309.4 1436.6 1305.7 1435.3C1301.9 1434.1 1297.6 1433.8 1293.6 1433.8C1289.5 1433.8 1284.8 1434.6 1281.5 1435.3C1278.2 1436.1 1275.7 1436.8 1273.9 1438.3C1272.2 1439.9 1271.2 1441.9 1270.9 1444.4C1270.7 1446.9 1270.7 1450.4 1272.4 1453.4C1274.2 1456.5 1278 1459.5 1281.5 1462.5C1285 1465.5 1289.5 1468.6 1293.6 1471.6C1297.6 1474.6 1302.9 1477.6 1305.7 1480.6C1308.4 1483.7 1308.7 1486.2 1310.2 1489.7C1311.7 1493.2 1313.7 1498.3 1314.7 1501.8C1315.7 1505.3 1315.5 1508.3 1316.2 1510.9C1317 1513.4 1319.3 1514.9 1319.3 1516.9C1319.3 1518.9 1316.5 1520.4 1316.2 1522.9C1316 1525.5 1318 1529 1317.7 1532C1317.5 1535 1315 1538 1314.7 1541.1C1314.5 1544.1 1317 1547.1 1316.2 1550.1C1315.5 1553.2 1311.2 1555.7 1310.2 1559.2C1309.2 1562.7 1310.9 1568.3 1310.2 1571.3C1309.4 1574.3 1306.9 1574.3 1305.7 1577.3C1304.4 1580.3 1304.1 1586.4 1302.6 1589.4C1301.1 1592.4 1298.1 1592.4 1296.6 1595.5C1295.1 1598.5 1295.1 1604.5 1293.6 1607.5C1292.1 1610.6 1289.5 1611.1 1287.5 1613.6C1285.5 1616.1 1283.2 1620.9 1281.5 1622.6C1279.7 1624.4 1278.5 1625.2 1277 1624.2C1275.4 1623.1 1273.4 1619.9 1272.4 1616.6C1271.4 1613.3 1271.4 1608 1270.9 1604.5C1270.4 1601 1271.2 1597.5 1269.4 1595.5C1267.6 1593.4 1262.3 1594.4 1260.3 1592.4C1258.3 1590.4 1257.6 1586.9 1257.3 1583.4C1257.1 1579.8 1259.8 1573.8 1258.8 1571.3C1257.8 1568.8 1253.5 1570.3 1251.3 1568.3C1249 1566.2 1247.2 1561.7 1245.2 1559.2C1243.2 1556.7 1240.4 1556.2 1239.2 1553.2C1237.9 1550.1 1237.7 1545.6 1237.7 1541.1C1237.7 1536.5 1238.4 1530 1239.2 1526C1239.9 1521.9 1241.2 1519.9 1242.2 1516.9C1243.2 1513.9 1245.7 1511.4 1245.2 1507.8C1244.7 1504.3 1240.2 1499.3 1239.2 1495.7C1238.2 1492.2 1237.7 1489.7 1239.2 1486.7C1240.7 1483.7 1245.7 1480.6 1248.2 1477.6C1250.8 1474.6 1252 1471.6 1254.3 1468.6C1256.6 1465.5 1260.3 1462.5 1261.8 1459.5C1263.4 1456.5 1264.1 1452.9 1263.4 1450.4C1262.6 1447.9 1259.3 1445.9 1257.3 1444.4C1255.3 1442.9 1253.8 1441.4 1251.3 1441.4C1248.7 1441.4 1245.7 1443.4 1242.2 1444.4C1238.7 1445.4 1235.1 1447.2 1230.1 1447.4C1225.1 1447.7 1217.5 1446.6 1212 1445.9C1206.4 1445.1 1201.9 1444.6 1196.9 1442.9C1191.8 1441.1 1185.8 1438.1 1181.8 1435.3C1177.7 1432.6 1174.7 1429.5 1172.7 1426.3C1170.7 1423 1169.7 1419.5 1169.7 1415.7Z"/>
<path class="vr" d="M1325.3 1443.8C1328.6 1445.1 1337.6 1449.6 1344.9 1451.9C1352.2 1454.3 1361.1 1456.3 1369.1 1458C1377.2 1459.6 1385.2 1461.4 1393.3 1461.9C1401.4 1462.4 1410.4 1461.7 1417.5 1461C1424.5 1460.3 1430.6 1459.1 1435.6 1458C1440.6 1456.8 1445.7 1454.7 1447.7 1454.1"/>
<path class="vr" d="M1344.9 1451.9C1346.5 1450.7 1351.2 1446.4 1354 1444.4C1356.8 1442.4 1360.3 1440.6 1361.6 1439.9"/>
<path class="vr" d="M1369.1 1457.1C1370.6 1456 1375.4 1452 1378.2 1450.4C1381 1448.8 1384.5 1447.9 1385.7 1447.4"/>
<path class="vr" d="M1363.1 1456.5C1365.1 1458 1371.1 1462.8 1375.2 1465.5C1379.2 1468.3 1382.7 1470.6 1387.3 1473.1C1391.8 1475.6 1399.8 1479.4 1402.4 1480.6"/>
<path class="vr" d="M1417.5 1461C1418.5 1461.8 1421.2 1464.4 1423.5 1465.5C1425.8 1466.7 1429.8 1467.5 1431.1 1468"/>
<path class="vr" d="M1267.9 1465.5C1268.6 1468.6 1270.9 1477.1 1272.4 1483.7C1273.9 1490.2 1275.9 1497.8 1277 1504.8C1278 1511.9 1278.2 1518.9 1278.5 1526C1278.7 1533 1278.2 1540.1 1278.5 1547.1C1278.7 1554.2 1279.5 1563 1280 1568.3C1280.5 1573.5 1281.2 1577.1 1281.5 1578.8"/>
<path class="vr" d="M1273.9 1489.7C1276.2 1489.7 1283.2 1488.9 1287.5 1489.7C1291.8 1490.5 1296.3 1492.5 1299.6 1494.2C1302.9 1496 1305.9 1499.3 1307.2 1500.3"/>
<path class="vr" d="M1277.9 1516.9C1279.5 1517.9 1283.9 1521.2 1287.5 1522.9C1291.2 1524.7 1297.6 1526.7 1299.6 1527.5"/>
<path class="vr" d="M1277 1519.9C1275.2 1521.4 1270.2 1526 1266.4 1529C1262.6 1532 1257.1 1535.8 1254.3 1538C1251.5 1540.3 1250.5 1541.8 1249.8 1542.6"/>
<path class="vr" d="M1264.9 1532C1265.1 1533.5 1266.2 1538.5 1266.4 1541.1C1266.5 1543.6 1265.9 1546.1 1265.8 1547.1"/>
<path class="vr" d="M1279.1 1550.1C1280.5 1551.6 1285.4 1556.2 1287.5 1559.2C1289.7 1562.2 1291.3 1566.7 1292.1 1568.3"/>
<path transform="translate(1189.3 1419.6) rotate(-25) scale(0.3)" fill="#fbe3db" d="M-0.3 -29.6C2.4 -29.6 5.7 -28.4 7.9 -26.6C10 -24.8 11.6 -22.1 12.4 -19C13.2 -16 12.5 -11.7 12.7 -8.5C12.8 -5.2 12.2 -1.9 13.3 0.6C14.4 3.1 17.1 4.9 19.3 6.6C21.6 8.4 25 9.3 26.9 11.2C28.8 13.1 30.2 15.8 30.5 18.1C30.9 20.5 30.3 23.5 29 25.4C27.8 27.2 27.9 28.6 23 29.3C18.1 30 7.5 29.6 -0.3 29.6C-8.1 29.6 -18.7 30 -23.6 29.3C-28.5 28.6 -28.5 27.2 -29.6 25.4C-30.8 23.5 -31 20.5 -30.5 18.1C-30.1 15.8 -28.8 13.1 -26.9 11.2C-25 9.3 -21.6 8.4 -19.3 6.6C-17.1 4.9 -14.4 3.1 -13.3 0.6C-12.2 -1.9 -13.1 -5.2 -13 -8.5C-12.9 -11.7 -13.4 -16 -12.7 -19C-11.9 -22.1 -10.5 -24.8 -8.5 -26.6C-6.4 -28.4 -3 -29.6 -0.3 -29.6Z"/>
<text x="1208.4" y="1438.6" font-size="23.5" font-weight="bold" fill="#000" text-anchor="middle" transform="rotate(120 1208.4 1438.6)">2</text>
<circle class="dash" cx="1200.5" cy="1420.2" r="38" stroke-width="4.6"/>
<path d="M799.8 1460H859.8M829.8 1430V1490" stroke="#a8a9ad" stroke-width="10.5" fill="none"/>
<path d="M1031 1460H1091M1061 1430V1490" stroke="#a8a9ad" stroke-width="10.5" fill="none"/>
<path d="M422 1743.5H482M452 1713.5V1773.5" stroke="#a8a9ad" stroke-width="10.5" fill="none"/>
<path d="M688.6 1743.5H748.6M718.6 1713.5V1773.5" stroke="#a8a9ad" stroke-width="10.5" fill="none"/>
<path d="M1041.5 1743.5H1101.5M1071.5 1713.5V1773.5" stroke="#a8a9ad" stroke-width="10.5" fill="none"/>
<text x="556" y="1565" font-size="85" font-style="italic" fill="#87888c" text-anchor="middle" stroke="#fff" stroke-width="1.2">1</text>
<text x="1195" y="1565" font-size="85" font-style="italic" fill="#87888c" text-anchor="middle" stroke="#fff" stroke-width="1.2">2</text>
<text x="981" y="1842.5" font-size="85" font-style="italic" fill="#87888c" text-anchor="middle" stroke="#fff" stroke-width="1.2">3</text>
<!-- centre arrangement -->
<g class="gv sh"><path d="M2082.9 695.6L2079.7 695.1L2075.3 694.4L2070 693.6L2064.3 692.8L2058.3 691.9L2052.4 691.1L2047 690.4L2042.3 690L2038.3 689.8L2034.7 689.6L2031.4 689.6L2028.3 689.6L2025.3 689.8L2022.5 690.1L2019.6 690.4L2016.8 690.8L2013.9 691.2L2011.1 691.8L2008.4 692.4L2005.7 693.2L2003 694L2000.4 694.9L1997.8 695.9L1995.1 697.1L1992.4 698.3L1989.7 699.7L1987 701.2L1984.3 702.8L1981.7 704.4L1979 706.1L1976.4 707.8L1973.8 709.6L1971.2 711.4L1968.6 713.4L1966 715.4L1963.4 717.4L1960.8 719.5L1958.2 721.6L1955.7 723.8L1953.1 725.9L1950.6 728L1948 730.1L1945.4 732.3L1942.8 734.5L1940.2 736.8L1937.6 739.1L1934.9 741.5L1932.3 744.1L1929.7 746.6L1927.1 749.2L1924.4 751.9L1921.8 754.7L1919.1 757.6L1916.5 760.5L1913.9 763.5L1911.3 766.6L1908.8 769.7L1906.3 773L1903.8 776.3L1901.3 779.6L1898.9 783L1896.6 786.4L1894.4 789.8L1892.2 793.1L1890.1 796.5L1888.1 799.8L1886.1 803.1L1884.2 806.4L1882.4 809.7L1880.6 813L1878.9 816.4L1877.1 819.8L1875.4 823.3L1873.7 826.8L1872.1 830.3L1870.5 833.9L1869 837.4L1867.4 841L1865.9 844.6L1864.3 848.2L1862.7 851.9L1861.1 855.6L1859.5 859.4L1857.9 863.2L1856.3 867L1854.8 870.7L1853.2 874.5L1851.6 878.3L1850 882L1848.4 885.8L1846.9 889.5L1845.3 893.2L1843.7 897L1842.1 900.7L1840.5 904.5L1839 908.2L1837.4 911.8L1835.8 915.4L1834.2 919L1832.6 922.7L1830.9 926.5L1829.3 930.5L1827.7 934.7L1826.2 939L1824.9 943.5L1823.5 948.1L1822.3 952.7L1821.1 957.5L1820 962.2L1818.9 967L1818 971.7L1817.1 976.4L1816.3 981.1L1815.5 985.9L1814.7 990.7L1814.1 995.6L1813.5 1000.4L1813.1 1005.2L1812.8 1009.8L1812.8 1014.2L1813 1018.4L1813.4 1022.5L1814.1 1026.4L1814.9 1029.9L1815.8 1033.2L1816.6 1036.3L1817.5 1039L1818.2 1041.4L1818.9 1043.7L1819.7 1045.8L1820.5 1047.6L1821.2 1049.2L1822 1050.5L1822.6 1051.6L1823.1 1052.5L1823.5 1053.3A1.2 1.2 0 0 1 1825.9 1052.8L1825.9 1052.8L1826 1051.9L1826.1 1050.8L1826.2 1049.6L1826.4 1048.1L1826.6 1046.5L1826.8 1044.7L1827 1042.8L1827.2 1040.5L1827.4 1037.9L1827.6 1035L1827.9 1032L1828.1 1028.8L1828.4 1025.6L1828.8 1022.2L1829.3 1018.8L1829.8 1015.4L1830.5 1011.7L1831.4 1007.7L1832.3 1003.4L1833.3 999L1834.3 994.4L1835.4 989.8L1836.5 985.2L1837.6 980.7L1838.7 976.2L1839.7 971.7L1840.8 967.1L1841.9 962.6L1843 958.1L1844.2 953.8L1845.4 949.5L1846.6 945.5L1847.8 941.7L1849.1 938.1L1850.5 934.5L1852 930.9L1853.5 927.3L1855 923.6L1856.5 919.8L1858 915.9L1859.5 912.1L1860.9 908.3L1862.4 904.5L1863.8 900.7L1865.3 896.9L1866.7 893.1L1868.1 889.2L1869.6 885.4L1871 881.6L1872.5 877.8L1873.9 873.9L1875.3 870.1L1876.8 866.3L1878.2 862.5L1879.6 858.8L1881.1 855.1L1882.5 851.4L1883.9 847.8L1885.3 844.2L1886.7 840.7L1888.1 837.2L1889.5 833.8L1890.9 830.4L1892.4 827.1L1893.9 823.8L1895.5 820.5L1897 817.3L1898.6 814.1L1900.3 810.9L1902 807.7L1903.7 804.6L1905.6 801.4L1907.5 798.1L1909.5 794.8L1911.6 791.5L1913.8 788.2L1916 784.9L1918.2 781.7L1920.4 778.6L1922.7 775.6L1925 772.7L1927.3 769.8L1929.7 767L1932.1 764.3L1934.6 761.5L1937.1 758.9L1939.5 756.3L1942 753.8L1944.4 751.3L1946.8 749L1949.2 746.7L1951.6 744.4L1954.1 742.2L1956.5 740L1959 737.9L1961.5 735.7L1964 733.5L1966.4 731.4L1968.9 729.3L1971.4 727.3L1973.8 725.3L1976.2 723.4L1978.6 721.5L1981 719.8L1983.5 718.1L1985.9 716.4L1988.3 714.8L1990.7 713.2L1993.1 711.8L1995.4 710.4L1997.8 709.2L2000.1 708.1L2002.4 707.1L2004.6 706.1L2006.9 705.3L2009.1 704.6L2011.4 703.9L2013.7 703.3L2016.1 702.8L2018.7 702.3L2021.2 701.9L2023.8 701.5L2026.3 701.3L2028.8 701L2031.6 700.9L2034.6 700.9L2037.9 700.9L2041.5 701.1L2045.9 701.4L2051.2 701.9L2056.9 702.5L2062.9 703.2L2068.6 703.9L2073.9 704.6L2078.3 705.2L2081.5 705.6A5 5 0 0 1 2082.9 695.6Z"/><path d="M1987.3 712C1990.6 709.7 1988.6 703.8 1989 699.7C1989.3 695.6 1989.7 691.7 1989.3 687.4C1988.9 683.2 1987.8 677.8 1986.6 674.2C1985.4 670.6 1983.5 668 1982.1 665.7C1980.7 663.4 1979.7 661.7 1978.4 660.5C1977.1 659.4 1975.7 658.6 1974.4 658.7C1973.1 658.8 1971.9 659.8 1970.8 661.1C1969.7 662.5 1968.9 664.3 1967.9 666.8C1966.9 669.2 1965.4 672.1 1964.7 675.8C1964 679.6 1963.7 685.1 1963.9 689.3C1964.2 693.6 1965.2 697.4 1966.1 701.4C1967 705.4 1966 711.5 1969.5 713.3C1973.1 715.1 1984.1 714.3 1987.3 712Z"/><path d="M1962.8 726.9C1965.1 723.6 1961.9 719 1961 715.2C1960.2 711.5 1959.4 707.9 1957.6 704.4C1955.8 700.9 1952.7 696.9 1950.1 694.4C1947.6 691.8 1944.7 690.5 1942.5 689.2C1940.3 687.9 1938.6 686.9 1936.9 686.5C1935.2 686 1933.6 685.9 1932.5 686.5C1931.4 687 1930.7 688.3 1930.4 689.8C1930 691.3 1930.2 693 1930.4 695.4C1930.6 697.8 1930.6 700.6 1931.5 703.9C1932.5 707.3 1934.3 711.9 1936 715.5C1937.6 719.1 1939.6 722 1941.6 725.2C1943.5 728.4 1944.2 734.4 1947.7 734.7C1951.2 735 1960.6 730.1 1962.8 726.9Z"/><path d="M1942.3 747.1C1944.4 744 1941.4 740 1940.6 736.6C1939.8 733.2 1939.1 730 1937.4 726.9C1935.7 723.8 1932.8 720.3 1930.4 718.1C1928.1 715.9 1925.4 714.8 1923.3 713.7C1921.3 712.6 1919.6 711.8 1918.1 711.5C1916.5 711.1 1915 711.1 1914 711.6C1913 712.2 1912.3 713.4 1912 714.8C1911.6 716.1 1911.7 717.7 1911.9 719.9C1912 722 1912 724.6 1912.9 727.6C1913.7 730.6 1915.4 734.8 1917 737.9C1918.5 741.1 1920.4 743.7 1922.2 746.5C1924 749.3 1924.6 754.7 1928 754.8C1931.3 754.9 1940.2 750.1 1942.3 747.1Z"/><path d="M1920.4 769.4C1922.3 765.8 1918.5 762.4 1917.3 759.1C1916 755.9 1914.8 752.8 1912.7 750C1910.5 747.3 1907 744.3 1904.2 742.6C1901.5 740.9 1898.4 740.4 1896.1 739.8C1893.7 739.1 1891.9 738.7 1890.2 738.7C1888.5 738.7 1886.8 739 1885.8 739.8C1884.7 740.7 1884.1 742.1 1883.9 743.6C1883.6 745.1 1883.9 746.7 1884.3 748.9C1884.6 751.1 1884.9 753.7 1886.1 756.6C1887.3 759.5 1889.5 763.4 1891.6 766.3C1893.6 769.2 1895.9 771.4 1898.3 773.8C1900.6 776.2 1901.9 781.5 1905.6 780.8C1909.3 780.1 1918.4 773 1920.4 769.4Z"/><path d="M1899.8 796.5C1901.3 792.4 1896.6 788.8 1894.6 785.2C1892.6 781.7 1890.8 778.3 1887.9 775.4C1885.1 772.5 1880.7 769.5 1877.3 767.8C1874 766.1 1870.5 765.8 1867.8 765.2C1865.2 764.6 1863.1 764.3 1861.2 764.4C1859.3 764.6 1857.6 765.1 1856.6 766C1855.6 767 1855.2 768.6 1855.2 770.2C1855.2 771.9 1855.9 773.7 1856.7 776.1C1857.5 778.4 1858.3 781.3 1860.2 784.5C1862.1 787.6 1865.3 791.7 1868 794.8C1870.8 797.8 1873.7 800.1 1876.7 802.7C1879.6 805.2 1882 811.1 1885.8 810.1C1889.7 809 1898.3 800.6 1899.8 796.5Z"/><path d="M1884.7 824.3C1885.8 820.5 1881.4 818.2 1879.5 815.4C1877.5 812.6 1875.8 809.9 1873.1 807.8C1870.5 805.6 1866.5 803.6 1863.6 802.5C1860.6 801.4 1857.6 801.6 1855.3 801.4C1852.9 801.3 1851.1 801.2 1849.5 801.6C1847.8 802 1846.3 802.7 1845.5 803.7C1844.6 804.7 1844.3 806.2 1844.3 807.7C1844.4 809.3 1844.9 810.8 1845.7 812.9C1846.5 814.9 1847.1 817.5 1848.9 820.1C1850.6 822.6 1853.5 825.9 1856 828.2C1858.6 830.5 1861.3 832.1 1864.1 833.8C1866.9 835.5 1869.3 840.2 1872.7 838.6C1876.2 837.1 1883.6 828.2 1884.7 824.3Z"/><path d="M1866.5 855C1865.2 851.1 1858.8 850.5 1854.8 848.7C1850.9 846.9 1847.1 845.1 1842.8 844.2C1838.4 843.3 1832.6 843 1828.6 843.2C1824.6 843.5 1821.4 844.8 1818.6 845.6C1815.9 846.5 1813.9 847.2 1812.3 848.2C1810.7 849.2 1809.5 850.4 1809.2 851.6C1808.9 852.9 1809.6 854.3 1810.7 855.6C1811.7 857 1813.4 858.1 1815.6 859.6C1817.8 861.1 1820.3 863.1 1823.9 864.6C1827.6 866.2 1833 868 1837.3 869.1C1841.7 870.2 1845.7 870.6 1849.9 871.1C1854.2 871.7 1860 875.1 1862.7 872.4C1865.5 869.7 1867.8 859 1866.5 855Z"/><path d="M1857.2 885.4C1855.3 882.1 1849 883 1844.9 882.1C1840.8 881.2 1836.9 880.2 1832.5 880C1828.1 879.8 1822.5 880.1 1818.7 880.7C1814.8 881.3 1811.9 882.7 1809.4 883.7C1806.9 884.6 1805 885.4 1803.6 886.4C1802.3 887.5 1801.2 888.7 1801.2 889.9C1801.1 891.1 1801.9 892.5 1803.1 893.7C1804.3 894.9 1806.1 896 1808.4 897.3C1810.8 898.6 1813.4 900.4 1817.2 901.6C1820.9 902.7 1826.4 903.9 1830.7 904.3C1835.1 904.7 1839.1 904.2 1843.3 903.9C1847.5 903.6 1853.6 905.5 1855.9 902.4C1858.3 899.3 1859 888.8 1857.2 885.4Z"/><path d="M1846.2 914C1844.2 911.2 1838.7 913.3 1835 913.1C1831.3 912.9 1827.7 912.7 1823.9 912.9C1820 913.2 1815 913.9 1811.7 914.8C1808.4 915.6 1805.9 917 1803.8 918C1801.7 919 1800.1 919.8 1799 920.8C1797.9 921.8 1797.1 923 1797.1 924.1C1797.2 925.3 1798 926.6 1799.2 927.7C1800.4 928.9 1802.1 929.8 1804.3 931C1806.5 932.1 1809.1 933.8 1812.5 934.7C1815.9 935.5 1820.9 936.2 1824.8 936.1C1828.7 936 1832.2 934.9 1835.8 934C1839.5 933 1845.1 933.6 1846.8 930.2C1848.5 926.9 1848.1 916.9 1846.2 914Z"/><path d="M1968.9 719.4C1967.3 722.5 1971.1 725.4 1972.4 728.3C1973.8 731.1 1975 733.9 1976.9 736.4C1978.9 739 1981.9 741.9 1984.2 743.7C1986.6 745.5 1989 746.2 1991 747.1C1992.9 747.9 1994.4 748.5 1995.8 748.6C1997.3 748.8 1998.7 748.6 1999.6 747.9C2000.5 747.2 2001.1 745.9 2001.4 744.5C2001.8 743.1 2001.6 741.5 2001.5 739.4C2001.3 737.3 2001.3 734.8 2000.3 732C1999.4 729.2 1997.5 725.5 1995.7 722.8C1993.8 720.1 1991.6 718.2 1989.3 716C1987 713.9 1985.4 709.3 1982 709.9C1978.6 710.5 1970.5 716.4 1968.9 719.4Z"/><path d="M1937 750.3C1937.5 753.7 1941.7 754.3 1944.2 755.9C1946.7 757.5 1949 759.1 1951.9 759.9C1954.8 760.7 1958.6 761 1961.4 760.7C1964.2 760.5 1966.5 759.3 1968.4 758.6C1970.3 757.8 1971.8 757.2 1973 756.3C1974.2 755.5 1975.1 754.4 1975.4 753.3C1975.7 752.3 1975.4 751.1 1974.8 750C1974.2 748.9 1973.2 748 1971.8 746.7C1970.5 745.5 1969 743.9 1966.7 742.6C1964.3 741.2 1960.8 739.7 1958 738.8C1955.2 737.9 1952.5 737.4 1949.7 736.9C1946.9 736.3 1943.4 733.2 1941.3 735.5C1939.2 737.7 1936.5 746.9 1937 750.3Z"/><path d="M1917.6 769C1916.7 772.4 1921.1 774.5 1923.1 777.1C1925 779.6 1926.8 782.1 1929.3 784.3C1931.8 786.5 1935.4 788.8 1938.1 790.1C1940.8 791.4 1943.5 791.6 1945.5 792.1C1947.6 792.5 1949.2 792.8 1950.7 792.7C1952.1 792.5 1953.5 792.1 1954.3 791.2C1955 790.3 1955.4 789 1955.3 787.5C1955.3 786 1954.9 784.5 1954.2 782.4C1953.6 780.4 1953.1 777.8 1951.5 775.3C1949.9 772.7 1947.3 769.4 1944.9 767.1C1942.4 764.8 1939.8 763.3 1937.1 761.6C1934.3 759.9 1931.7 755.8 1928.5 757C1925.2 758.2 1918.5 765.7 1917.6 769Z"/><path d="M1892.4 801.4C1891.1 803.9 1896.1 806 1897.9 808.4C1899.6 810.8 1901.2 813.1 1903 815.6C1904.9 818.1 1907.1 821.4 1908.9 823.4C1910.6 825.5 1912.2 826.9 1913.6 828.1C1914.9 829.3 1915.8 830.2 1916.9 830.6C1918 831 1919.1 831.1 1920 830.5C1920.9 829.9 1921.8 828.6 1922.5 827.1C1923.1 825.6 1923.6 823.7 1924 821.4C1924.4 819.1 1925.2 816.2 1924.8 813.3C1924.5 810.3 1923.3 806.4 1921.6 803.8C1919.9 801.2 1917.3 799.5 1914.6 797.8C1911.9 796 1909.1 792.5 1905.4 793.1C1901.7 793.7 1893.6 798.8 1892.4 801.4Z"/><path d="M1878.7 833.5C1877.5 836 1882.1 838.2 1883.8 840.5C1885.5 842.9 1886.9 845.2 1888.7 847.6C1890.6 850.1 1892.9 853.2 1894.6 855.2C1896.4 857.1 1898.1 858.4 1899.4 859.5C1900.8 860.6 1901.8 861.5 1902.9 861.9C1903.9 862.2 1905 862.3 1905.9 861.7C1906.8 861.1 1907.5 859.9 1908.1 858.4C1908.6 857 1908.9 855.3 1909.2 853.1C1909.5 850.9 1910.1 848.1 1909.6 845.3C1909.1 842.5 1907.9 838.7 1906.2 836.2C1904.5 833.7 1902 832 1899.5 830.2C1896.9 828.4 1894.3 824.9 1890.9 825.5C1887.4 826 1879.8 831 1878.7 833.5Z"/><path d="M1868.3 890.5C1870.2 892.6 1873.9 889.7 1876.6 889.2C1879.4 888.7 1882.1 888.4 1884.9 887.5C1887.7 886.7 1891.3 885.4 1893.6 884.3C1896 883.1 1897.5 881.7 1899 880.6C1900.4 879.6 1901.4 878.8 1902.1 877.8C1902.8 876.8 1903.1 875.8 1902.9 874.8C1902.7 873.8 1901.8 872.9 1900.7 872.1C1899.6 871.3 1898.1 870.6 1896.3 869.9C1894.4 869.2 1892.2 868.1 1889.5 867.8C1886.8 867.6 1883 867.7 1880.1 868.4C1877.3 869.1 1874.9 870.6 1872.3 872C1869.8 873.5 1865.6 874.1 1865 877.2C1864.3 880.3 1866.4 888.5 1868.3 890.5Z"/><path d="M1848.8 926.6L1850.7 925.6L1853.1 924.2L1856.1 922.6L1859.4 920.8L1862.8 919L1866.2 917.2L1869.5 915.5L1872.4 914.1L1875.1 913L1877.8 912L1880.5 911.1L1883.2 910.1L1886 909.2L1888.9 908.2L1891.8 907L1894.7 905.6L1897.5 904L1900.2 902.3L1902.9 900.6L1905.6 898.7L1908.2 896.8L1910.7 894.9L1913.2 892.9L1915.6 891L1917.9 888.9L1920.1 886.8L1922.1 884.6L1924 882.5L1925.9 880.5L1927.7 878.5L1929.6 876.6L1931.7 874.8L1933.9 873.1L1936.2 871.3L1938.7 869.5L1941.1 867.8L1943.6 866.1L1946.2 864.4L1948.8 862.8L1951.4 861.3L1954.1 859.8L1957.2 858.3L1960.3 856.8L1963.5 855.4L1966.6 854L1969.4 852.8L1971.7 851.8L1973.5 851A4.8 4.8 0 0 1 1969.3 842.2L1969.3 842.2L1967.6 843.1L1965.4 844.3L1962.6 845.6L1959.6 847.2L1956.4 848.8L1953.1 850.6L1950 852.3L1947.1 854L1944.4 855.7L1941.7 857.5L1939.1 859.2L1936.4 861.1L1933.9 862.9L1931.3 864.8L1928.9 866.7L1926.5 868.7L1924.2 870.8L1922 872.9L1920 875L1918.1 877.1L1916.2 879.2L1914.3 881.1L1912.4 883L1910.4 884.8L1908.1 886.7L1905.8 888.5L1903.4 890.4L1900.9 892.2L1898.5 893.9L1896 895.6L1893.5 897.1L1891 898.4L1888.5 899.5L1886 900.5L1883.4 901.3L1880.7 902.1L1877.9 902.9L1875 903.8L1872 904.8L1868.9 906L1865.7 907.4L1862.2 909L1858.6 910.6L1855 912.4L1851.6 914L1848.6 915.5L1846.1 916.7L1844.2 917.6A5 5 0 0 1 1848.8 926.6Z"/><path d="M1978.9 851.2C1981.2 849.3 1979.8 844.3 1980 840.9C1980.3 837.5 1980.6 834.2 1980.3 830.6C1980 827.1 1979.1 822.5 1978.2 819.5C1977.4 816.4 1976 814.2 1975 812.3C1974 810.4 1973.2 808.9 1972.3 807.9C1971.3 806.9 1970.3 806.3 1969.4 806.3C1968.5 806.4 1967.5 807.2 1966.7 808.3C1965.9 809.4 1965.4 811 1964.6 813C1963.9 815 1962.8 817.4 1962.3 820.6C1961.9 823.7 1961.6 828.3 1961.8 831.9C1962 835.4 1962.7 838.6 1963.4 842C1964.1 845.4 1963.3 850.5 1965.9 852.1C1968.5 853.6 1976.5 853.1 1978.9 851.2Z"/><path d="M1988.1 844.5C1991.4 843.9 1992.6 838.2 1994.6 835C1996.6 831.8 1998.6 828.7 2000.1 825.1C2001.6 821.4 2003.1 816.6 2003.7 813.1C2004.4 809.7 2004.1 806.8 2004.1 804.4C2004.1 802 2004.1 800.2 2003.7 798.7C2003.2 797.3 2002.6 796.1 2001.6 795.6C2000.7 795.2 1999.3 795.5 1997.9 796.2C1996.6 796.9 1995.2 798.1 1993.4 799.7C1991.7 801.3 1989.4 803.1 1987.3 805.9C1985.2 808.8 1982.6 813.1 1981 816.7C1979.3 820.3 1978.4 823.8 1977.4 827.5C1976.4 831.1 1973 835.8 1974.8 838.6C1976.6 841.5 1984.8 845.1 1988.1 844.5Z"/><path d="M1996.1 842.2C1999.6 842.3 2004.4 836.8 2008.3 833.9C2012.2 831 2016 828.3 2019.6 824.8C2023.2 821.2 2027.3 816.2 2029.9 812.5C2032.5 808.8 2033.8 805.5 2035.1 802.8C2036.4 800.1 2037.3 798.1 2037.7 796.3C2038.1 794.6 2038.1 793.1 2037.5 792.4C2036.8 791.8 2035.4 791.9 2033.8 792.4C2032.2 792.9 2030.3 794 2027.8 795.4C2025.3 796.9 2022.3 798.4 2018.7 801.1C2015.2 803.8 2010.3 808 2006.6 811.5C2002.9 815 1999.9 818.5 1996.6 822C1993.3 825.6 1987.1 829.6 1987 832.9C1986.9 836.3 1992.5 842 1996.1 842.2Z"/><path d="M1970.5 858.6C1973 859.7 1979.1 856.5 1983.4 855.5C1987.7 854.5 1991.8 853.6 1996.3 852.5C2000.8 851.4 2006.5 849.9 2010.4 848.7C2014.2 847.5 2017 846.3 2019.4 845.3C2021.9 844.4 2023.7 843.7 2024.9 842.9C2026.1 842.1 2027 841.3 2026.8 840.6C2026.6 839.9 2025.5 839.2 2024 838.7C2022.4 838.2 2020.4 837.8 2017.6 837.5C2014.9 837.1 2011.7 836.5 2007.6 836.6C2003.5 836.8 1997.6 837.4 1993.1 838.5C1988.6 839.5 1984.7 841.2 1980.5 842.9C1976.4 844.6 1969.9 846.1 1968.3 848.7C1966.6 851.4 1968 857.4 1970.5 858.6Z"/><path d="M1970.1 854.4C1972.5 856.4 1975.9 853.7 1978.6 853.1C1981.4 852.5 1984.1 852.1 1986.7 850.9C1989.4 849.7 1992.6 847.7 1994.7 846.1C1996.7 844.4 1997.9 842.4 1999 840.9C2000.2 839.4 2001 838.2 2001.4 837C2001.9 835.7 2002 834.5 2001.6 833.5C2001.2 832.5 2000.2 831.7 1999.1 831.2C1997.9 830.6 1996.5 830.4 1994.6 830.1C1992.7 829.8 1990.5 829.2 1987.8 829.5C1985.2 829.7 1981.5 830.6 1978.8 831.6C1976.1 832.7 1973.9 834.2 1971.5 835.8C1969.1 837.3 1964.8 837.8 1964.6 840.9C1964.4 844 1967.8 852.3 1970.1 854.4Z"/><path d="M2072.1 695.5C2072.8 693.4 2082.2 692 2086.2 688.5C2090.3 685 2092.9 679.1 2096.3 674.4C2099.7 669.7 2102.7 664.6 2106.4 660.3C2110.1 655.9 2114.9 651.3 2118.5 648.2C2122 645.1 2127.5 641.8 2127.5 641.8C2127.5 641.8 2130.9 642.1 2131.6 645.2C2132.2 648.3 2132.2 655.1 2131.6 660.3C2130.9 665.5 2129.4 671.7 2127.5 676.4C2125.7 681.1 2123.3 685.1 2120.5 688.5C2117.6 691.8 2114.1 694.5 2110.4 696.5C2106.7 698.6 2103 699.7 2098.3 700.6C2093.6 701.4 2086.6 702.4 2082.2 701.6C2077.8 700.7 2071.5 697.7 2072.1 695.5Z"/><path d="M2070.1 700.6C2070.4 702.2 2074.8 709.3 2078.2 714.7C2081.5 720 2085.6 728.3 2090.3 732.8C2095 737.3 2100.3 740.2 2106.4 741.9C2112.4 743.5 2119.8 743.4 2126.5 742.9C2133.2 742.4 2140.6 741.5 2146.7 738.8C2152.7 736.2 2158.4 731.5 2162.8 726.8C2167.1 722.1 2170.2 716.3 2172.9 710.6C2175.5 704.9 2177.6 698.2 2178.9 692.5C2180.2 686.8 2179.6 681.8 2180.9 676.4C2182.3 671 2185.1 665.7 2187 660.3C2188.8 654.9 2191.7 647.9 2192 644.2C2192.3 640.5 2189 638.1 2189 638.1C2189 638.1 2184.3 643.2 2180.9 646.2C2177.6 649.2 2173.5 653.2 2168.8 656.3C2164.1 659.3 2156.7 661 2152.7 664.3C2148.7 667.7 2146.7 672 2144.7 676.4C2142.6 680.8 2143 685.8 2140.6 690.5C2138.3 695.2 2134.2 700.6 2130.5 704.6C2126.9 708.6 2123.2 712.3 2118.5 714.7C2113.8 717 2107.4 718.7 2102.3 718.7C2097.3 718.7 2092.6 717 2088.2 714.7C2083.9 712.3 2079.2 706.9 2076.2 704.6C2073.1 702.2 2069.8 698.9 2070.1 700.6Z"/><circle cx="1893" cy="945.9" r="25"/><path d="M1873.3 914.2L1874.1 915.5L1875.2 917.2L1876.5 919.2L1878 921.4L1879.4 923.7L1880.9 926L1882.2 928.2L1883.2 930.1L1884.1 931.9L1885 933.8L1885.9 935.8L1886.7 937.7L1887.4 939.6L1888.1 941.3L1888.6 942.7L1889.1 943.8A4 4 0 0 1 1896.6 940.8L1896.6 940.8L1896.1 939.7L1895.6 938.3L1894.9 936.6L1894.2 934.7L1893.3 932.7L1892.4 930.5L1891.4 928.4L1890.3 926.3L1889.1 924.1L1887.7 921.8L1886.3 919.4L1884.8 917.1L1883.3 914.8L1882 912.8L1880.9 911.1L1880.1 909.9A4 4 0 0 1 1873.3 914.2Z"/></g>
<g fill="none" stroke="#4d1621" stroke-width="2.4" stroke-linecap="round"><path d="M1976.9 691.1C1976.7 688.6 1975.9 678.3 1975.7 675.7"/><path d="M1946.9 713.1C1945.7 711 1941.3 702.8 1940.2 700.7"/><path d="M1927.5 735.1C1926.5 733.3 1922.4 726.1 1921.4 724.3"/><path d="M1903 760.8C1901.7 759.2 1896.5 752.8 1895.2 751.2"/><path d="M1879.4 788.3C1877.7 786.6 1870.6 779.7 1868.8 778"/><path d="M1866.5 819.9C1864.9 818.7 1858.4 813.6 1856.8 812.4"/><path d="M1843.9 857.9C1841.2 857.4 1830.3 855.4 1827.6 854.9"/><path d="M1835.9 891.2C1833.2 891.1 1822.3 890.7 1819.6 890.5"/><path d="M1828.1 921.6C1825.7 921.9 1816 922.7 1813.6 922.9"/><path d="M1985.5 728.2C1986.5 729.7 1990.8 735.7 1991.8 737.2"/><path d="M1953.8 747.9C1955.5 748.3 1962.1 750 1963.8 750.4"/><path d="M1935.8 774.6C1937.2 775.9 1942.8 780.9 1944.2 782.1"/><path d="M1907.8 810.7C1908.7 812.3 1912.3 818.3 1913.2 819.8"/><path d="M1893.7 842.6C1894.6 844.1 1898.2 849.9 1899.1 851.4"/><path d="M1881.3 879.2C1882.9 878.8 1889.6 877.4 1891.2 877.1"/><path d="M2090.3 693.5C2092.9 691.7 2101.7 686.6 2106.4 682.4C2111.1 678.2 2115.8 672.5 2118.5 668.3C2121.1 664.1 2121.8 659.1 2122.5 657.3"/><path d="M2106.4 682.4C2107.4 683.1 2111.4 685.8 2112.4 686.5"/><path d="M2110.4 678.4C2110.1 677.2 2108.7 672.5 2108.4 671.4"/><path d="M2094.3 726.8C2098.3 727.1 2111.1 729.8 2118.5 728.8C2125.8 727.8 2132.9 725.4 2138.6 720.7C2144.3 716 2148.7 707.3 2152.7 700.6C2156.7 693.9 2159.6 686 2162.8 680.4C2166 674.9 2170.3 669.5 2171.8 667.3"/><path d="M2138.6 720.7C2137.9 718.7 2135.3 710.6 2134.6 708.6"/><path d="M2152.7 700.6C2153 698.2 2154.7 690.5 2154.7 686.5C2154.7 682.4 2153 678.1 2152.7 676.4"/><path d="M2152.7 700.6C2155.1 699.6 2164.5 695.5 2166.8 694.5"/><path d="M2146.7 710.6C2148.7 710.3 2156.7 709 2158.8 708.6"/></g>
<path transform="translate(1893 946.9) rotate(0) scale(0.4)" fill="#fbeeee" d="M0 -29.6C3.1 -29.6 6.9 -28.5 9.4 -26.6C11.9 -24.7 14.2 -21.1 15.1 -18.1C16.1 -15.2 15.9 -11.9 15.1 -9.1C14.4 -6.2 11.7 -3.4 10.6 -0.9C9.5 1.6 8.3 3.1 8.5 6C8.6 9 10.6 13.6 11.5 16.6C12.4 19.6 13.9 22.2 13.9 24.2C13.9 26.2 13.8 27.8 11.5 28.7C9.2 29.6 3.8 29.6 0 29.6C-3.8 29.6 -8.9 29.6 -11.2 28.7C-13.4 27.8 -13.6 26.2 -13.6 24.2C-13.6 22.2 -12.1 19.6 -11.2 16.6C-10.3 13.6 -8.3 9 -8.2 6C-8.1 3.1 -9.4 1.6 -10.6 -0.9C-11.7 -3.4 -14.4 -6.2 -15.1 -9.1C-15.9 -11.9 -16.1 -15.2 -15.1 -18.1C-14.2 -21.1 -11.9 -24.7 -9.4 -26.6C-6.9 -28.5 -3.1 -29.6 0 -29.6Z"/>
<circle class="dash" cx="1892" cy="945.4" r="38" stroke-width="4.6"/>

<g class="vc sh"><path d="M2141.2 854.5C2141.2 849.2 2142.1 842.8 2144.2 838.4C2146.4 834 2150.3 830.6 2154.3 828.3C2158.4 826.1 2163.7 824.7 2168.4 824.7C2173.1 824.7 2178.2 826.2 2182.5 828.3C2186.9 830.5 2190.9 834.4 2194.6 837.4C2198.3 840.4 2201.3 844.1 2204.7 846.5C2208 848.8 2211.1 850.2 2214.8 851.5C2218.5 852.8 2224.8 852.2 2226.8 854.1C2228.9 856 2228.9 861.6 2226.8 863C2224.8 864.4 2218.5 862 2214.8 862.6C2211.1 863.2 2208 864.4 2204.7 866.6C2201.3 868.8 2198.3 873 2194.6 875.7C2190.9 878.4 2186.9 881.2 2182.5 882.7C2178.2 884.2 2173.1 885.1 2168.4 884.7C2163.7 884.4 2158.4 883.1 2154.3 880.7C2150.3 878.4 2146.4 875 2144.2 870.6C2142.1 866.3 2141.2 859.9 2141.2 854.5Z"/><path d="M2214.6 862.6L2216.2 862.6L2218.3 862.7L2220.7 862.7L2223.4 862.8L2226.2 862.9L2229.1 863.1L2231.8 863.3L2234.3 863.6L2236.7 863.9L2239.1 864.3L2241.5 864.8L2243.9 865.3L2246.4 865.8L2248.8 866.4L2251.3 867L2253.8 867.7L2256.3 868.3L2258.8 868.9L2261.2 869.6L2263.7 870.3L2266.1 871L2268.5 871.8L2270.9 872.6L2273.3 873.5L2275.6 874.5L2278 875.6L2280.4 876.7L2282.9 878L2285.3 879.2L2287.8 880.6L2290.3 881.9L2292.8 883.3L2295.3 884.6L2297.8 886L2300.3 887.5L2302.8 888.9L2305.3 890.4L2307.8 891.9L2310.3 893.4L2312.8 895L2315.3 896.6L2317.9 898.3L2320.4 900L2323 901.8L2325.5 903.5L2328 905.3L2330.4 907L2332.7 908.7L2334.8 910.4L2336.9 912L2338.9 913.7L2340.8 915.3L2342.7 917L2344.6 918.8L2346.6 920.5L2348.6 922.4L2350.6 924.3L2352.7 926.2L2354.8 928.2L2356.9 930.1L2358.9 932.1L2360.9 934.1L2362.8 936.1L2364.5 938L2366.2 939.9L2367.8 941.8L2369.4 943.7L2370.8 945.6L2372.3 947.5L2373.7 949.5L2375 951.5L2376.4 953.5L2377.8 955.6L2379.2 957.7L2380.5 959.9L2381.8 962.1L2383 964.2L2384.2 966.4L2385.3 968.7L2386.3 970.9L2387.3 973.2L2388.2 975.6L2389 978L2389.8 980.4L2390.5 982.9L2391.2 985.3L2391.8 987.8L2392.3 990.2L2392.8 992.6L2393.2 995L2393.5 997.5L2393.8 999.9L2394 1002.3L2394.2 1004.8L2394.4 1007.2L2394.5 1009.7L2394.5 1012.1L2394.5 1014.6L2394.5 1017L2394.4 1019.5L2394.3 1022L2394.2 1024.5L2394 1027L2393.9 1029.5L2393.7 1032L2393.5 1034.5L2393.3 1037.1L2393.1 1039.6L2392.8 1042.2L2392.6 1044.7L2392.4 1047.2L2392.3 1049.7L2392.2 1052.2L2392.1 1054.8L2392.1 1057.5L2392.1 1060.1L2392.1 1062.5L2392.1 1064.7L2392.1 1066.5L2392.1 1067.9A2 2 0 0 1 2396.1 1068.1L2396.1 1068.1L2396.2 1066.8L2396.4 1064.9L2396.6 1062.8L2396.8 1060.3L2397.1 1057.8L2397.4 1055.2L2397.6 1052.6L2397.9 1050.1L2398.2 1047.8L2398.5 1045.3L2398.8 1042.8L2399.1 1040.3L2399.4 1037.7L2399.7 1035.2L2400 1032.6L2400.3 1030L2400.5 1027.5L2400.8 1025L2401 1022.5L2401.3 1019.9L2401.5 1017.3L2401.6 1014.8L2401.7 1012.1L2401.7 1009.5L2401.7 1007L2401.6 1004.4L2401.4 1001.8L2401.3 999.2L2401 996.6L2400.7 994L2400.3 991.4L2399.8 988.7L2399.3 986.1L2398.7 983.5L2398.1 980.8L2397.3 978.2L2396.5 975.5L2395.7 972.9L2394.7 970.3L2393.7 967.8L2392.7 965.3L2391.5 962.8L2390.3 960.4L2389 958L2387.6 955.6L2386.3 953.4L2384.9 951.1L2383.5 948.9L2382.1 946.7L2380.7 944.6L2379.3 942.5L2377.8 940.4L2376.2 938.4L2374.6 936.3L2373 934.3L2371.2 932.2L2369.3 930.1L2367.4 927.9L2365.3 925.8L2363.3 923.7L2361.1 921.6L2359 919.5L2357 917.5L2354.9 915.6L2352.9 913.7L2351 911.9L2349.1 910.1L2347.1 908.3L2345.1 906.5L2343 904.7L2340.9 902.9L2338.6 901.1L2336.2 899.2L2333.8 897.4L2331.2 895.5L2328.6 893.7L2326 891.8L2323.4 890L2320.8 888.3L2318.2 886.6L2315.7 884.9L2313.2 883.3L2310.6 881.6L2308.1 880.1L2305.5 878.5L2303 877L2300.4 875.5L2297.9 874.1L2295.3 872.7L2292.8 871.3L2290.2 870L2287.7 868.6L2285.1 867.3L2282.4 866.1L2279.8 864.9L2277.1 863.8L2274.5 862.7L2271.8 861.8L2269.2 861L2266.6 860.2L2264 859.5L2261.4 858.8L2258.9 858.1L2256.3 857.5L2253.8 856.9L2251.2 856.3L2248.6 855.7L2246 855.2L2243.4 854.7L2240.8 854.3L2238.2 853.9L2235.5 853.6L2232.7 853.3L2229.7 853.1L2226.7 852.9L2223.7 852.8L2221 852.7L2218.5 852.6L2216.5 852.6L2214.9 852.5A5 5 0 0 1 2214.6 862.6Z"/><path d="M2268.3 873.1C2273.8 875.1 2278.5 867.2 2283.4 864.1C2288.4 861 2293.6 858.6 2298.2 854.6C2302.7 850.5 2307.7 844.5 2310.6 839.9C2313.6 835.3 2314.8 830.7 2316 827C2317.3 823.4 2318.2 820.5 2318.4 818C2318.6 815.5 2318.3 813.1 2317.1 811.8C2316 810.5 2313.9 810.1 2311.5 810.1C2309.2 810.2 2306.6 811.1 2303.2 812.3C2299.8 813.5 2295.6 814.7 2290.9 817.3C2286.3 820 2279.9 824.5 2275.2 828.4C2270.5 832.2 2267 836.5 2262.8 840.5C2258.6 844.5 2249 846.7 2249.9 852.1C2250.8 857.5 2262.7 871.1 2268.3 873.1Z"/><path d="M2301.3 889.6C2305.2 892.7 2311.6 887.9 2316.6 887C2321.7 886 2326.8 885.6 2331.8 883.8C2336.8 881.9 2342.9 878.5 2346.8 875.8C2350.8 873 2353.2 869.7 2355.5 867.2C2357.8 864.7 2359.4 862.7 2360.4 860.8C2361.4 858.8 2361.9 856.9 2361.4 855.5C2360.9 854.2 2359.4 853.2 2357.5 852.6C2355.6 852 2353.2 852 2350 852C2346.8 852 2343.1 851.7 2338.4 852.4C2333.7 853.2 2327.1 854.9 2322 856.6C2316.9 858.3 2312.6 860.6 2307.8 862.5C2303.1 864.4 2294.5 863.3 2293.4 867.8C2292.3 872.3 2297.4 886.4 2301.3 889.6Z"/><path d="M2326.6 907.5C2330 910.9 2336.1 906.7 2340.8 906.2C2345.5 905.7 2350.2 905.7 2354.9 904.3C2359.6 902.9 2365.4 900.2 2369.1 897.9C2372.9 895.5 2375.3 892.6 2377.5 890.4C2379.8 888.2 2381.4 886.4 2382.4 884.6C2383.4 882.9 2384 881 2383.6 879.7C2383.2 878.4 2381.8 877.3 2380.1 876.6C2378.4 875.9 2376.2 875.7 2373.3 875.4C2370.3 875.1 2366.9 874.5 2362.6 874.8C2358.2 875.2 2352 876.3 2347.3 877.5C2342.5 878.7 2338.4 880.7 2334 882.1C2329.5 883.5 2321.7 881.9 2320.5 886.1C2319.3 890.4 2323.2 904.2 2326.6 907.5Z"/><path d="M2353.1 929.2C2355.8 932.7 2362 929.5 2366.4 929.5C2370.9 929.6 2375.1 930.1 2379.7 929.5C2384.3 928.8 2390 927.1 2393.8 925.6C2397.6 924 2400.3 921.7 2402.7 920.1C2405 918.4 2406.8 917.1 2408 915.6C2409.2 914.2 2409.9 912.6 2409.8 911.3C2409.6 910 2408.5 908.9 2407 907.9C2405.5 907 2403.5 906.5 2400.8 905.7C2398.1 905 2395 903.9 2390.9 903.6C2386.8 903.3 2380.9 903.4 2376.3 903.9C2371.7 904.4 2367.7 905.7 2363.4 906.5C2359.1 907.3 2352.1 905 2350.4 908.8C2348.7 912.5 2350.4 925.7 2353.1 929.2Z"/><path d="M2372.2 951C2374.1 954.5 2379.4 951.6 2382.9 951.9C2386.5 952.2 2389.9 953 2393.6 952.8C2397.4 952.6 2402.1 951.7 2405.3 950.7C2408.5 949.6 2410.8 947.9 2412.9 946.7C2414.9 945.5 2416.4 944.5 2417.5 943.3C2418.5 942.1 2419.3 940.8 2419.2 939.5C2419.2 938.3 2418.4 937 2417.2 935.9C2416.1 934.8 2414.5 933.9 2412.4 932.8C2410.3 931.7 2407.8 930.2 2404.6 929.4C2401.3 928.6 2396.5 928 2392.8 928C2389.1 928.1 2385.7 929.1 2382.2 929.6C2378.6 930.2 2373.2 927.7 2371.6 931.2C2369.9 934.8 2370.3 947.6 2372.2 951Z"/><path d="M2385 976.3C2385.4 980 2390.9 979.2 2393.9 980.6C2396.8 982 2399.5 983.9 2402.8 984.9C2406.1 985.9 2410.4 986.7 2413.5 986.8C2416.6 987 2419.2 986.2 2421.4 985.7C2423.6 985.3 2425.2 984.9 2426.5 984.2C2427.8 983.5 2428.9 982.5 2429.3 981.4C2429.7 980.3 2429.4 978.9 2428.8 977.5C2428.2 976.1 2427.1 974.8 2425.7 973.2C2424.2 971.5 2422.7 969.3 2420.1 967.5C2417.6 965.7 2413.7 963.6 2410.4 962.4C2407.2 961.3 2404 961.1 2400.8 960.4C2397.5 959.7 2393.7 955.7 2391.1 958.3C2388.5 961 2384.5 972.6 2385 976.3Z"/><path d="M2393.4 1000.4C2393.5 1003.3 2397.3 1002.6 2399.2 1003.7C2401.1 1004.7 2402.8 1006.1 2405 1006.9C2407.1 1007.7 2410.1 1008.2 2412.2 1008.3C2414.3 1008.3 2416.1 1007.7 2417.6 1007.4C2419.1 1007 2420.2 1006.7 2421.2 1006.2C2422.1 1005.6 2422.9 1004.8 2423.3 1004C2423.6 1003.1 2423.5 1002 2423.2 1001C2422.9 999.9 2422.2 998.9 2421.3 997.7C2420.5 996.4 2419.5 994.7 2417.9 993.4C2416.3 992 2413.8 990.4 2411.7 989.6C2409.5 988.7 2407.4 988.6 2405.2 988.1C2403.1 987.6 2400.7 984.5 2398.7 986.6C2396.8 988.6 2393.3 997.6 2393.4 1000.4Z"/><path d="M2392.4 1018.6C2390.9 1020.6 2393.9 1022.6 2394.7 1024.6C2395.4 1026.7 2395.8 1028.7 2396.9 1030.7C2398 1032.6 2399.7 1034.9 2401.1 1036.4C2402.5 1037.8 2404.2 1038.6 2405.4 1039.4C2406.6 1040.1 2407.6 1040.7 2408.5 1040.9C2409.5 1041.2 2410.5 1041.2 2411.2 1040.8C2411.9 1040.5 2412.4 1039.7 2412.8 1038.7C2413.2 1037.8 2413.2 1036.7 2413.3 1035.3C2413.4 1033.8 2413.7 1032 2413.3 1030.1C2413 1028.1 2412.1 1025.3 2411.1 1023.3C2410.1 1021.3 2408.6 1019.8 2407.4 1018C2406.2 1016.2 2406.3 1012.6 2403.8 1012.7C2401.3 1012.8 2393.9 1016.6 2392.4 1018.6Z"/><path d="M2238.4 857.7C2233.6 858.5 2235.8 864.4 2234.5 867.8C2233.2 871.1 2231.3 874.2 2230.6 877.9C2229.9 881.5 2229.8 886.4 2230.2 889.8C2230.6 893.3 2232.2 896.1 2233.2 898.4C2234.2 900.8 2235 902.6 2236.3 904C2237.5 905.4 2239 906.5 2240.5 906.9C2242.1 907.3 2244 906.9 2245.7 906.1C2247.4 905.4 2248.9 904.1 2250.8 902.4C2252.7 900.7 2255.4 898.8 2257.2 895.9C2259.1 893 2261.1 888.6 2262 885C2263 881.3 2262.6 877.8 2262.8 874.2C2263.1 870.6 2267.7 866.2 2263.6 863.4C2259.5 860.7 2243.3 857 2238.4 857.7Z"/><path d="M2275.4 872.3C2270.7 873.8 2272.5 881.4 2271.1 886C2269.6 890.6 2267.6 894.8 2266.7 899.8C2265.9 904.7 2265.5 911.2 2265.7 915.7C2266 920.1 2267.3 923.7 2268.2 926.7C2269 929.7 2269.7 932 2270.8 933.7C2271.9 935.5 2273.3 936.8 2274.8 937.1C2276.3 937.4 2278.1 936.7 2279.8 935.5C2281.5 934.3 2283 932.5 2284.9 930C2286.8 927.6 2289.5 924.8 2291.4 920.8C2293.4 916.7 2295.5 910.6 2296.6 905.8C2297.7 900.9 2297.5 896.2 2297.9 891.4C2298.3 886.6 2303 880.2 2299.2 877.1C2295.5 873.9 2280 870.8 2275.4 872.3Z"/><path d="M2310.6 892.8C2306.4 893.7 2308.4 899.4 2307.3 902.7C2306.2 906 2304.6 909.1 2304 912.6C2303.5 916.2 2303.4 920.9 2303.9 924.2C2304.3 927.5 2305.7 930.1 2306.6 932.4C2307.5 934.6 2308.2 936.3 2309.3 937.6C2310.4 938.8 2311.7 939.9 2313.1 940.1C2314.4 940.4 2316 939.9 2317.5 939.1C2319 938.3 2320.3 937 2321.9 935.2C2323.6 933.5 2325.8 931.5 2327.4 928.6C2329 925.7 2330.7 921.3 2331.4 917.8C2332.2 914.2 2331.8 910.8 2332 907.3C2332.1 903.8 2336.1 899.3 2332.5 896.9C2328.9 894.4 2314.8 891.8 2310.6 892.8Z"/><path d="M2340.3 916.4C2336.8 917.8 2339.1 922.6 2338.5 925.6C2338 928.7 2336.9 931.6 2336.8 934.9C2336.7 938.1 2337.2 942.3 2337.9 945.2C2338.6 948 2340 950.2 2341 952.1C2342 954 2342.8 955.4 2343.9 956.4C2344.9 957.4 2346.1 958.2 2347.3 958.3C2348.5 958.3 2349.8 957.7 2351 956.8C2352.1 955.9 2353.1 954.6 2354.3 952.9C2355.5 951.1 2357.2 949.1 2358.2 946.4C2359.3 943.6 2360.2 939.5 2360.5 936.2C2360.8 933 2360.1 930 2359.9 926.9C2359.6 923.8 2362.5 919.3 2359.2 917.5C2356 915.8 2343.7 915.1 2340.3 916.4Z"/><path d="M2361 937.2C2357.6 937.6 2359.3 941.4 2358.5 943.5C2357.6 945.6 2356.3 947.5 2355.9 949.8C2355.5 952.1 2355.5 955.2 2355.9 957.4C2356.2 959.6 2357.4 961.4 2358.1 962.9C2358.9 964.4 2359.5 965.5 2360.4 966.4C2361.3 967.3 2362.3 968.1 2363.4 968.3C2364.6 968.6 2365.8 968.3 2367 967.9C2368.2 967.4 2369.2 966.7 2370.6 965.6C2371.9 964.6 2373.7 963.4 2374.9 961.6C2376.2 959.8 2377.5 957 2378.1 954.7C2378.7 952.4 2378.3 950.2 2378.4 947.9C2378.5 945.6 2381.7 942.9 2378.8 941.1C2375.9 939.3 2364.4 936.8 2361 937.2Z"/><path d="M2377.5 959.9C2374.6 958.7 2374.6 962.2 2373.2 963.4C2371.8 964.5 2370.1 965.4 2368.9 966.9C2367.7 968.4 2366.7 970.6 2366.2 972.4C2365.7 974.2 2366 976 2366.1 977.4C2366.2 978.9 2366.3 980 2366.7 981.1C2367.1 982.1 2367.7 983.2 2368.5 983.8C2369.3 984.5 2370.4 984.9 2371.5 985.1C2372.7 985.3 2373.8 985.2 2375.2 985C2376.6 984.9 2378.5 984.8 2380.1 984.1C2381.8 983.3 2383.8 981.8 2385.1 980.4C2386.4 979 2386.9 977.2 2387.8 975.6C2388.7 974 2392.2 973.4 2390.5 970.7C2388.8 968.1 2380.4 961.1 2377.5 959.9Z"/><path d="M2386.1 983C2383.6 982 2383.8 985.1 2382.6 986.1C2381.4 987.2 2380 988 2379 989.3C2378.1 990.6 2377.3 992.6 2377 994.2C2376.7 995.7 2377 997.3 2377.2 998.5C2377.3 999.8 2377.4 1000.7 2377.8 1001.6C2378.2 1002.5 2378.8 1003.4 2379.6 1004C2380.3 1004.5 2381.3 1004.9 2382.3 1005C2383.3 1005.1 2384.2 1005 2385.5 1004.8C2386.7 1004.6 2388.3 1004.5 2389.7 1003.8C2391.1 1003.1 2392.8 1001.8 2393.8 1000.5C2394.9 999.2 2395.2 997.6 2395.9 996.2C2396.6 994.8 2399.6 994.2 2398 991.9C2396.3 989.7 2388.7 984 2386.1 983Z"/><path d="M2387.6 1008.4C2384.8 1008.3 2385 1012.2 2383.8 1014.1C2382.5 1016 2380.9 1017.7 2379.9 1019.9C2378.9 1022 2378 1025 2377.7 1027.2C2377.4 1029.3 2377.8 1031.2 2377.9 1032.8C2378.1 1034.3 2378.2 1035.5 2378.7 1036.5C2379.1 1037.5 2379.8 1038.4 2380.6 1038.8C2381.4 1039.2 2382.5 1039.2 2383.5 1038.9C2384.6 1038.7 2385.6 1038.1 2387 1037.3C2388.3 1036.5 2390.1 1035.6 2391.6 1034.1C2393.1 1032.5 2395 1030 2396.1 1027.9C2397.2 1025.8 2397.6 1023.5 2398.3 1021.4C2399 1019.2 2402.3 1017 2400.5 1014.8C2398.7 1012.7 2390.4 1008.5 2387.6 1008.4Z"/><path d="M2389.3 1039.4C2387 1040.4 2388.5 1044.1 2388 1046.4C2387.6 1048.7 2386.9 1050.9 2386.8 1053.4C2386.7 1055.8 2387 1059 2387.4 1061.2C2387.9 1063.3 2388.8 1065 2389.5 1066.4C2390.1 1067.8 2390.7 1068.9 2391.4 1069.7C2392 1070.4 2392.9 1071 2393.7 1071.1C2394.5 1071.1 2395.3 1070.6 2396.1 1070C2396.9 1069.3 2397.6 1068.3 2398.4 1067C2399.2 1065.7 2400.4 1064.1 2401.1 1062.1C2401.9 1060 2402.5 1056.9 2402.7 1054.4C2403 1051.9 2402.5 1049.7 2402.4 1047.3C2402.3 1045 2404.2 1041.6 2402.1 1040.2C2399.9 1038.9 2391.6 1038.4 2389.3 1039.4Z"/></g>
<g fill="none" stroke="#ecc791" stroke-width="2.2" stroke-linecap="round"><path d="M2279.4 844.8C2282.8 841.9 2296.3 830 2299.7 827.1"/><path d="M2319.8 870.6C2323.5 869.2 2338.5 863.8 2342.2 862.5"/><path d="M2344.6 890.8C2348.1 889.8 2362.1 885.8 2365.6 884.8"/><path d="M2372.1 916.3C2375.5 915.9 2389 914.1 2392.4 913.6"/><path d="M2388.5 940.6C2391.2 940.5 2402.3 940.1 2405 940"/><path d="M2402.5 972.3C2404.9 973.1 2414.5 976.4 2416.9 977.2"/><path d="M2405.6 997.2C2407.2 997.8 2413.5 1000.2 2415.1 1000.8"/><path d="M2402.7 1024.5C2403.4 1025.9 2406.5 1031.8 2407.3 1033.3"/><path d="M2247.4 876.8C2246.7 879.5 2244.3 890.3 2243.7 893"/><path d="M2282.9 896.5C2282.2 900.2 2279.3 914.7 2278.5 918.4"/><path d="M2318.6 910.7C2318.1 913.3 2316.1 923.9 2315.6 926.5"/><path d="M2348.9 931.4C2348.8 933.8 2348.2 943.5 2348.1 945.9"/><path d="M2367.6 949.3C2367.3 951 2365.8 957.9 2365.4 959.6"/><path d="M2378.6 971.8C2377.7 972.9 2374 977.2 2373.1 978.3"/><path d="M2387.7 993.2C2387 994.2 2384 998.1 2383.3 999"/><path d="M2389.3 1021.2C2388.6 1022.7 2385.4 1029.1 2384.6 1030.7"/><path d="M2395 1050.8C2394.9 1052.6 2394.4 1059.9 2394.3 1061.7"/></g>
<path d="M2156.7 844.9C2157 841.6 2155.7 843.2 2157.9 843.6C2160.2 844.1 2165.9 846.1 2170.4 847.7C2175 849.2 2182.7 851.8 2185.3 852.9C2188 854.1 2186.2 854 2186.2 854.5C2186.1 855.1 2187.6 855.2 2184.9 856.1C2182.3 857.1 2174.9 858.8 2170.4 860.2C2165.9 861.5 2160.3 863.7 2157.9 864.2C2155.6 864.7 2156.5 866.2 2156.3 863C2156.1 859.8 2156.5 848.1 2156.7 844.9Z" fill="#fffaf0"/>
<circle class="dash" cx="2170.4" cy="854.1" r="40.5" stroke-width="4.8"/>
<path class="gv sh" d="M2012.8 1128.4C2014.8 1125.4 2014.2 1126.9 2016.8 1123.4C2019.5 1119.8 2024.2 1113.3 2028.9 1107.3C2033.6 1101.2 2039 1094.2 2045.1 1087.1C2051.1 1080.1 2058.2 1072 2065.2 1065C2072.3 1057.9 2079.6 1051.2 2087.4 1044.8C2095.1 1038.4 2103.1 1032.4 2111.5 1026.7C2119.9 1021 2129 1015.6 2137.7 1010.6C2146.5 1005.5 2155.9 1001.2 2163.9 996.5C2172 991.8 2179 986.6 2186.1 982.4C2193.1 978.2 2200.2 974 2206.2 971.3C2212.3 968.5 2217 966.4 2222.3 965.9C2227.7 965.3 2233.8 966.2 2238.5 968.3C2243.2 970.4 2247.6 974.3 2250.5 978.3C2253.5 982.4 2255.5 987.7 2256.2 992.4C2256.9 997.1 2256.2 1002.2 2254.6 1006.5C2253 1010.9 2250.2 1015.3 2246.5 1018.6C2242.8 1021.9 2237.5 1025 2232.4 1026.3C2227.4 1027.6 2222 1027.1 2216.3 1026.3C2210.6 1025.5 2203.9 1022.9 2198.2 1021.6C2192.5 1020.4 2188.1 1019.1 2182.1 1018.6C2176 1018.1 2168.6 1018 2161.9 1018.6C2155.2 1019.3 2148.5 1020.3 2141.8 1022.7C2135 1025 2128.3 1029 2121.6 1032.7C2114.9 1036.4 2108.2 1040.1 2101.5 1044.8C2094.7 1049.5 2087.4 1055.6 2081.3 1060.9C2075.3 1066.3 2069.9 1071.3 2065.2 1077C2060.5 1082.7 2056.6 1089.5 2053.1 1095.2C2049.6 1100.9 2046.3 1106.7 2044 1111.3C2041.8 1115.8 2039.9 1119 2039.4 1122.4C2038.9 1125.7 2039.7 1128.7 2041 1131.4C2042.3 1134.1 2045 1136 2047.1 1138.5C2049.2 1141 2052 1143.7 2053.5 1146.5C2055 1149.4 2056 1152.1 2056.1 1155.6C2056.2 1159.1 2055.3 1163.6 2054.1 1167.7C2052.9 1171.7 2050.9 1175.7 2049.1 1179.8C2047.2 1183.8 2045.1 1188.2 2043 1191.8C2041 1195.5 2038.7 1198.9 2037 1201.9C2035.3 1204.9 2034 1207 2033 1210C2032 1213 2031 1216.4 2031 1220C2031 1223.7 2032.3 1227.8 2033 1232.1C2033.6 1236.5 2034.1 1241.6 2035 1246.2C2035.8 1250.9 2037.7 1254.3 2038 1259.9C2038.3 1265.6 2037.5 1273.4 2037 1280.1C2036.5 1286.8 2035.7 1293.5 2035 1300.2C2034.3 1306.9 2034 1313.6 2033 1320.4C2032 1327.1 2030.6 1333.8 2028.9 1340.5C2027.3 1347.2 2025.1 1353.9 2022.9 1360.6C2020.7 1367.4 2017.9 1374.4 2015.8 1380.8C2013.8 1387.2 2012 1393.2 2010.8 1398.9C2009.6 1404.6 2009 1410 2008.8 1415C2008.6 1420.1 2009.1 1424.4 2009.8 1429.1C2010.5 1433.8 2011.8 1438.2 2012.8 1443.2C2013.8 1448.3 2014.7 1454.3 2015.8 1459.3C2017 1464.4 2018 1468.7 2019.9 1473.4C2021.7 1478.1 2024.1 1482.8 2026.9 1487.5C2029.8 1492.2 2033.6 1496.9 2037 1501.6C2040.4 1506.3 2043.4 1511 2047.1 1515.7C2050.8 1520.4 2055.1 1525.5 2059.2 1529.8C2063.2 1534.2 2067.6 1538.2 2071.2 1541.9C2074.9 1545.6 2078 1549.5 2081.3 1552C2084.7 1554.5 2088 1557 2091.4 1557C2094.7 1557 2098.4 1554.5 2101.5 1552C2104.5 1549.5 2106.5 1545.3 2109.5 1541.9C2112.5 1538.6 2115.6 1534.3 2119.6 1531.8C2123.6 1529.4 2129 1527.4 2133.7 1527.4C2138.4 1527.4 2144.1 1529.4 2147.8 1531.8C2151.5 1534.3 2154.1 1537.9 2155.9 1541.9C2157.6 1545.9 2158.5 1551 2158.5 1556C2158.5 1561.1 2157.3 1567.1 2155.9 1572.1C2154.4 1577.2 2152.5 1582.2 2149.8 1586.2C2147.1 1590.3 2143.4 1594.1 2139.7 1596.3C2136.1 1598.6 2131.3 1599.7 2127.7 1599.7C2124 1599.7 2120.3 1598.2 2117.6 1596.3C2114.9 1594.4 2113.2 1590.9 2111.5 1588.2C2109.9 1585.6 2109.2 1582.9 2107.5 1580.2C2105.8 1577.5 2103.5 1574.1 2101.5 1572.1C2099.5 1570.1 2098.1 1568.9 2095.4 1568.1C2092.7 1567.3 2089 1567.8 2085.3 1567.1C2081.7 1566.4 2077.6 1565.6 2073.3 1564.1C2068.9 1562.6 2063.9 1560.7 2059.2 1558C2054.5 1555.3 2049.4 1551.3 2045.1 1548C2040.7 1544.6 2037 1541.2 2033 1537.9C2028.9 1534.5 2024.9 1530.8 2020.9 1527.8C2016.8 1524.8 2013.2 1521.8 2008.8 1519.8C2004.4 1517.7 1999.4 1517.4 1994.7 1515.7C1990 1514.1 1984.6 1512.7 1980.6 1509.7C1976.6 1506.7 1972.7 1502 1970.5 1497.6C1968.3 1493.2 1967.8 1488.2 1967.5 1483.5C1967.2 1478.8 1967.5 1474.4 1968.5 1469.4C1969.5 1464.4 1971.5 1458.7 1973.5 1453.3C1975.5 1447.9 1978.4 1442.6 1980.6 1437.2C1982.8 1431.8 1984.6 1426.8 1986.6 1421.1C1988.6 1415.4 1990.7 1409.3 1992.7 1402.9C1994.7 1396.6 1996.7 1389.5 1998.7 1382.8C2000.7 1376.1 2003.1 1369.7 2004.8 1362.7C2006.4 1355.6 2008 1347.5 2008.8 1340.5C2009.6 1333.4 2010 1327.1 2009.8 1320.4C2009.6 1313.6 2008.6 1306.6 2007.8 1300.2C2006.9 1293.8 2006.3 1287.8 2004.8 1282.1C2003.3 1276.4 2000.9 1270.9 1998.7 1266C1996.5 1261 1993.8 1257.6 1991.7 1252.3C1989.5 1247 1986.8 1240.2 1985.6 1234.1C1984.4 1228.1 1984.3 1222.1 1984.6 1216C1985 1210 1986.5 1204.3 1987.6 1197.9C1988.8 1191.5 1990.2 1184.1 1991.7 1177.7C1993.2 1171.4 1994.5 1165.7 1996.7 1159.6C1998.9 1153.6 2002.1 1146.7 2004.8 1141.5C2007.4 1136.3 2010.8 1131.4 2012.8 1128.4Z"/>
<path d="M2212.3 985.2C2212.5 981.7 2210.9 983.2 2213.9 984C2216.9 984.7 2225.7 988 2230.4 989.6C2235.1 991.2 2240 992.7 2242.1 993.6C2244.2 994.6 2242.9 994.6 2242.9 995.1C2242.9 995.5 2244.2 995.6 2242.1 996.5C2240 997.4 2235.1 998.9 2230.4 1000.5C2225.7 1002.1 2216.9 1005.4 2213.9 1006.1C2210.9 1006.9 2212.5 1008.4 2212.3 1004.9C2212 1001.4 2212 988.7 2212.3 985.2Z" fill="#f7ecec"/>
<text x="2194.5" y="1009.2" font-size="23.5" font-weight="bold" fill="#fff" text-anchor="middle">B</text>
<path transform="translate(2032.4 1156.6) rotate(5) scale(0.5)" fill="#f7ecec" d="M0 -29.6C1.4 -29.6 2.5 -29 4.2 -27.2C5.9 -25.4 8.8 -21.4 10.3 -19C11.8 -16.7 13 -14.8 13.3 -13C13.5 -11.2 12.7 -9.6 11.8 -8.5C10.9 -7.3 8.5 -8.6 7.9 -6C7.2 -3.5 7.8 1.8 7.9 6.6C7.9 11.5 8.5 19.6 8.2 23.3C7.8 26.9 7.1 27.3 5.7 28.4C4.4 29.5 1.9 29.6 0 29.6C-1.9 29.6 -4.4 29.5 -5.7 28.4C-7.1 27.3 -7.8 26.9 -8.2 23.3C-8.5 19.6 -7.9 11.5 -7.9 6.6C-7.8 1.8 -7.2 -3.5 -7.9 -6C-8.5 -8.6 -10.9 -7.3 -11.8 -8.5C-12.7 -9.6 -13.5 -11.2 -13.3 -13C-13 -14.8 -11.8 -16.7 -10.3 -19C-8.8 -21.4 -5.9 -25.4 -4.2 -27.2C-2.5 -29 -1.4 -29.6 0 -29.6Z"/>
<text x="2011.2" y="1185.8" font-size="23.5" font-weight="bold" fill="#fff" text-anchor="middle">C</text>
<path transform="translate(2007.8 1227.7) rotate(0) scale(0.5)" fill="#f7ecec" d="M0 -29.6C3.1 -29.6 6.9 -28.5 9.4 -26.6C11.9 -24.7 14.2 -21.1 15.1 -18.1C16.1 -15.2 15.9 -11.9 15.1 -9.1C14.4 -6.2 11.7 -3.4 10.6 -0.9C9.5 1.6 8.3 3.1 8.5 6C8.6 9 10.6 13.6 11.5 16.6C12.4 19.6 13.9 22.2 13.9 24.2C13.9 26.2 13.8 27.8 11.5 28.7C9.2 29.6 3.8 29.6 0 29.6C-3.8 29.6 -8.9 29.6 -11.2 28.7C-13.4 27.8 -13.6 26.2 -13.6 24.2C-13.6 22.2 -12.1 19.6 -11.2 16.6C-10.3 13.6 -8.3 9 -8.2 6C-8.1 3.1 -9.4 1.6 -10.6 -0.9C-11.7 -3.4 -14.4 -6.2 -15.1 -9.1C-15.9 -11.9 -16.1 -15.2 -15.1 -18.1C-14.2 -21.1 -11.9 -24.7 -9.4 -26.6C-6.9 -28.5 -3.1 -29.6 0 -29.6Z"/>
<text x="2017.9" y="1273.5" font-size="23.5" font-weight="bold" fill="#fff" text-anchor="middle">A</text>
<text x="1994.3" y="1460.5" font-size="23.5" font-weight="bold" fill="#fff" text-anchor="middle">D</text>
<path transform="translate(1992.3 1480.6) rotate(-90) scale(0.3)" fill="#f7ecec" d="M-0.3 -29.6C2.4 -29.6 5.7 -28.4 7.9 -26.6C10 -24.8 11.6 -22.1 12.4 -19C13.2 -16 12.5 -11.7 12.7 -8.5C12.8 -5.2 12.2 -1.9 13.3 0.6C14.4 3.1 17.1 4.9 19.3 6.6C21.6 8.4 25 9.3 26.9 11.2C28.8 13.1 30.2 15.8 30.5 18.1C30.9 20.5 30.3 23.5 29 25.4C27.8 27.2 27.9 28.6 23 29.3C18.1 30 7.5 29.6 -0.3 29.6C-8.1 29.6 -18.7 30 -23.6 29.3C-28.5 28.6 -28.5 27.2 -29.6 25.4C-30.8 23.5 -31 20.5 -30.5 18.1C-30.1 15.8 -28.8 13.1 -26.9 11.2C-25 9.3 -21.6 8.4 -19.3 6.6C-17.1 4.9 -14.4 3.1 -13.3 0.6C-12.2 -1.9 -13.1 -5.2 -13 -8.5C-12.9 -11.7 -13.4 -16 -12.7 -19C-11.9 -22.1 -10.5 -24.8 -8.5 -26.6C-6.4 -28.4 -3 -29.6 -0.3 -29.6Z"/>
<path transform="translate(2133.7 1550.1) rotate(70) scale(0.4)" fill="#f7ecec" d="M0.3 -29.6C3.1 -29.6 6.3 -28.9 8.5 -27.2C10.6 -25.5 12.3 -22.2 13 -19.6C13.6 -17.1 13.1 -14.4 12.4 -12.1C11.6 -9.8 8.9 -7.8 8.5 -6C8.1 -4.3 8.8 -3.5 10 -1.5C11.1 0.5 14.3 3.5 15.4 6C16.5 8.6 17 10.8 16.6 13.6C16.2 16.4 14.6 20.2 13 22.7C11.4 25.1 9.2 26.9 7 28.1C4.7 29.3 2.1 29.6 -0.3 29.6C-2.7 29.6 -5.3 29.3 -7.6 28.1C-9.8 26.9 -12 25.1 -13.6 22.7C-15.2 20.2 -16.8 16.4 -17.2 13.6C-17.6 10.8 -17.1 8.6 -16 6C-14.9 3.5 -11.8 0.5 -10.6 -1.5C-9.4 -3.5 -8.5 -4.3 -8.8 -6C-9.1 -7.8 -11.7 -9.8 -12.4 -12.1C-13.1 -14.4 -13.7 -17.1 -13 -19.6C-12.3 -22.2 -10.4 -25.5 -8.2 -27.2C-5.9 -28.9 -2.5 -29.6 0.3 -29.6Z"/>
<text x="2130.7" y="1589.4" font-size="23.5" font-weight="bold" fill="#fff" text-anchor="middle">E</text>
<circle class="dash" cx="2217.3" cy="994.9" r="50.2" style="stroke-width:6.2;stroke-dasharray:11.3 15"/>
<circle class="dash" cx="2025.9" cy="1159.6" r="39.5" stroke-width="4.8"/>
<circle class="dash" cx="2011.8" cy="1244.2" r="39.5" stroke-width="4.8"/>
<circle class="dash" cx="1996.3" cy="1468.5" r="50.2" style="stroke-width:6.2;stroke-dasharray:11.3 15"/>
<circle class="dash" cx="2133.7" cy="1557.1" r="50.2" style="stroke-width:6.2;stroke-dasharray:11.3 15"/>
<line x1="2186.6" y1="890.8" x2="2198.9" y2="921.7" stroke="#b5b5b5" stroke-width="4.6"/><path d="M2206.7 941.2L2209.6 917.4L2188.2 926Z" fill="#b5b5b5"/>
<line x1="1888.5" y1="986.5" x2="1959.1" y2="1219.2" stroke="#b5b5b5" stroke-width="4.6"/><path d="M1965.5 1240.3L1970.6 1215.8L1947.6 1222.7Z" fill="#b5b5b5"/>
<line x1="2516" y1="1162.3" x2="2093.2" y2="1167.1" stroke="#b5b5b5" stroke-width="4.6"/><path d="M2071.2 1167.3L2093.3 1179.1L2093.1 1155.1Z" fill="#b5b5b5"/>
<line x1="1529" y1="930" x2="1939.1" y2="1409.6" stroke="#b5b5b5" stroke-width="4.6"/><path d="M1953.4 1426.3L1948.2 1401.8L1930 1417.4Z" fill="#b5b5b5"/>
<line x1="2404" y1="1626" x2="2212.2" y2="1570.4" stroke="#b5b5b5" stroke-width="4.6"/><path d="M2191.1 1564.3L2208.9 1581.9L2215.6 1558.9Z" fill="#b5b5b5"/>
<!-- panel C pieces -->
<path class="rg sh" d="M2821.8 786.6C2823.6 786.6 2826.1 789.1 2827.9 793.2C2829.6 797.4 2830.7 804.8 2832.4 811.4C2834.2 817.9 2835.9 825.5 2838.5 832.5C2841 839.6 2844.5 846.6 2847.5 853.7C2850.5 860.7 2854.1 867.8 2856.6 874.8C2859.1 881.9 2860.9 888.4 2862.6 896C2864.4 903.5 2866.2 912.1 2867.2 920.1C2868.2 928.2 2868.3 936.7 2868.7 944.3C2869 951.9 2869.5 958.9 2869.3 965.5C2869 972 2867.9 979.1 2867.2 983.6C2866.5 988 2865.1 992 2865.1 992C2865.1 992 2870.1 987.5 2874.7 983.6C2879.4 979.7 2885.8 973.5 2892.9 968.5C2899.9 963.4 2909 957.3 2917 953.4C2925.1 949.4 2933.2 946.7 2941.2 944.9C2949.3 943.1 2957.3 942.6 2965.4 942.8C2973.4 942.9 2981.5 944.8 2989.6 945.8C2997.6 946.8 3006.2 948.8 3013.7 948.8C3021.3 948.8 3028.3 947.1 3034.9 945.8C3041.4 944.6 3049.5 941.3 3053 941.3C3056.5 941.3 3057.6 942.8 3056 945.8C3054.5 948.8 3049 955.1 3044 959.4C3038.9 963.7 3032.9 967.5 3025.8 971.5C3018.8 975.5 3009.7 980.1 3001.6 983.6C2993.6 987.1 2985.5 990.4 2977.5 992.6C2969.4 994.9 2961.4 996.2 2953.3 997.2C2945.2 998.2 2937.2 998.2 2929.1 998.7C2921.1 999.2 2911.5 999.7 2904.9 1000.2C2898.4 1000.7 2893.3 1000.7 2889.8 1001.7C2886.4 1002.7 2884.4 1006.2 2884.4 1006.2C2884.4 1006.2 2895.5 1006.5 2901.9 1007.7C2908.4 1009 2916 1010.8 2923.1 1013.8C2930.1 1016.8 2937.7 1021.3 2944.2 1025.9C2950.8 1030.4 2956.8 1035.9 2962.4 1041C2967.9 1046 2972.9 1051.1 2977.5 1056.1C2982 1061.1 2986.5 1066.7 2989.6 1071.2C2992.6 1075.7 2995 1080.5 2995.6 1083.3C2996.2 1086.1 2995.2 1087.8 2993.2 1087.8C2991.2 1087.8 2988.2 1085.5 2983.5 1083.3C2978.9 1081 2971.4 1076.2 2965.4 1074.2C2959.3 1072.2 2953.3 1072.7 2947.3 1071.2C2941.2 1069.7 2934.7 1067.7 2929.1 1065.2C2923.6 1062.6 2919 1060.1 2914 1056.1C2909 1052.1 2903.4 1046 2898.9 1041C2894.4 1035.9 2890.3 1030.4 2886.8 1025.9C2883.3 1021.3 2880.7 1016.2 2877.7 1013.8C2874.8 1011.4 2871.2 1010.4 2869.3 1011.4C2867.4 1012.4 2867.1 1016.4 2866.3 1019.8C2865.4 1023.3 2865.8 1029.1 2864.1 1031.9C2862.5 1034.7 2859.4 1036.2 2856.6 1036.5C2853.8 1036.7 2849.5 1035.2 2847.5 1033.4C2845.5 1031.7 2845.3 1028 2844.5 1025.9C2843.8 1023.7 2845 1020.9 2843 1020.4C2841 1019.9 2837.2 1019.9 2832.4 1022.9C2827.6 1025.8 2820.3 1032.4 2814.3 1038C2808.2 1043.5 2802.2 1049.5 2796.2 1056.1C2790.1 1062.6 2783.6 1070.7 2778 1077.2C2772.5 1083.8 2767 1089.9 2762.9 1095.4C2758.8 1100.8 2752.7 1106.3 2753.2 1109.9C2753.7 1113.4 2762.3 1112.9 2765.9 1116.5C2769.6 1120.1 2773.7 1126.1 2775 1131.6C2776.3 1137.2 2775.5 1144.7 2773.5 1149.8C2771.5 1154.8 2767.2 1159.1 2762.9 1161.8C2758.6 1164.6 2752.8 1166.1 2747.8 1166.4C2742.8 1166.6 2736.1 1165 2732.7 1163.3C2729.3 1161.7 2727.3 1156.4 2727.3 1156.4C2727.3 1156.4 2720.2 1158.4 2717.6 1157.3C2715 1156.2 2712.8 1153.5 2711.5 1149.8C2710.3 1146 2709.5 1139.7 2710 1134.6C2710.5 1129.6 2712.3 1124.1 2714.6 1119.5C2716.8 1115 2720.6 1111 2723.6 1107.5C2726.6 1103.9 2729.2 1101.9 2732.7 1098.4C2736.2 1094.9 2740.2 1091.3 2744.8 1086.3C2749.3 1081.3 2754.3 1074.2 2759.9 1068.2C2765.4 1062.1 2772 1056.1 2778 1050C2784.1 1044 2790.6 1037 2796.2 1031.9C2801.7 1026.9 2807.3 1023.3 2811.3 1019.8C2815.2 1016.4 2819.5 1013.6 2819.7 1011.4C2820 1009.1 2814.7 1008.4 2812.8 1006.2C2810.9 1004.1 2808.7 1001.2 2808.2 998.7C2807.7 996.2 2808.2 992.9 2809.8 991.1C2811.3 989.4 2814.8 987.9 2817.3 988.1C2819.8 988.4 2823.3 990.4 2824.9 992.6C2826.5 994.9 2825.7 999.3 2827 1001.7C2828.2 1004.1 2830 1006.6 2832.4 1007.1C2834.8 1007.6 2839 1006.6 2841.5 1004.7C2844 1002.8 2847 999.7 2847.5 995.7C2848 991.6 2846.5 985.6 2844.5 980.6C2842.5 975.5 2839 971 2835.4 965.5C2831.9 959.9 2826.9 953.9 2823.4 947.3C2819.8 940.8 2816.8 933.7 2814.3 926.2C2811.8 918.6 2809.5 910.1 2808.2 902C2807 893.9 2806.7 885.9 2806.7 877.8C2806.7 869.8 2807.2 861.7 2808.2 853.7C2809.2 845.6 2811.5 837 2812.8 829.5C2814 821.9 2815 814.4 2815.8 808.3C2816.6 802.3 2816.3 796.9 2817.3 793.2C2818.3 789.6 2820.1 786.6 2821.8 786.6Z"/>
<path class="vr" d="M2826.4 835.5C2827.4 839.6 2830.4 851.6 2832.4 859.7C2834.4 867.8 2836.4 875.3 2838.5 883.9C2840.5 892.4 2842.7 901.5 2844.5 911.1C2846.3 920.6 2847.8 931.2 2849 941.3C2850.3 951.4 2851.6 966.5 2852.1 971.5"/>
<path class="vr" d="M2820.9 888.4C2822.8 890.2 2828.7 894.2 2832.4 899C2836.1 903.8 2841.2 914.1 2843 917.1"/>
<path class="vr" d="M2838.5 864.2C2837.7 867 2834.7 878.1 2833.9 880.9"/>
<path class="vr" d="M2849 906.5C2848.3 909.6 2845.3 921.6 2844.5 924.7"/>
<path class="vr" d="M2874.7 994.2C2878.8 992.6 2890.8 987.6 2898.9 985.1C2907 982.6 2915 980.6 2923.1 979C2931.1 977.5 2939.2 977 2947.3 976C2955.3 975 2963.4 974.3 2971.4 973C2979.5 971.7 2988.6 970.2 2995.6 968.5C3002.7 966.7 3010.7 963.4 3013.7 962.4"/>
<path class="vr" d="M2932.1 976.9C2934.7 975 2941.5 968.6 2947.3 965.5C2953 962.3 2963.6 959.2 2966.9 957.9"/>
<path class="vr" d="M2947.3 976C2948.8 977 2953.8 980.3 2956.3 982.1C2958.8 983.8 2961.4 985.8 2962.4 986.6"/>
<path class="vr" d="M2889.8 1013.8C2892.9 1015.3 2901.4 1019.3 2908 1022.9C2914.5 1026.4 2922.6 1030.4 2929.1 1034.9C2935.7 1039.5 2941.7 1045.5 2947.3 1050C2952.8 1054.6 2958.3 1059.1 2962.4 1062.1C2966.4 1065.2 2969.9 1067.2 2971.4 1068.2"/>
<path class="vr" d="M2904.9 1021.3C2906.5 1023.6 2911.2 1030.7 2914 1034.9C2916.8 1039.2 2920.3 1045 2921.6 1047"/>
<path class="vr" d="M2923.1 1030.4C2925.1 1030.9 2931.1 1032.4 2935.2 1033.4C2939.2 1034.4 2945.2 1035.9 2947.3 1036.5"/>
<path transform="translate(2752.6 1145.2) rotate(5) scale(0.4)" fill="#fbe3db" d="M0 -29.6C1.4 -29.6 2.5 -29 4.2 -27.2C5.9 -25.4 8.8 -21.4 10.3 -19C11.8 -16.7 13 -14.8 13.3 -13C13.5 -11.2 12.7 -9.6 11.8 -8.5C10.9 -7.3 8.5 -8.6 7.9 -6C7.2 -3.5 7.8 1.8 7.9 6.6C7.9 11.5 8.5 19.6 8.2 23.3C7.8 26.9 7.1 27.3 5.7 28.4C4.4 29.5 1.9 29.6 0 29.6C-1.9 29.6 -4.4 29.5 -5.7 28.4C-7.1 27.3 -7.8 26.9 -8.2 23.3C-8.5 19.6 -7.9 11.5 -7.9 6.6C-7.8 1.8 -7.2 -3.5 -7.9 -6C-8.5 -8.6 -10.9 -7.3 -11.8 -8.5C-12.7 -9.6 -13.5 -11.2 -13.3 -13C-13 -14.8 -11.8 -16.7 -10.3 -19C-8.8 -21.4 -5.9 -25.4 -4.2 -27.2C-2.5 -29 -1.4 -29.6 0 -29.6Z"/>
<text x="2732.7" y="1141" font-size="23.5" font-weight="bold" fill="#000" text-anchor="middle">1</text>
<circle class="dash" cx="2746.3" cy="1137.1" r="38" stroke-width="4.6"/>
<path class="vc sh" d="M2935.2 1155.9C2936.7 1156.4 2938.4 1156.6 2938.2 1160.4C2937.9 1164.2 2935.7 1172 2933.7 1178.6C2931.6 1185.1 2928.9 1192.7 2926.1 1199.7C2923.3 1206.8 2920.1 1214.3 2917 1220.9C2914 1227.4 2911 1232.9 2908 1239C2904.9 1245 2901.4 1251.1 2898.9 1257.1C2896.4 1263.2 2895.4 1269.7 2892.9 1275.2C2890.3 1280.8 2887.8 1285.8 2883.8 1290.3C2879.8 1294.9 2874.2 1298.9 2868.7 1302.4C2863.1 1306 2855.6 1308.5 2850.5 1311.5C2845.5 1314.5 2841.4 1318.1 2838.5 1320.6C2835.5 1323 2833 1326 2833 1326C2833 1326 2841.6 1322.5 2847.5 1320.6C2853.5 1318.6 2861.1 1316 2868.7 1314.5C2876.2 1313 2885.3 1311.2 2892.9 1311.5C2900.4 1311.7 2907.5 1313.8 2914 1316C2920.6 1318.3 2926.6 1321.6 2932.1 1325.1C2937.7 1328.6 2942.7 1332.9 2947.3 1337.2C2951.8 1341.5 2955.3 1346.5 2959.3 1350.8C2963.4 1355.1 2967.4 1359.6 2971.4 1362.9C2975.5 1366.1 2980.5 1368.4 2983.5 1370.4C2986.5 1372.4 2989.6 1373.7 2989.6 1374.9C2989.6 1376.2 2987.5 1378.2 2983.5 1378C2979.5 1377.7 2971.9 1374.7 2965.4 1373.4C2958.8 1372.2 2951.3 1371.2 2944.2 1370.4C2937.2 1369.7 2930.1 1369.7 2923.1 1368.9C2916 1368.1 2909 1367.4 2901.9 1365.9C2894.9 1364.4 2887.8 1361.8 2880.8 1359.8C2873.7 1357.8 2866.2 1355.6 2859.6 1353.8C2853.1 1352 2847 1350.3 2841.5 1349.3C2835.9 1348.3 2830.9 1348 2826.4 1347.7C2821.8 1347.5 2818.8 1346.7 2814.3 1347.7C2809.8 1348.8 2804.7 1350.8 2799.2 1353.8C2793.6 1356.8 2787.1 1361.3 2781 1365.9C2775 1370.4 2769 1375.4 2762.9 1381C2756.9 1386.5 2750.3 1393.1 2744.8 1399.1C2739.2 1405.2 2734.2 1411.2 2729.7 1417.2C2725.1 1423.3 2720.9 1430.7 2717.6 1435.4C2714.3 1440 2709.5 1442.5 2710 1445C2710.5 1447.6 2717.3 1447.6 2720.6 1450.5C2723.9 1453.4 2727.9 1458 2729.7 1462.6C2731.4 1467.1 2731.9 1472.6 2731.2 1477.7C2730.4 1482.7 2728.4 1488.7 2725.1 1492.8C2721.9 1496.8 2716.3 1500.1 2711.5 1501.8C2706.8 1503.6 2700.7 1504.1 2696.4 1503.3C2692.1 1502.6 2688.5 1499.2 2685.9 1497.3C2683.2 1495.4 2680.7 1492.2 2680.7 1492.2C2680.7 1492.2 2673.4 1494.2 2670.7 1492.8C2668.1 1491.4 2666 1487.7 2664.7 1483.7C2663.4 1479.7 2662.4 1473.6 2663.2 1468.6C2663.9 1463.6 2666.2 1458 2669.2 1453.5C2672.3 1449 2677.8 1444.9 2681.3 1441.4C2684.8 1437.9 2686.9 1436.9 2690.4 1432.3C2693.9 1427.8 2697.9 1420.3 2702.5 1414.2C2707 1408.2 2712 1402.1 2717.6 1396.1C2723.1 1390 2729.2 1384 2735.7 1378C2742.3 1371.9 2749.8 1365.4 2756.9 1359.8C2763.9 1354.3 2772.4 1348.9 2778 1344.7C2783.7 1340.6 2789.3 1338.2 2790.7 1335.1C2792.1 1331.9 2787.8 1328.9 2786.5 1326C2785.1 1323.1 2782.7 1320.2 2782.6 1317.5C2782.4 1314.9 2783.6 1311.7 2785.6 1310C2787.6 1308.2 2791.6 1307 2794.6 1307C2797.7 1307 2801.3 1308.3 2803.7 1310C2806.1 1311.6 2807.1 1318.7 2808.8 1316.9C2810.6 1315.2 2812.4 1305.3 2814.3 1299.4C2816.2 1293.5 2817.8 1287.3 2820.3 1281.3C2822.8 1275.2 2825.9 1269.2 2829.4 1263.2C2832.9 1257.1 2838 1251.1 2841.5 1245C2845 1239 2847 1232.9 2850.5 1226.9C2854.1 1220.9 2858.1 1214.8 2862.6 1208.8C2867.2 1202.7 2872.2 1196.2 2877.7 1190.6C2883.3 1185.1 2889.8 1179.8 2895.9 1175.5C2901.9 1171.3 2908.5 1168 2914 1165C2919.6 1161.9 2925.6 1158.9 2929.1 1157.4C2932.6 1155.9 2933.7 1155.4 2935.2 1155.9Z"/>
<path class="vv" d="M2815.8 1325.1C2818.6 1321.8 2826.6 1312.8 2832.4 1305.5C2838.2 1298.1 2844.5 1290.3 2850.5 1281.3C2856.6 1272.2 2862.6 1261.1 2868.7 1251.1C2874.7 1241 2881.3 1229.9 2886.8 1220.9C2892.4 1211.8 2897.6 1202.5 2901.9 1196.7C2906.2 1190.9 2910.7 1187.9 2912.5 1186.1"/>
<path class="vv" d="M2850.5 1281.3C2849 1279.8 2843.5 1275 2841.5 1272.2C2839.5 1269.4 2839 1265.9 2838.5 1264.7"/>
<path class="vv" d="M2864.1 1258.6C2864.1 1256.4 2864 1248.8 2864.1 1245C2864.2 1241.2 2864.7 1237.5 2864.8 1236"/>
<path class="vv" d="M2865.7 1257.1C2867.7 1257.6 2874.7 1260.1 2877.7 1260.1C2880.8 1260.1 2882.8 1257.6 2883.8 1257.1"/>
<path class="vv" d="M2840 1296.4C2841.7 1296.4 2847.8 1296.9 2850.5 1296.4C2853.3 1295.9 2855.6 1293.9 2856.6 1293.4"/>
<path class="vv" d="M2829.4 1335.7C2832.9 1335.4 2843 1334.2 2850.5 1334.2C2858.1 1334.2 2866.7 1334.9 2874.7 1335.7C2882.8 1336.4 2890.8 1336.9 2898.9 1338.7C2907 1340.4 2916.5 1343.7 2923.1 1346.2C2929.6 1348.8 2935.7 1352.5 2938.2 1353.8"/>
<path class="vv" d="M2862.6 1335.1C2864.7 1333.9 2871.2 1329.9 2874.7 1328.1C2878.3 1326.3 2882.3 1324.8 2883.8 1324.2"/>
<path class="vv" d="M2892.9 1338.7C2895.4 1337.7 2903.7 1334.3 2908 1332.6C2912.2 1331 2916.8 1329.6 2918.5 1329"/>
<path class="vv" d="M2856.6 1334.5C2857.6 1335.7 2860.9 1339.7 2862.6 1341.7C2864.4 1343.7 2866.4 1345.5 2867.2 1346.2"/>
<path class="vv" d="M2886.8 1337.2C2888.8 1338.9 2895.4 1344.7 2898.9 1347.7C2902.4 1350.8 2906.5 1354 2908 1355.3"/>
<path transform="translate(2707.3 1479.5) rotate(5) scale(0.4)" fill="#fdf2e0" d="M0 -29.6C1.4 -29.6 2.5 -29 4.2 -27.2C5.9 -25.4 8.8 -21.4 10.3 -19C11.8 -16.7 13 -14.8 13.3 -13C13.5 -11.2 12.7 -9.6 11.8 -8.5C10.9 -7.3 8.5 -8.6 7.9 -6C7.2 -3.5 7.8 1.8 7.9 6.6C7.9 11.5 8.5 19.6 8.2 23.3C7.8 26.9 7.1 27.3 5.7 28.4C4.4 29.5 1.9 29.6 0 29.6C-1.9 29.6 -4.4 29.5 -5.7 28.4C-7.1 27.3 -7.8 26.9 -8.2 23.3C-8.5 19.6 -7.9 11.5 -7.9 6.6C-7.8 1.8 -7.2 -3.5 -7.9 -6C-8.5 -8.6 -10.9 -7.3 -11.8 -8.5C-12.7 -9.6 -13.5 -11.2 -13.3 -13C-13 -14.8 -11.8 -16.7 -10.3 -19C-8.8 -21.4 -5.9 -25.4 -4.2 -27.2C-2.5 -29 -1.4 -29.6 0 -29.6Z"/>
<text x="2685.5" y="1474.9" font-size="23.5" font-weight="bold" fill="#000" text-anchor="middle">2</text>
<circle class="dash" cx="2700.4" cy="1471" r="38" stroke-width="4.6"/>
<path d="M2634.1 1332.1H2694.1M2664.1 1302.1V1362.1" stroke="#a8a9ad" stroke-width="10.5" fill="none"/>
<text x="2820" y="1169" font-size="85" font-style="italic" fill="#87888c" text-anchor="middle" stroke="#fff" stroke-width="1.2">1</text>
<text x="2773" y="1499.5" font-size="85" font-style="italic" fill="#87888c" text-anchor="middle" stroke="#fff" stroke-width="1.2">2</text>
<!-- panel E pieces -->
<path class="gv sh" d="M2200 1760.5C2208.5 1758 2216.6 1758.7 2224.2 1757.5C2231.7 1756.2 2238.8 1755.2 2245.3 1752.9C2251.9 1750.7 2257.4 1747.1 2263.5 1743.9C2269.5 1740.6 2275.5 1736.8 2281.6 1733.3C2287.6 1729.8 2293.7 1727 2299.7 1722.7C2305.8 1718.4 2312.3 1712.7 2317.9 1707.6C2323.4 1702.6 2328.4 1697.5 2333 1692.5C2337.5 1687.5 2340.5 1681.9 2345.1 1677.4C2349.6 1672.9 2354.6 1667.8 2360.2 1665.3C2365.7 1662.8 2372.8 1661.5 2378.3 1662.3C2383.8 1663.1 2388.4 1667.3 2393.4 1669.9C2398.4 1672.4 2403.5 1675.9 2408.5 1677.4C2413.6 1678.9 2420.2 1678.2 2423.6 1678.9C2427.1 1679.7 2429.1 1681.9 2429.1 1681.9C2429.1 1681.9 2422.5 1686.8 2417.6 1690.1C2412.6 1693.4 2405.5 1697.9 2399.5 1701.6C2393.4 1705.3 2387.4 1709.5 2381.3 1712.2C2375.3 1714.8 2369.2 1716.6 2363.2 1717.3C2357.1 1717.9 2350.1 1715.7 2345.1 1716.1C2340 1716.5 2337 1717.8 2333 1719.7C2328.9 1721.6 2324.2 1725.1 2320.9 1727.3C2317.6 1729.4 2313.3 1732.4 2313.3 1732.4C2313.3 1732.4 2323.6 1732.3 2329.9 1731.8C2336.2 1731.3 2344.6 1730.6 2351.1 1729.4C2357.6 1728.1 2362.2 1726.1 2369.2 1724.2C2376.3 1722.4 2385.3 1719.4 2393.4 1718.2C2401.5 1717 2410 1717.9 2417.6 1717.3C2425.1 1716.7 2433.8 1715.1 2438.7 1714.6C2443.7 1714.1 2447.2 1714.3 2447.2 1714.3C2447.2 1714.3 2446.2 1720.3 2443.3 1724.2C2440.3 1728.2 2435 1733.6 2429.7 1737.8C2424.4 1742.1 2417.6 1746.6 2411.5 1749.9C2405.5 1753.2 2398.9 1756.4 2393.4 1757.5C2387.9 1758.6 2383.3 1758.1 2378.3 1756.6C2373.3 1755.1 2368.7 1750.6 2363.2 1748.4C2357.6 1746.2 2351.1 1744.1 2345.1 1743.3C2339 1742.4 2333 1743.4 2326.9 1743.3C2320.9 1743.1 2314.8 1741.8 2308.8 1742.4C2302.7 1743 2296.7 1744.4 2290.7 1746.9C2284.6 1749.4 2278.6 1753.9 2272.5 1757.5C2266.5 1761 2260.9 1765.5 2254.4 1768C2247.8 1770.6 2240.3 1771.3 2233.2 1772.6C2226.2 1773.8 2222.1 1773.3 2212.1 1775.6C2202.1 1777.9 2184.9 1782.4 2173.4 1786.2C2161.9 1789.9 2153.3 1794.2 2143.2 1798.3C2133.1 1802.3 2123 1806.2 2113 1810.3C2102.9 1814.5 2088.4 1819.5 2082.7 1823C2077.1 1826.6 2080 1827.6 2079.1 1831.5C2078.3 1835.4 2078.9 1842.1 2077.6 1846.6C2076.4 1851.1 2074.1 1855.6 2071.6 1858.7C2069 1861.8 2065.8 1864.2 2062.5 1865.3C2059.2 1866.4 2055.4 1866.4 2051.9 1865.3C2048.4 1864.2 2044.1 1861.8 2041.3 1858.7C2038.6 1855.6 2036.7 1851.1 2035.3 1846.6C2033.9 1842.1 2032.9 1836.5 2032.9 1831.5C2032.9 1826.5 2033.6 1820.8 2035.3 1816.4C2037 1812 2039.6 1807.6 2042.9 1804.9C2046.1 1802.2 2050.9 1800.7 2054.9 1800.1C2059 1799.5 2063.5 1800 2067 1801.3C2070.6 1802.6 2073.5 1806.5 2076.1 1807.9C2078.7 1809.3 2076.6 1811.6 2082.7 1809.7C2088.9 1807.9 2102.9 1800.9 2113 1796.7C2123 1792.6 2133.1 1788.7 2143.2 1784.7C2153.3 1780.6 2163.9 1776.6 2173.4 1772.6C2182.9 1768.5 2191.5 1763 2200 1760.5Z"/>
<path class="vg" d="M2342 1707.6C2345.6 1705.6 2356.6 1699.1 2363.2 1695.5C2369.7 1692 2375.8 1688.7 2381.3 1686.5C2386.9 1684.2 2393.9 1682.7 2396.4 1681.9"/>
<path class="vg" d="M2369.2 1692.5C2370 1690.5 2373 1682.4 2373.8 1680.4"/>
<path class="vg" d="M2363.2 1695.5C2364.2 1696.1 2368.2 1698.6 2369.2 1699.2"/>
<path class="vg" d="M2360.2 1742.4C2363.7 1741.4 2374.8 1738.3 2381.3 1736.3C2387.9 1734.3 2393.9 1731.8 2399.5 1730.3C2405 1728.8 2412 1727.8 2414.6 1727.3"/>
<path class="vg" d="M2387.4 1734.2C2388.4 1735.3 2392.4 1739.7 2393.4 1740.9"/>
<path class="vg" d="M2408.5 1728.8C2409 1729.9 2411 1734.3 2411.5 1735.4"/>
<path transform="translate(2054 1823) rotate(80) scale(0.4)" fill="#f7ecec" d="M0.3 -29.6C3.1 -29.6 6.3 -28.9 8.5 -27.2C10.6 -25.5 12.3 -22.2 13 -19.6C13.6 -17.1 13.1 -14.4 12.4 -12.1C11.6 -9.8 8.9 -7.8 8.5 -6C8.1 -4.3 8.8 -3.5 10 -1.5C11.1 0.5 14.3 3.5 15.4 6C16.5 8.6 17 10.8 16.6 13.6C16.2 16.4 14.6 20.2 13 22.7C11.4 25.1 9.2 26.9 7 28.1C4.7 29.3 2.1 29.6 -0.3 29.6C-2.7 29.6 -5.3 29.3 -7.6 28.1C-9.8 26.9 -12 25.1 -13.6 22.7C-15.2 20.2 -16.8 16.4 -17.2 13.6C-17.6 10.8 -17.1 8.6 -16 6C-14.9 3.5 -11.8 0.5 -10.6 -1.5C-9.4 -3.5 -8.5 -4.3 -8.8 -6C-9.1 -7.8 -11.7 -9.8 -12.4 -12.1C-13.1 -14.4 -13.7 -17.1 -13 -19.6C-12.3 -22.2 -10.4 -25.5 -8.2 -27.2C-5.9 -28.9 -2.5 -29.6 0.3 -29.6Z"/>
<text x="2058" y="1854.1" font-size="23.5" font-weight="bold" fill="#fff" text-anchor="middle">1</text>
<circle class="dash" cx="2056.2" cy="1832.1" r="38" stroke-width="4.6"/>
<path class="rg sh" d="M2603.4 1813.4C2602.4 1813.9 2605.4 1822.9 2604.9 1828.5C2604.4 1834 2602.4 1841.3 2600.4 1846.6C2598.4 1851.9 2596.1 1856.9 2592.9 1860.2C2589.6 1863.5 2584.8 1865.7 2580.8 1866.2C2576.7 1866.7 2572.2 1865.5 2568.7 1863.2C2565.2 1861 2562 1856.9 2559.6 1852.6C2557.2 1848.4 2555.3 1842.6 2554.2 1837.5C2553.1 1832.5 2552.3 1827.2 2553 1822.4C2553.6 1817.6 2555.5 1812.4 2558.1 1808.8C2560.7 1805.3 2564.7 1802.6 2568.7 1801.3C2572.7 1799.9 2578 1800.1 2582.3 1800.7C2586.6 1801.3 2590.6 1803.5 2594.4 1804.9C2598.1 1806.3 2600.2 1809.2 2604.9 1808.8C2609.7 1808.5 2615 1806 2623.1 1802.8C2631.1 1799.6 2643.2 1794.2 2653.3 1789.8C2663.4 1785.4 2675.7 1780.5 2683.5 1776.5C2691.3 1772.5 2693.9 1768.5 2700 1765.9C2706.1 1763.3 2713.4 1762 2720.1 1760.9C2726.9 1759.7 2733.6 1759.3 2740.3 1759.2C2747 1759.2 2754.4 1759.8 2760.4 1760.5C2766.5 1761.1 2771.2 1762.2 2776.6 1763.3C2781.9 1764.3 2787.3 1765.6 2792.7 1766.9C2798 1768.2 2804.1 1770.3 2808.8 1770.9C2813.5 1771.6 2817.9 1771.6 2820.9 1770.9C2823.9 1770.3 2825.7 1768.4 2826.9 1766.9C2828.1 1765.4 2828.6 1763.2 2827.9 1761.9C2827.3 1760.5 2826.1 1759.5 2822.9 1758.8C2819.7 1758.2 2813.8 1758.2 2808.8 1757.8C2803.8 1757.5 2797.4 1757.3 2792.7 1756.8C2788 1756.3 2784.3 1756.2 2780.6 1754.8C2776.9 1753.5 2773 1751.5 2770.5 1748.8C2768 1746.1 2766.4 1742.7 2765.5 1738.7C2764.5 1734.7 2764.7 1728.3 2764.9 1724.6C2765 1720.9 2765.7 1718.2 2766.5 1716.5C2767.3 1714.9 2769.5 1714.5 2769.5 1714.5C2769.5 1714.5 2773.4 1717.2 2776.6 1718.6C2779.7 1719.9 2785 1720.9 2788.6 1722.6C2792.3 1724.3 2795.4 1726.6 2798.7 1728.6C2802.1 1730.6 2805.1 1733.3 2808.8 1734.7C2812.5 1736 2817.2 1736 2820.9 1736.7C2824.6 1737.4 2827.9 1737.7 2831 1738.7C2834 1739.7 2837 1741 2839 1742.7C2841 1744.4 2841.8 1747.3 2843 1748.8C2844.3 1750.3 2844.7 1752.1 2846.7 1751.8C2848.7 1751.5 2851.7 1748.1 2855.1 1746.8C2858.6 1745.4 2862.9 1744.2 2867.2 1743.7C2871.6 1743.2 2877 1744.2 2881.3 1743.7C2885.7 1743.2 2889 1741.5 2893.4 1740.7C2897.8 1739.9 2903.1 1739.1 2907.5 1739.1C2911.9 1739.1 2916.2 1739.8 2919.6 1740.7C2923 1741.7 2925.3 1742.7 2927.7 1744.7C2930 1746.8 2931.7 1749.8 2933.7 1752.8C2935.7 1755.8 2937.7 1759.8 2939.7 1762.9C2941.8 1765.9 2943.9 1768.2 2945.8 1770.9C2947.6 1773.6 2950.2 1777.1 2950.8 1779C2951.5 1780.8 2949.8 1782 2949.8 1782C2949.8 1782 2944.8 1781.2 2941.8 1780C2938.7 1778.8 2935.4 1776 2931.7 1775C2928 1773.9 2923.6 1773.6 2919.6 1773.9C2915.6 1774.3 2911.9 1776.3 2907.5 1777C2903.1 1777.6 2897.8 1778 2893.4 1778C2889 1778 2885.3 1777.8 2881.3 1777C2877.3 1776.1 2872.9 1774.6 2869.2 1772.9C2865.5 1771.3 2861.5 1768.9 2859.2 1766.9C2856.8 1764.9 2856.2 1762.3 2855.1 1760.9C2854.1 1759.4 2853.7 1758.4 2852.7 1758.4C2851.7 1758.4 2850.4 1759.1 2849.1 1760.9C2847.8 1762.6 2846.7 1766.6 2845.1 1768.9C2843.4 1771.3 2841.7 1773.3 2839 1775C2836.3 1776.6 2832.6 1778.1 2828.9 1779C2825.2 1779.8 2821.6 1780.3 2816.8 1780C2812.1 1779.7 2806.1 1778.3 2800.7 1777C2795.4 1775.6 2790 1773.3 2784.6 1771.9C2779.2 1770.6 2773.9 1769.6 2768.5 1768.9C2763.1 1768.2 2757.8 1767.9 2752.4 1767.9C2747 1767.9 2741.6 1768.2 2736.3 1768.9C2730.9 1769.6 2724.8 1770.6 2720.1 1771.9C2715.4 1773.3 2713.2 1773.5 2708.1 1777C2703 1780.4 2697.7 1788 2689.6 1792.8C2681.4 1797.7 2669.4 1801.9 2659.3 1806.1C2649.3 1810.3 2637.2 1815 2629.1 1818.2C2621.1 1821.4 2615.3 1826.3 2611 1825.5C2606.7 1824.6 2604.4 1812.9 2603.4 1813.4Z"/>
<path class="vr" d="M2775.5 1732.7C2777.7 1734 2783.8 1738.7 2788.6 1740.7C2793.5 1742.7 2799.4 1743.4 2804.8 1744.7C2810.1 1746.1 2816.5 1747.1 2820.9 1748.8C2825.2 1750.4 2828.8 1753.1 2831 1754.8C2833.1 1756.5 2833.5 1758.2 2834 1758.8"/>
<path class="vr" d="M2776.6 1743.7C2778.2 1743.4 2785 1742.1 2786.6 1741.7"/>
<path class="vr" d="M2794.7 1750.8C2796 1750.1 2801.4 1747.4 2802.7 1746.8"/>
<path class="vr" d="M2874.3 1760.9C2876.1 1759.5 2881.5 1754.6 2885.3 1752.8C2889.2 1750.9 2893.7 1750.4 2897.4 1749.8C2901.1 1749.1 2905.8 1748.9 2907.5 1748.8"/>
<path class="vr" d="M2891.4 1751.2C2891.4 1753.1 2891.4 1760.9 2891.4 1762.9"/>
<path class="vr" d="M2901.5 1749.8C2903.5 1750.9 2910.7 1754.7 2913.6 1756.8C2916.4 1758.9 2917.8 1761.5 2918.6 1762.5"/>
<path transform="translate(2576.2 1821.8) rotate(80) scale(0.4)" fill="#fbe3db" d="M0.3 -29.6C3.1 -29.6 6.3 -28.9 8.5 -27.2C10.6 -25.5 12.3 -22.2 13 -19.6C13.6 -17.1 13.1 -14.4 12.4 -12.1C11.6 -9.8 8.9 -7.8 8.5 -6C8.1 -4.3 8.8 -3.5 10 -1.5C11.1 0.5 14.3 3.5 15.4 6C16.5 8.6 17 10.8 16.6 13.6C16.2 16.4 14.6 20.2 13 22.7C11.4 25.1 9.2 26.9 7 28.1C4.7 29.3 2.1 29.6 -0.3 29.6C-2.7 29.6 -5.3 29.3 -7.6 28.1C-9.8 26.9 -12 25.1 -13.6 22.7C-15.2 20.2 -16.8 16.4 -17.2 13.6C-17.6 10.8 -17.1 8.6 -16 6C-14.9 3.5 -11.8 0.5 -10.6 -1.5C-9.4 -3.5 -8.5 -4.3 -8.8 -6C-9.1 -7.8 -11.7 -9.8 -12.4 -12.1C-13.1 -14.4 -13.7 -17.1 -13 -19.6C-12.3 -22.2 -10.4 -25.5 -8.2 -27.2C-5.9 -28.9 -2.5 -29.6 0.3 -29.6Z"/>
<text x="2577.1" y="1854.8" font-size="23.5" font-weight="bold" fill="#000" text-anchor="middle">2</text>
<circle class="dash" cx="2576.2" cy="1833" r="38" stroke-width="4.6"/>
<path class="vc sh" d="M2175.4 2218.7C2176.6 2216 2181.3 2210.8 2184.5 2205.6C2187.7 2200.4 2191.5 2193.5 2194.5 2187.5C2197.6 2181.4 2200.3 2175 2202.6 2169.3C2205 2163.6 2206.6 2158.3 2208.6 2153.2C2210.7 2148.2 2212.7 2143.2 2214.7 2139.1C2216.7 2135.1 2218.7 2131.9 2220.7 2129.1C2222.7 2126.2 2225.3 2123.3 2226.8 2122C2228.3 2120.7 2228.5 2120 2229.8 2121C2231.1 2122 2233.3 2127.2 2234.8 2128C2236.3 2128.9 2236.5 2128.2 2238.9 2126C2241.2 2123.8 2245.2 2118.1 2248.9 2115C2252.6 2111.8 2256.7 2109.2 2261 2106.9C2265.4 2104.5 2270.1 2102.7 2275.1 2100.9C2280.2 2099 2285.9 2097.2 2291.2 2095.8C2296.6 2094.5 2302.3 2093.6 2307.4 2092.8C2312.4 2092 2317.8 2092.1 2321.5 2090.8C2325.2 2089.4 2327.2 2087.4 2329.5 2084.7C2331.9 2082.1 2333.2 2077.5 2335.6 2074.7C2337.9 2071.8 2340.6 2069.3 2343.6 2067.6C2346.6 2065.9 2350.3 2064.8 2353.7 2064.6C2357.1 2064.4 2360.8 2065.3 2363.8 2066.6C2366.8 2068 2369.3 2070.6 2371.8 2072.7C2374.3 2074.7 2373.8 2079.4 2378.9 2078.7C2383.9 2078 2394.8 2071.6 2402.1 2068.6C2409.3 2065.6 2415.5 2063.6 2422.2 2060.6C2428.9 2057.5 2435.6 2053.9 2442.3 2050.5C2449.1 2047.1 2455.8 2043.4 2462.5 2040.4C2469.2 2037.4 2475.9 2034.7 2482.6 2032.4C2489.4 2030 2496.1 2027.8 2502.8 2026.3C2509.5 2024.8 2518 2024.1 2522.9 2023.3C2527.9 2022.6 2526.8 2023.6 2532.4 2021.8C2538 2020.1 2549.5 2016.3 2556.6 2012.8C2563.6 2009.2 2569.2 2004 2574.7 2000.7C2580.3 1997.4 2586.2 1995.7 2589.8 1993.1C2593.5 1990.6 2596.5 1988.9 2596.5 1985.6C2596.5 1982.3 2592.5 1978 2589.8 1973.5C2587.2 1969 2582.8 1963.9 2580.8 1958.4C2578.8 1952.8 2577.5 1946.3 2577.7 1940.3C2578 1934.2 2580.5 1927.4 2582.3 1922.1C2584 1916.8 2586.6 1911.1 2588.3 1908.5C2590.1 1906 2592.9 1907 2592.9 1907C2592.9 1907 2598.4 1914.6 2601.9 1919.1C2605.4 1923.6 2611 1929.7 2614 1934.2C2617 1938.8 2618.7 1943.3 2620.1 1946.3C2621.4 1949.3 2621.7 1954.4 2622.2 1952.3C2622.7 1950.3 2622.9 1940.3 2623.1 1934.2C2623.2 1928.2 2622.1 1922.1 2623.1 1916.1C2624.1 1910 2626.1 1903.5 2629.1 1898C2632.1 1892.4 2636.7 1887.4 2641.2 1882.9C2645.7 1878.3 2651.3 1874.5 2656.3 1870.8C2661.4 1867 2667.7 1862.7 2671.4 1860.2C2675.2 1857.7 2679 1855.7 2679 1855.7C2679 1855.7 2680.8 1857.7 2681.1 1861.7C2681.4 1865.7 2681.1 1873.8 2680.5 1879.8C2679.9 1885.9 2679 1891.9 2677.5 1898C2676 1904 2673.9 1910 2671.4 1916.1C2668.9 1922.1 2665.9 1928.7 2662.4 1934.2C2658.8 1939.8 2654.3 1944.8 2650.3 1949.3C2646.2 1953.9 2642.2 1957.9 2638.2 1961.4C2634.2 1964.9 2629.6 1967.5 2626.1 1970.5C2622.6 1973.5 2620.1 1976 2617 1979.5C2614 1983.1 2609.4 1988.6 2608 1991.6C2606.6 1994.6 2606.1 1997.2 2608.6 1997.7C2611.1 1998.2 2617.6 1995.9 2623.1 1994.6C2628.5 1993.4 2635.2 1992.1 2641.2 1990.1C2647.3 1988.1 2653.3 1985.3 2659.3 1982.6C2665.4 1979.8 2671.4 1976.5 2677.5 1973.5C2683.5 1970.5 2689.6 1967.2 2695.6 1964.4C2701.6 1961.7 2709.2 1958.9 2713.7 1956.9C2718.3 1954.9 2719.8 1952.8 2722.8 1952.3C2725.8 1951.8 2728.3 1954.6 2731.9 1953.9C2735.4 1953.1 2739.4 1949.5 2744 1947.8C2748.5 1946.2 2755.3 1944.2 2759.1 1943.9C2762.8 1943.5 2766.1 1944.5 2766.6 1945.7C2767.1 1946.9 2765.4 1948.7 2762.1 1950.8C2758.8 1953 2752 1956.1 2747 1958.4C2741.9 1960.7 2737.4 1962.2 2731.9 1964.4C2726.3 1966.7 2719.8 1969.2 2713.7 1972C2707.7 1974.8 2701.6 1978 2695.6 1981C2689.6 1984.1 2683.5 1987.3 2677.5 1990.1C2671.4 1992.9 2663.9 1995.7 2659.3 1997.7C2654.8 1999.7 2651.5 2000.4 2650.3 2002.2C2649 2004 2652.8 2007 2651.8 2008.2C2650.8 2009.5 2647 2010.3 2644.2 2009.8C2641.5 2009.2 2639.2 2005.7 2635.2 2005.2C2631.1 2004.7 2625.1 2006 2620.1 2006.7C2615 2007.5 2610.5 2008.2 2604.9 2009.8C2599.4 2011.3 2592.9 2013.3 2586.8 2015.8C2580.8 2018.3 2573.7 2021.9 2568.7 2024.9C2563.6 2027.8 2564.2 2031.4 2556.6 2033.3C2549 2035.2 2531.9 2035.2 2522.9 2036.4C2514 2037.6 2509.5 2038.7 2502.8 2040.4C2496.1 2042.1 2489.4 2044.1 2482.6 2046.5C2475.9 2048.8 2469.2 2051.5 2462.5 2054.5C2455.8 2057.5 2449.1 2061.2 2442.3 2064.6C2435.6 2068 2428.9 2071.6 2422.2 2074.7C2415.5 2077.7 2408.1 2080.4 2402.1 2082.7C2396 2085.1 2389.6 2087.1 2385.9 2088.8C2382.3 2090.4 2381.5 2090.1 2380.3 2092.8C2379.1 2095.5 2379.8 2100.9 2378.9 2104.9C2378 2108.9 2376.7 2112.9 2374.9 2117C2373 2121 2370.3 2126 2367.8 2129.1C2365.3 2132.1 2362.4 2134.3 2359.7 2135.1C2357.1 2135.9 2354.4 2135.3 2351.7 2134.1C2349 2132.9 2346.1 2130.9 2343.6 2128C2341.1 2125.2 2338.6 2120.4 2336.6 2117C2334.6 2113.5 2334.7 2109.1 2331.5 2107.3C2328.3 2105.5 2322.5 2105.6 2317.4 2105.9C2312.4 2106.2 2306.7 2107.6 2301.3 2108.9C2295.9 2110.3 2290.2 2111.9 2285.2 2113.9C2280.2 2116 2275.5 2118.1 2271.1 2121C2266.7 2123.8 2262.7 2127.4 2259 2131.1C2255.3 2134.8 2252.3 2138.8 2248.9 2143.2C2245.6 2147.5 2242.2 2152.6 2238.9 2157.3C2235.5 2162 2232.1 2166.7 2228.8 2171.4C2225.4 2176.1 2221.7 2180.8 2218.7 2185.5C2215.7 2190.2 2213 2195.5 2210.7 2199.5C2208.3 2203.6 2207 2206.9 2204.6 2209.6C2202.3 2212.3 2199.9 2213.8 2196.6 2215.7C2193.2 2217.5 2187.7 2219.7 2184.5 2220.7C2181.3 2221.7 2178.9 2222 2177.4 2221.7C2175.9 2221.4 2174.2 2221.4 2175.4 2218.7Z"/>
<path class="vv" d="M2601.9 1976.5C2600.9 1973.5 2597.9 1964.4 2595.9 1958.4C2593.9 1952.3 2591.3 1945.8 2589.8 1940.3C2588.3 1934.7 2587.3 1927.7 2586.8 1925.2"/>
<path class="vv" d="M2592.9 1949.3C2592.1 1948.3 2589.1 1944.3 2588.3 1943.3"/>
<path class="vv" d="M2597.4 1961.4C2598.4 1959.9 2602.4 1953.9 2603.4 1952.3"/>
<path class="vv" d="M2623.1 1961.4C2625.1 1957.9 2630.6 1947.8 2635.2 1940.3C2639.7 1932.7 2645.7 1924.1 2650.3 1916.1C2654.8 1908 2658.8 1899 2662.4 1891.9C2665.9 1884.9 2669.9 1876.8 2671.4 1873.8"/>
<path class="vv" d="M2635.2 1940.3C2634.7 1937.7 2632.6 1927.7 2632.1 1925.2"/>
<path class="vv" d="M2650.3 1916.1C2651.8 1916.3 2657.8 1917.3 2659.3 1917.6"/>
<path class="vv" d="M2644.2 1925.2C2644 1922.6 2643 1912.6 2642.7 1910"/>
<path transform="translate(2355.7 2086.8) rotate(80) scale(0.4)" fill="#fdf2e0" d="M0.3 -29.6C3.1 -29.6 6.3 -28.9 8.5 -27.2C10.6 -25.5 12.3 -22.2 13 -19.6C13.6 -17.1 13.1 -14.4 12.4 -12.1C11.6 -9.8 8.9 -7.8 8.5 -6C8.1 -4.3 8.8 -3.5 10 -1.5C11.1 0.5 14.3 3.5 15.4 6C16.5 8.6 17 10.8 16.6 13.6C16.2 16.4 14.6 20.2 13 22.7C11.4 25.1 9.2 26.9 7 28.1C4.7 29.3 2.1 29.6 -0.3 29.6C-2.7 29.6 -5.3 29.3 -7.6 28.1C-9.8 26.9 -12 25.1 -13.6 22.7C-15.2 20.2 -16.8 16.4 -17.2 13.6C-17.6 10.8 -17.1 8.6 -16 6C-14.9 3.5 -11.8 0.5 -10.6 -1.5C-9.4 -3.5 -8.5 -4.3 -8.8 -6C-9.1 -7.8 -11.7 -9.8 -12.4 -12.1C-13.1 -14.4 -13.7 -17.1 -13 -19.6C-12.3 -22.2 -10.4 -25.5 -8.2 -27.2C-5.9 -28.9 -2.5 -29.6 0.3 -29.6Z"/>
<text x="2358.3" y="2120.3" font-size="23.5" font-weight="bold" fill="#000" text-anchor="middle">3</text>
<circle class="dash" cx="2355.7" cy="2098.8" r="38" stroke-width="4.6"/>
<path d="M2442 1808H2502M2472 1778V1838" stroke="#a8a9ad" stroke-width="10.5" fill="none"/>
<path d="M2145.6 2073H2205.6M2175.6 2043V2103" stroke="#a8a9ad" stroke-width="10.5" fill="none"/>
<text x="2093" y="1773.5" font-size="85" font-style="italic" fill="#87888c" text-anchor="middle" stroke="#fff" stroke-width="1.2">1</text>
<text x="2597" y="1772.5" font-size="85" font-style="italic" fill="#87888c" text-anchor="middle" stroke="#fff" stroke-width="1.2">2</text>
<text x="2391" y="2043.5" font-size="85" font-style="italic" fill="#87888c" text-anchor="middle" stroke="#fff" stroke-width="1.2">3</text>
<!-- tab letters, key icons, legend -->
<text class="ss" transform="translate(244.04 768.2) scale(1.37 1.35)" font-size="100" font-weight="normal" font-style="normal" fill="#b5b5b5">D</text>
<text class="ss" transform="translate(248.58 1520.2) scale(1.18 1.34)" font-size="100" font-weight="normal" font-style="normal" fill="#b5b5b5">F</text>
<text class="ss" transform="translate(1729.1 662.7) scale(1.33 1.35)" font-size="100" font-weight="normal" font-style="normal" fill="#b5b5b5">A</text>
<text class="ss" transform="translate(2266.35 745.6) scale(1.28 1.34)" font-size="100" font-weight="normal" font-style="normal" fill="#b5b5b5">B</text>
<text class="ss" transform="translate(2576.06 956.65) scale(1.23 1.35)" font-size="100" font-weight="normal" font-style="normal" fill="#b5b5b5">C</text>
<text class="ss" transform="translate(1778.35 1819.4) scale(1.08 1.33)" font-size="100" font-weight="normal" font-style="normal" fill="#b5b5b5">E</text>
<path class="kh" d="M400 657.4C404.1 657.4 408.8 658.8 412.1 661.2C415.4 663.6 418.2 667.3 419.7 671.8C421.1 676.3 420.6 681.6 420.7 688.4C420.9 695.2 420.6 703.8 420.4 712.6C420.2 721.4 420 734 419.7 741.3C419.3 748.6 419.4 752.2 418.2 756.4C416.9 760.5 415.1 764 412.1 766.2C409.1 768.4 404.1 769.7 400 769.7C396 769.7 391.2 768.4 387.9 766.2C384.7 764 382.1 759.8 380.4 756.4C378.6 753 378.9 749.1 377.4 745.8C375.9 742.5 373.8 739 371.3 736.7C368.8 734.5 365.3 733.3 362.3 732.2C359.2 731.1 355.8 731.5 353.2 729.9C350.5 728.4 347.9 726 346.4 723.2C344.8 720.3 343.8 716.1 343.8 712.6C343.8 709.1 344.8 704.9 346.4 702C347.9 699.1 350.5 696.7 353.2 695.2C355.8 693.7 359.2 694.1 362.3 692.9C365.3 691.8 368.7 690.7 371.3 688.4C374 686.1 376.5 682.6 378.1 679.3C379.8 676.1 379.5 671.8 381.1 668.8C382.8 665.7 384.8 663.1 387.9 661.2C391.1 659.3 396 657.4 400 657.4Z"/>
<path class="kh" d="M357.7 1416.7C360.7 1417.1 365.4 1417.6 368.3 1419.4C371.2 1421.3 373.1 1424.3 375.1 1427.7C377.1 1431.1 378.5 1435.5 380.4 1439.8C382.3 1444.1 384.2 1449.6 386.4 1453.4C388.7 1457.2 391 1460.5 394 1462.5C397 1464.5 400.8 1465.1 404.6 1465.5C408.3 1465.9 412.9 1464 416.6 1464.7C420.4 1465.5 424.5 1467.6 427.2 1470C430 1472.4 432.1 1476.1 433.3 1479.1C434.4 1482.1 434.5 1485.4 434 1488.2C433.5 1490.9 432.4 1493.4 430.2 1495.7C428.1 1498 426 1499.1 421.2 1501.7C416.4 1504.4 408.6 1508.2 401.5 1511.6C394.5 1515 385.9 1518.9 378.9 1522.1C371.8 1525.4 364 1529.4 359.2 1531.2C354.4 1533 353.2 1533.2 350.2 1533.2C347.1 1533.2 343.7 1532.7 341.1 1531.2C338.5 1529.7 335.9 1527.1 334.3 1524.4C332.7 1521.8 331.9 1518.4 331.7 1515.3C331.6 1512.3 332 1509 333.5 1506.3C335.1 1503.5 338.7 1501 341.1 1498.7C343.5 1496.5 346.4 1495.2 347.9 1492.7C349.4 1490.2 350.3 1486.9 350.2 1483.6C350 1480.3 348.7 1477.1 347.1 1473C345.6 1469 342.9 1464 341.1 1459.4C339.3 1454.9 337.6 1449.6 336.6 1445.9C335.6 1442.1 334.9 1439.8 335.1 1436.8C335.2 1433.8 335.8 1430.5 337.3 1427.7C338.8 1425 342 1421.9 344.1 1420.2C346.3 1418.4 347.9 1417.7 350.2 1417.2C352.4 1416.6 354.7 1416.3 357.7 1416.7Z"/>
<path class="kh" d="M1844.4 561C1849.1 561 1854.3 562.3 1858.3 564.8C1862.3 567.3 1866 572.2 1868.1 576.1C1870.2 580 1871 584 1870.8 588.2C1870.7 592.3 1869.1 597.5 1867.4 601C1865.7 604.6 1861.8 607 1860.6 609.3C1859.3 611.7 1859.4 612.1 1859.8 615.4C1860.2 618.7 1861.7 624.4 1862.8 629C1864 633.5 1865.5 638.4 1866.6 642.6C1867.7 646.7 1869.4 651 1869.6 653.9C1869.9 656.8 1869.3 658.6 1868.1 659.9C1867 661.3 1862.8 662.2 1862.8 662.2C1862.8 662.2 1850.6 662.5 1844.4 662.5C1838.2 662.5 1825.8 662.2 1825.8 662.2C1825.8 662.2 1824.7 661.3 1824.3 659.9C1823.9 658.6 1823 656.8 1823.2 653.9C1823.5 651 1824.9 646.7 1825.8 642.6C1826.7 638.4 1828 633.5 1828.8 629C1829.7 624.4 1831.1 618.7 1831.1 615.4C1831.1 612.1 1830.5 611.7 1828.8 609.3C1827.2 607 1823.1 604.6 1821.3 601C1819.5 597.5 1818.1 592.3 1818 588.2C1817.8 584 1818.5 580 1820.5 576.1C1822.6 572.2 1826.4 567.3 1830.3 564.8C1834.3 562.3 1839.7 561 1844.4 561Z"/>
<path class="kh" d="M2361.2 664.7C2369.3 666 2388 672.9 2401.5 677.3C2414.9 681.6 2433.6 687.5 2441.8 690.9C2449.9 694.2 2450.3 695.1 2450.3 697.4C2450.3 699.8 2449.9 701.4 2441.8 705C2433.6 708.6 2414.9 714.5 2401.5 719.1C2388 723.7 2369.3 731.2 2361.2 732.7C2353 734.1 2354.3 733.5 2352.6 727.6C2350.9 721.8 2351.1 707.1 2351.1 697.4C2351.1 687.8 2350.9 675.2 2352.6 669.7C2354.3 664.3 2353 663.4 2361.2 664.7Z"/>
<path class="kh" d="M2692.8 852.2C2695.1 852.2 2696.3 851.9 2699.5 855.2C2702.6 858.4 2708.4 867 2711.5 871.8C2714.7 876.6 2717.4 880.3 2718.2 883.9C2718.9 887.4 2717.4 890.4 2716.1 892.9C2714.7 895.5 2711.2 895 2710 899C2708.9 903 2709.1 908 2709.1 917.1C2709.1 926.2 2710.6 945.9 2710 953.4C2709.4 960.8 2708 960.2 2705.5 961.8C2703 963.4 2698.4 963 2694.9 963C2691.4 963 2686.8 963.4 2684.3 961.8C2681.9 960.2 2680.9 960.8 2680.4 953.4C2679.9 945.9 2681.3 926.2 2681.3 917.1C2681.4 908 2682.5 903 2680.7 899C2679 895 2672.9 895.2 2670.7 892.9C2668.6 890.7 2667.2 888.9 2667.7 885.4C2668.2 881.9 2670.7 876.8 2673.8 871.8C2676.8 866.8 2682.7 858.4 2685.9 855.2C2689 851.9 2690.5 852.2 2692.8 852.2Z"/>
<path class="kh" d="M1852.1 1775.6C1851.8 1769.5 1853.3 1763.2 1856 1758C1858.7 1752.9 1862.8 1747.5 1868.1 1744.4C1873.4 1741.4 1881.7 1740.2 1887.7 1739.9C1893.8 1739.7 1899.6 1741.3 1904.3 1742.9C1909.1 1744.5 1912.4 1749.8 1916.4 1749.6C1920.5 1749.3 1924.1 1743.6 1928.5 1741.4C1932.9 1739.2 1938 1736.3 1943 1736.3C1948.1 1736.3 1954.6 1738.3 1958.7 1741.4C1962.9 1744.5 1966 1751.2 1967.8 1755C1969.6 1758.8 1969.6 1760.6 1969.3 1764.1C1969.1 1767.6 1968.3 1772.6 1966.3 1776.2C1964.3 1779.7 1961.1 1783.1 1957.2 1785.2C1953.3 1787.4 1947.3 1788.4 1943 1788.9C1938.7 1789.4 1935 1787.8 1931.5 1788.3C1928.1 1788.8 1925 1789.9 1922.5 1791.9C1920 1793.9 1919.5 1797.7 1916.4 1800.3C1913.4 1803 1909.1 1806.1 1904.3 1807.9C1899.6 1809.7 1893.5 1811.5 1887.7 1811.2C1881.9 1811 1874.6 1809.2 1869.6 1806.4C1864.6 1803.6 1860.4 1799.4 1857.5 1794.3C1854.6 1789.2 1852.3 1781.6 1852.1 1775.6Z"/>
<text class="ss" transform="translate(2549.24 433.45) scale(0.31 0.33)" font-size="100" font-weight="bold" font-style="normal" fill="#808285">Keyhole Names</text>
<text class="ss" transform="translate(2641.72 490.85) scale(0.35 0.37)" font-size="100" font-weight="bold" font-style="normal" fill="#000" stroke="#efefef" stroke-width="1.4">keyhole</text>
<text class="ss" transform="translate(2643.8 567.9) scale(0.34 0.37)" font-size="100" font-weight="bold" font-style="normal" fill="#000" stroke="#efefef" stroke-width="1.4">triangle</text>
<text class="ss" transform="translate(2643.1 638.29) scale(0.35 0.37)" font-size="100" font-weight="bold" font-style="normal" fill="#000" stroke="#efefef" stroke-width="1.4">arrow</text>
<text class="ss" transform="translate(2920.96 490.85) scale(0.36 0.37)" font-size="100" font-weight="bold" font-style="normal" fill="#000" stroke="#efefef" stroke-width="1.4">wee-T</text>
<text class="ss" transform="translate(2919.59 562.76) scale(0.34 0.37)" font-size="100" font-weight="bold" font-style="normal" fill="#000" stroke="#efefef" stroke-width="1.4">snowman</text>
<text class="ss" transform="translate(2920.61 639.5) scale(0.35 0.37)" font-size="100" font-weight="bold" font-style="normal" fill="#000" stroke="#efefef" stroke-width="1.4">T</text>
<path transform="translate(2586.7 480.3) rotate(0) scale(1)" fill="#b5b5b5" d="M0 -29.6C3.1 -29.6 6.9 -28.5 9.4 -26.6C11.9 -24.7 14.2 -21.1 15.1 -18.1C16.1 -15.2 15.9 -11.9 15.1 -9.1C14.4 -6.2 11.7 -3.4 10.6 -0.9C9.5 1.6 8.3 3.1 8.5 6C8.6 9 10.6 13.6 11.5 16.6C12.4 19.6 13.9 22.2 13.9 24.2C13.9 26.2 13.8 27.8 11.5 28.7C9.2 29.6 3.8 29.6 0 29.6C-3.8 29.6 -8.9 29.6 -11.2 28.7C-13.4 27.8 -13.6 26.2 -13.6 24.2C-13.6 22.2 -12.1 19.6 -11.2 16.6C-10.3 13.6 -8.3 9 -8.2 6C-8.1 3.1 -9.4 1.6 -10.6 -0.9C-11.7 -3.4 -14.4 -6.2 -15.1 -9.1C-15.9 -11.9 -16.1 -15.2 -15.1 -18.1C-14.2 -21.1 -11.9 -24.7 -9.4 -26.6C-6.9 -28.5 -3.1 -29.6 0 -29.6Z"/>
<path transform="translate(2586.4 552.8) rotate(0) scale(1)" fill="#b5b5b5" d="M-0.3 -29.6C1.2 -29.6 2.7 -29.9 4.2 -27.2C5.7 -24.5 7 -19.1 8.8 -13.6C10.5 -8.1 12.9 0 14.8 6C16.7 12.1 19.2 19 19.9 22.7C20.7 26.3 20.4 26.9 19.3 28.1C18.2 29.3 16.6 29.3 13.3 29.6C10 29.9 4.2 29.9 -0.3 29.9C-4.8 29.9 -10.7 29.9 -13.9 29.6C-17.1 29.3 -18.3 29.3 -19.3 28.1C-20.3 26.9 -20.7 26.3 -19.9 22.7C-19.2 19 -16.6 12.1 -14.8 6C-13 0 -11 -8.1 -9.4 -13.6C-7.7 -19.1 -6.3 -24.5 -4.8 -27.2C-3.3 -29.9 -1.8 -29.6 -0.3 -29.6Z"/>
<path transform="translate(2586.4 629.2) rotate(0) scale(1)" fill="#b5b5b5" d="M0 -29.6C1.4 -29.6 2.5 -29 4.2 -27.2C5.9 -25.4 8.8 -21.4 10.3 -19C11.8 -16.7 13 -14.8 13.3 -13C13.5 -11.2 12.7 -9.6 11.8 -8.5C10.9 -7.3 8.5 -8.6 7.9 -6C7.2 -3.5 7.8 1.8 7.9 6.6C7.9 11.5 8.5 19.6 8.2 23.3C7.8 26.9 7.1 27.3 5.7 28.4C4.4 29.5 1.9 29.6 0 29.6C-1.9 29.6 -4.4 29.5 -5.7 28.4C-7.1 27.3 -7.8 26.9 -8.2 23.3C-8.5 19.6 -7.9 11.5 -7.9 6.6C-7.8 1.8 -7.2 -3.5 -7.9 -6C-8.5 -8.6 -10.9 -7.3 -11.8 -8.5C-12.7 -9.6 -13.5 -11.2 -13.3 -13C-13 -14.8 -11.8 -16.7 -10.3 -19C-8.8 -21.4 -5.9 -25.4 -4.2 -27.2C-2.5 -29 -1.4 -29.6 0 -29.6Z"/>
<path transform="translate(2862 480.3) rotate(0) scale(1)" fill="#b5b5b5" d="M0 -23.3C3.2 -23.3 7.3 -22.2 9.7 -20.6C12 -18.9 13.1 -16 14.2 -13.6C15.3 -11.2 14.8 -8 16.3 -6C17.8 -4.1 20.9 -3.5 23.3 -2.1C25.7 -0.8 29.1 0.3 30.8 2.1C32.6 4 33.6 6.4 33.8 9.1C34.1 11.7 33.6 15.9 32.3 18.1C31.1 20.4 31.7 21.9 26.3 22.7C20.9 23.5 8.7 23 0 23C-8.7 23 -20.7 23.5 -26 22.7C-31.3 21.9 -30.8 20.4 -32 18.1C-33.3 15.9 -33.8 11.7 -33.5 9.1C-33.3 6.4 -32.3 4 -30.5 2.1C-28.8 0.3 -25.4 -0.8 -23 -2.1C-20.6 -3.5 -17.5 -4.1 -16 -6C-14.5 -8 -15 -11.2 -13.9 -13.6C-12.8 -16 -11.7 -18.9 -9.4 -20.6C-7.1 -22.2 -3.2 -23.3 0 -23.3Z"/>
<path transform="translate(2864.8 552.8) rotate(0) scale(1)" fill="#b5b5b5" d="M0.3 -29.6C3.1 -29.6 6.3 -28.9 8.5 -27.2C10.6 -25.5 12.3 -22.2 13 -19.6C13.6 -17.1 13.1 -14.4 12.4 -12.1C11.6 -9.8 8.9 -7.8 8.5 -6C8.1 -4.3 8.8 -3.5 10 -1.5C11.1 0.5 14.3 3.5 15.4 6C16.5 8.6 17 10.8 16.6 13.6C16.2 16.4 14.6 20.2 13 22.7C11.4 25.1 9.2 26.9 7 28.1C4.7 29.3 2.1 29.6 -0.3 29.6C-2.7 29.6 -5.3 29.3 -7.6 28.1C-9.8 26.9 -12 25.1 -13.6 22.7C-15.2 20.2 -16.8 16.4 -17.2 13.6C-17.6 10.8 -17.1 8.6 -16 6C-14.9 3.5 -11.8 0.5 -10.6 -1.5C-9.4 -3.5 -8.5 -4.3 -8.8 -6C-9.1 -7.8 -11.7 -9.8 -12.4 -12.1C-13.1 -14.4 -13.7 -17.1 -13 -19.6C-12.3 -22.2 -10.4 -25.5 -8.2 -27.2C-5.9 -28.9 -2.5 -29.6 0.3 -29.6Z"/>
<path transform="translate(2864.5 629.2) rotate(0) scale(1)" fill="#b5b5b5" d="M-0.3 -29.6C2.4 -29.6 5.7 -28.4 7.9 -26.6C10 -24.8 11.6 -22.1 12.4 -19C13.2 -16 12.5 -11.7 12.7 -8.5C12.8 -5.2 12.2 -1.9 13.3 0.6C14.4 3.1 17.1 4.9 19.3 6.6C21.6 8.4 25 9.3 26.9 11.2C28.8 13.1 30.2 15.8 30.5 18.1C30.9 20.5 30.3 23.5 29 25.4C27.8 27.2 27.9 28.6 23 29.3C18.1 30 7.5 29.6 -0.3 29.6C-8.1 29.6 -18.7 30 -23.6 29.3C-28.5 28.6 -28.5 27.2 -29.6 25.4C-30.8 23.5 -31 20.5 -30.5 18.1C-30.1 15.8 -28.8 13.1 -26.9 11.2C-25 9.3 -21.6 8.4 -19.3 6.6C-17.1 4.9 -14.4 3.1 -13.3 0.6C-12.2 -1.9 -13.1 -5.2 -13 -8.5C-12.9 -11.7 -13.4 -16 -12.7 -19C-11.9 -22.1 -10.5 -24.8 -8.5 -26.6C-6.4 -28.4 -3 -29.6 -0.3 -29.6Z"/>

</svg>
</body></html>
